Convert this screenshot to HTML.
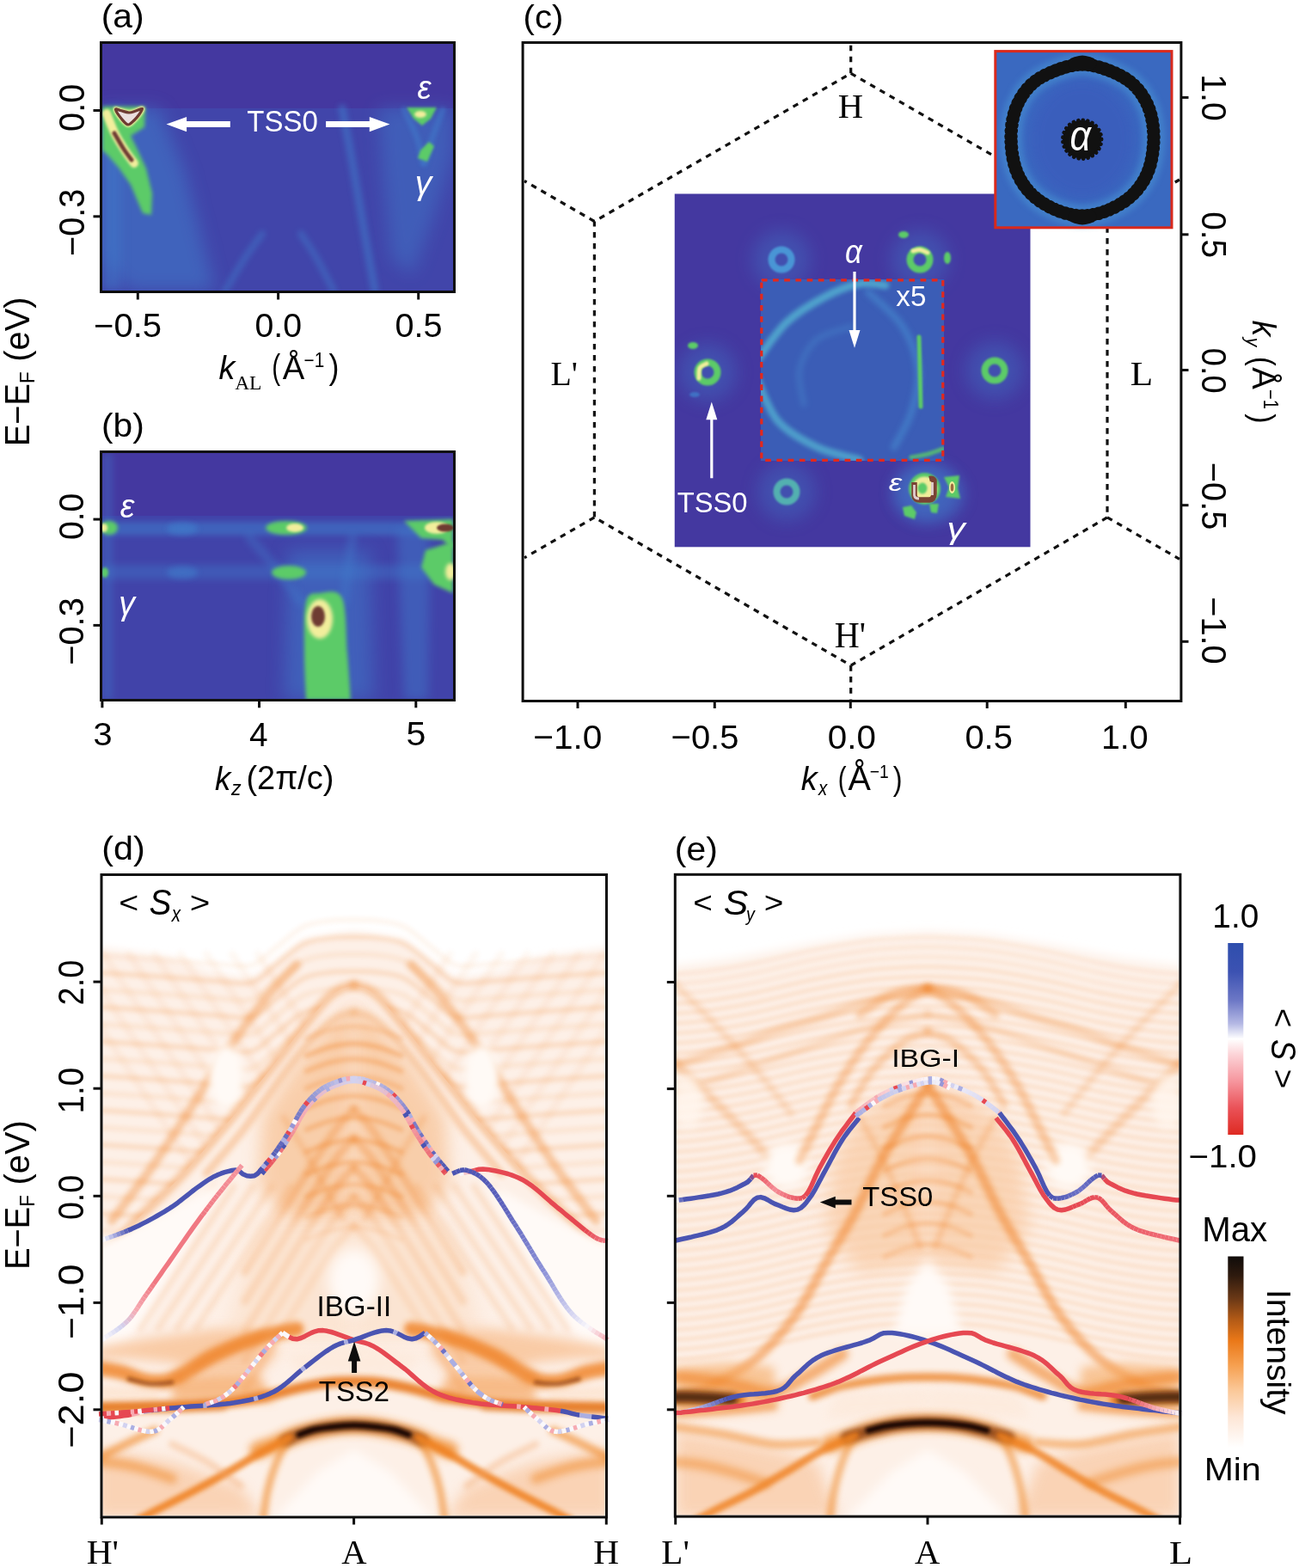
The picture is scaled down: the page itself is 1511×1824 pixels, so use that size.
<!DOCTYPE html>
<html><head><meta charset="utf-8"><style>
html,body{margin:0;padding:0;background:#fff;}
svg{display:block;}
</style></head><body>
<svg width="1511" height="1824" viewBox="0 0 1511 1824">
<rect width="1511" height="1824" fill="#fff"/>
<defs><filter id="b0_5" filterUnits="userSpaceOnUse" x="0" y="0" width="1511" height="1824"><feGaussianBlur stdDeviation="0.5"/></filter><filter id="b0_7" filterUnits="userSpaceOnUse" x="0" y="0" width="1511" height="1824"><feGaussianBlur stdDeviation="0.7"/></filter><filter id="b1" filterUnits="userSpaceOnUse" x="0" y="0" width="1511" height="1824"><feGaussianBlur stdDeviation="1"/></filter><filter id="b1_5" filterUnits="userSpaceOnUse" x="0" y="0" width="1511" height="1824"><feGaussianBlur stdDeviation="1.5"/></filter><filter id="b2" filterUnits="userSpaceOnUse" x="0" y="0" width="1511" height="1824"><feGaussianBlur stdDeviation="2"/></filter><filter id="b2_2" filterUnits="userSpaceOnUse" x="0" y="0" width="1511" height="1824"><feGaussianBlur stdDeviation="2.2"/></filter><filter id="b2_5" filterUnits="userSpaceOnUse" x="0" y="0" width="1511" height="1824"><feGaussianBlur stdDeviation="2.5"/></filter><filter id="b3" filterUnits="userSpaceOnUse" x="0" y="0" width="1511" height="1824"><feGaussianBlur stdDeviation="3"/></filter><filter id="b3_5" filterUnits="userSpaceOnUse" x="0" y="0" width="1511" height="1824"><feGaussianBlur stdDeviation="3.5"/></filter><filter id="b4" filterUnits="userSpaceOnUse" x="0" y="0" width="1511" height="1824"><feGaussianBlur stdDeviation="4"/></filter><filter id="b5" filterUnits="userSpaceOnUse" x="0" y="0" width="1511" height="1824"><feGaussianBlur stdDeviation="5"/></filter><filter id="b6" filterUnits="userSpaceOnUse" x="0" y="0" width="1511" height="1824"><feGaussianBlur stdDeviation="6"/></filter><filter id="b7" filterUnits="userSpaceOnUse" x="0" y="0" width="1511" height="1824"><feGaussianBlur stdDeviation="7"/></filter><filter id="b8" filterUnits="userSpaceOnUse" x="0" y="0" width="1511" height="1824"><feGaussianBlur stdDeviation="8"/></filter><filter id="b9" filterUnits="userSpaceOnUse" x="0" y="0" width="1511" height="1824"><feGaussianBlur stdDeviation="9"/></filter><filter id="b10" filterUnits="userSpaceOnUse" x="0" y="0" width="1511" height="1824"><feGaussianBlur stdDeviation="10"/></filter><filter id="b12" filterUnits="userSpaceOnUse" x="0" y="0" width="1511" height="1824"><feGaussianBlur stdDeviation="12"/></filter><filter id="b15" filterUnits="userSpaceOnUse" x="0" y="0" width="1511" height="1824"><feGaussianBlur stdDeviation="15"/></filter><filter id="b20" filterUnits="userSpaceOnUse" x="0" y="0" width="1511" height="1824"><feGaussianBlur stdDeviation="20"/></filter><filter id="b25" filterUnits="userSpaceOnUse" x="0" y="0" width="1511" height="1824"><feGaussianBlur stdDeviation="25"/></filter><filter id="b30" filterUnits="userSpaceOnUse" x="0" y="0" width="1511" height="1824"><feGaussianBlur stdDeviation="30"/></filter><clipPath id="clipA"><rect x="119" y="51" width="408" height="287"/></clipPath><clipPath id="clipB"><rect x="119" y="527" width="408" height="287"/></clipPath><clipPath id="clipC"><rect x="784.5" y="225.3" width="414.2" height="411.3"/></clipPath><clipPath id="clipI"><rect x="1157" y="59" width="206" height="206"/></clipPath><clipPath id="clipBox"><rect x="885" y="325" width="213" height="211"/></clipPath></defs>
<g clip-path="url(#clipA)">
<rect x="119" y="51" width="408" height="287" fill="#4438a0"/>
<rect x="119" y="126" width="408" height="212" fill="#4145aa"/>
<path d="M119.0,126.0 L185.0,126.0 L215.0,200.0 L250.0,338.0 L150.0,338.0 L119.0,300.0Z" fill="#3f7ccb" stroke="none" opacity="0.55" filter="url(#b10)" stroke-linecap="round" stroke-linejoin="round" />
<path d="M119.0,126.0 L140.0,126.0 L140.0,338.0 L119.0,338.0Z" fill="#3f7ccb" stroke="none" opacity="0.5" filter="url(#b6)" stroke-linecap="round" stroke-linejoin="round" />
<path d="M440.0,126.0 L527.0,126.0 L527.0,180.0 L505.0,250.0 L480.0,320.0 L455.0,300.0 L445.0,200.0Z" fill="#3f7ccb" stroke="none" opacity="0.45" filter="url(#b10)" stroke-linecap="round" stroke-linejoin="round" />
<path d="M398.0,126.0 C400.0,136.7 406.0,167.7 410.0,190.0 C414.0,212.3 417.7,235.3 422.0,260.0 C426.3,284.7 433.7,325.0 436.0,338.0" fill="none" stroke="#3f7ccb" stroke-width="9" opacity="0.55" filter="url(#b3)" stroke-linecap="round" stroke-linejoin="round" />
<path d="M262.0,338.0 C265.8,331.7 277.8,311.0 285.0,300.0 C292.2,289.0 301.7,276.7 305.0,272.0" fill="none" stroke="#3f7ccb" stroke-width="8" opacity="0.45" filter="url(#b3)" stroke-linecap="round" stroke-linejoin="round" />
<path d="M388.0,338.0 C384.7,331.7 374.3,311.0 368.0,300.0 C361.7,289.0 353.0,276.7 350.0,272.0" fill="none" stroke="#3f7ccb" stroke-width="8" opacity="0.45" filter="url(#b3)" stroke-linecap="round" stroke-linejoin="round" />
<path d="M470.0,128.0 C472.5,133.3 481.3,149.7 485.0,160.0 C488.7,170.3 490.8,185.0 492.0,190.0" fill="none" stroke="#3f7ccb" stroke-width="7" opacity="0.5" filter="url(#b2)" stroke-linecap="round" stroke-linejoin="round" />
<path d="M515.0,128.0 C513.0,133.3 506.5,149.7 503.0,160.0 C499.5,170.3 495.5,185.0 494.0,190.0" fill="none" stroke="#3f7ccb" stroke-width="7" opacity="0.5" filter="url(#b2)" stroke-linecap="round" stroke-linejoin="round" />
<path d="M119.0,124.0 L169.0,124.0 L168.0,148.0 L152.0,158.0 L158.0,170.0 L170.0,196.0 L177.0,225.0 L176.0,250.0 L166.0,248.0 L152.0,215.0 L138.0,195.0 L125.0,180.0 L119.0,175.0Z" fill="#5ccb68" stroke="none" opacity="1" filter="url(#b2)" stroke-linecap="round" stroke-linejoin="round" />
<path d="M124.0,132.0 C125.7,136.0 130.3,148.7 134.0,156.0 C137.7,163.3 142.3,170.3 146.0,176.0 C149.7,181.7 154.3,187.7 156.0,190.0" fill="none" stroke="#f2ee9c" stroke-width="10" opacity="1" filter="url(#b1_5)" stroke-linecap="round" stroke-linejoin="round" />
<path d="M133.0,155.0 C134.7,157.8 139.7,166.8 143.0,172.0 C146.3,177.2 151.3,183.7 153.0,186.0" fill="none" stroke="#6e3a30" stroke-width="5" opacity="1" filter="url(#b1)" stroke-linecap="round" stroke-linejoin="round" />
<path d="M134.5,127.5 C134.2,125.8 137.4,127.9 140.0,128.5 C142.6,129.1 147.0,130.9 150.0,131.0 C153.0,131.1 155.4,129.8 158.0,129.0 C160.6,128.2 164.8,125.8 165.5,126.5 C166.2,127.2 163.6,130.8 162.0,133.0 C160.4,135.2 158.2,138.0 156.0,140.0 C153.8,142.0 151.3,145.2 149.0,145.0 C146.7,144.8 144.4,141.9 142.0,139.0 C139.6,136.1 134.8,129.2 134.5,127.5Z" fill="none" stroke="#f2ee9c" stroke-width="6" opacity="1" filter="url(#b1)" stroke-linecap="round" stroke-linejoin="round" />
<path d="M134.5,127.5 C134.2,125.8 137.4,127.9 140.0,128.5 C142.6,129.1 147.0,130.9 150.0,131.0 C153.0,131.1 155.4,129.8 158.0,129.0 C160.6,128.2 164.8,125.8 165.5,126.5 C166.2,127.2 163.6,130.8 162.0,133.0 C160.4,135.2 158.2,138.0 156.0,140.0 C153.8,142.0 151.3,145.2 149.0,145.0 C146.7,144.8 144.4,141.9 142.0,139.0 C139.6,136.1 134.8,129.2 134.5,127.5Z" fill="#eadede" stroke="#6e3a30" stroke-width="3.2" opacity="1" filter="url(#b0_5)" stroke-linecap="round" stroke-linejoin="round" />
<path d="M473.0,125.0 L508.0,125.0 L501.0,138.0 L491.0,146.0 L481.0,138.0Z" fill="#5ccb68" stroke="none" opacity="1" filter="url(#b1_5)" stroke-linecap="round" stroke-linejoin="round" />
<ellipse cx="489" cy="133" rx="7" ry="4" fill="#f2ee9c" opacity="1" filter="url(#b1_5)"/>
<path d="M499.0,165.0 L505.0,170.0 L497.0,188.0 L486.0,184.0 L489.0,175.0Z" fill="#5ccb68" stroke="none" opacity="1" filter="url(#b1_5)" stroke-linecap="round" stroke-linejoin="round" />
</g>
<g clip-path="url(#clipB)">
<rect x="119" y="527" width="408" height="287" fill="#4438a0"/>
<rect x="119" y="600" width="408" height="214" fill="#4143a9"/>
<rect x="119" y="607" width="408" height="16" fill="#3f7ccb" opacity="0.55" filter="url(#b3)"/>
<rect x="119" y="657" width="408" height="17" fill="#3f7ccb" opacity="0.4" filter="url(#b4)"/>
<rect x="119" y="527" width="12" height="287" fill="#3f7ccb" opacity="0.35" filter="url(#b4)"/>
<path d="M335.0,640.0 L430.0,640.0 L435.0,814.0 L330.0,814.0Z" fill="#3f7ccb" stroke="none" opacity="0.5" filter="url(#b10)" stroke-linecap="round" stroke-linejoin="round" />
<path d="M462.0,615.0 L500.0,615.0 L498.0,814.0 L470.0,814.0Z" fill="#3f7ccb" stroke="none" opacity="0.45" filter="url(#b6)" stroke-linecap="round" stroke-linejoin="round" />
<path d="M290.0,625.0 C295.0,630.8 310.0,647.5 320.0,660.0 C330.0,672.5 345.0,693.3 350.0,700.0" fill="none" stroke="#3f7ccb" stroke-width="10" opacity="0.4" filter="url(#b4)" stroke-linecap="round" stroke-linejoin="round" />
<path d="M410.0,625.0 C409.2,630.8 406.7,647.5 405.0,660.0 C403.3,672.5 400.8,693.3 400.0,700.0" fill="none" stroke="#3f7ccb" stroke-width="10" opacity="0.4" filter="url(#b4)" stroke-linecap="round" stroke-linejoin="round" />
<ellipse cx="212" cy="615" rx="18" ry="7" fill="#3f7ccb" opacity="0.7" filter="url(#b3)"/>
<ellipse cx="212" cy="666" rx="18" ry="7" fill="#3f7ccb" opacity="0.6" filter="url(#b3)"/>
<ellipse cx="127" cy="614" rx="10" ry="8" fill="#5ccb68" opacity="1" filter="url(#b2)"/>
<ellipse cx="121" cy="614" rx="4" ry="5" fill="#f2ee9c" opacity="1" filter="url(#b1_5)"/>
<ellipse cx="333" cy="614" rx="24" ry="8" fill="#5ccb68" opacity="1" filter="url(#b2)"/>
<ellipse cx="343" cy="614" rx="10" ry="5" fill="#f2ee9c" opacity="1" filter="url(#b1_5)"/>
<ellipse cx="336" cy="666" rx="20" ry="8" fill="#5ccb68" opacity="1" filter="url(#b2)"/>
<ellipse cx="122" cy="666" rx="4" ry="6" fill="#5ccb68" opacity="1" filter="url(#b1_5)"/>
<path d="M470.0,606.0 L527.0,604.0 L527.0,640.0 L515.0,628.0 L490.0,626.0Z" fill="#5ccb68" stroke="none" opacity="1" filter="url(#b2)" stroke-linecap="round" stroke-linejoin="round" />
<ellipse cx="508" cy="614" rx="14" ry="7" fill="#f2ee9c" opacity="1" filter="url(#b1_5)"/>
<ellipse cx="518" cy="614" rx="10" ry="4.5" fill="#6e3a30" opacity="1" filter="url(#b1)"/>
<path d="M495.0,640.0 L527.0,630.0 L527.0,690.0 L505.0,680.0 L490.0,660.0Z" fill="#5ccb68" stroke="none" opacity="1" filter="url(#b2)" stroke-linecap="round" stroke-linejoin="round" />
<ellipse cx="524" cy="665" rx="6" ry="10" fill="#f2ee9c" opacity="1" filter="url(#b2)"/>
<path d="M356.0,814.0 C355.7,805.0 354.0,779.0 354.0,760.0 C354.0,741.0 353.0,711.7 356.0,700.0 C359.0,688.3 365.0,690.7 372.0,690.0 C379.0,689.3 392.7,684.3 398.0,696.0 C403.3,707.7 402.3,740.3 404.0,760.0 C405.7,779.7 407.3,805.0 408.0,814.0" fill="#5ccb68" stroke="none" opacity="1" filter="url(#b2)" stroke-linecap="round" stroke-linejoin="round" />
<ellipse cx="372" cy="720" rx="15" ry="23" fill="#f2ee9c" opacity="1" filter="url(#b2)"/>
<ellipse cx="370" cy="717" rx="8" ry="12" fill="#6e3a30" opacity="1" filter="url(#b1_5)"/>
</g>
<path d="M989.7,85.3 L1288.0,257.5 L1288.0,601.9 L989.7,774.1 L691.4,601.9 L691.4,257.5Z" fill="none" stroke="#111" stroke-width="3.2" stroke-dasharray="6.6 6.4"/>
<line x1="989.7" y1="85.3" x2="989.7" y2="51.0" stroke="#111" stroke-width="3.2" stroke-dasharray="6.6 6.4"/>
<line x1="989.7" y1="774.1" x2="989.7" y2="813.5" stroke="#111" stroke-width="3.2" stroke-dasharray="6.6 6.4"/>
<line x1="691.4" y1="257.5" x2="610.0" y2="210.5" stroke="#111" stroke-width="3.2" stroke-dasharray="6.6 6.4"/>
<line x1="691.4" y1="601.9" x2="610.0" y2="648.9" stroke="#111" stroke-width="3.2" stroke-dasharray="6.6 6.4"/>
<line x1="1288.0" y1="257.5" x2="1372.0" y2="209.0" stroke="#111" stroke-width="3.2" stroke-dasharray="6.6 6.4"/>
<line x1="1288.0" y1="601.9" x2="1372.0" y2="650.4" stroke="#111" stroke-width="3.2" stroke-dasharray="6.6 6.4"/>
<g clip-path="url(#clipC)">
<rect x="784.5" y="225.3" width="414.2" height="411.3" fill="#4438a0"/>
<ellipse cx="909" cy="302" rx="34" ry="34" fill="#3f7ccb" opacity="0.35" filter="url(#b10)"/>
<ellipse cx="1070" cy="302" rx="34" ry="34" fill="#3f7ccb" opacity="0.35" filter="url(#b10)"/>
<ellipse cx="823" cy="433" rx="34" ry="34" fill="#3f7ccb" opacity="0.35" filter="url(#b10)"/>
<ellipse cx="1157" cy="431" rx="34" ry="34" fill="#3f7ccb" opacity="0.35" filter="url(#b10)"/>
<ellipse cx="915" cy="572" rx="34" ry="34" fill="#3f7ccb" opacity="0.35" filter="url(#b10)"/>
<ellipse cx="1075" cy="569" rx="34" ry="34" fill="#3f7ccb" opacity="0.35" filter="url(#b10)"/>
<g clip-path="url(#clipBox)">
<rect x="885" y="325" width="213" height="211" fill="#3b5db6"/>
<path d="M880.0,420.0 C885.8,412.5 901.7,387.5 915.0,375.0 C928.3,362.5 945.8,352.5 960.0,345.0 C974.2,337.5 988.3,332.2 1000.0,330.0 C1011.7,327.8 1025.0,331.7 1030.0,332.0" fill="none" stroke="#52aed0" stroke-width="9" opacity="0.85" filter="url(#b2_5)" stroke-linecap="round" stroke-linejoin="round" />
<path d="M880.0,440.0 C884.2,448.3 893.3,476.7 905.0,490.0 C916.7,503.3 934.2,512.5 950.0,520.0 C965.8,527.5 991.7,532.5 1000.0,535.0" fill="none" stroke="#52aed0" stroke-width="9" opacity="0.8" filter="url(#b2_5)" stroke-linecap="round" stroke-linejoin="round" />
<path d="M1010.0,340.0 C1016.7,346.7 1040.3,365.0 1050.0,380.0 C1059.7,395.0 1066.3,413.3 1068.0,430.0 C1069.7,446.7 1064.7,465.0 1060.0,480.0 C1055.3,495.0 1043.3,513.3 1040.0,520.0" fill="none" stroke="#4a95d5" stroke-width="8" opacity="0.5" filter="url(#b3)" stroke-linecap="round" stroke-linejoin="round" />
<path d="M935.0,470.0 C934.2,463.3 927.5,442.5 930.0,430.0 C932.5,417.5 940.0,403.3 950.0,395.0 C960.0,386.7 983.3,382.5 990.0,380.0" fill="none" stroke="#4a90d0" stroke-width="7" opacity="0.35" filter="url(#b3)" stroke-linecap="round" stroke-linejoin="round" />
<path d="M1069.0,392.0 C1069.2,398.3 1069.7,416.5 1070.0,430.0 C1070.3,443.5 1070.8,465.8 1071.0,473.0" fill="none" stroke="#5ccb68" stroke-width="5" opacity="1" filter="url(#b1)" stroke-linecap="round" stroke-linejoin="round" />
<path d="M1060.0,532.0 C1063.3,531.3 1073.8,529.7 1080.0,528.0 C1086.2,526.3 1094.2,523.0 1097.0,522.0" fill="none" stroke="#5ccb68" stroke-width="5" opacity="0.8" filter="url(#b1_5)" stroke-linecap="round" stroke-linejoin="round" />
</g>
<circle cx="909" cy="302" r="11.5" fill="none" stroke="#4a95d5" stroke-width="8" opacity="1" filter="url(#b1)"/>
<circle cx="1070" cy="302" r="11.5" fill="none" stroke="#5ccb68" stroke-width="8" opacity="1" filter="url(#b1)"/>
<path d="M1062.0,292.0 C1063.3,291.8 1067.2,290.2 1070.0,290.5 C1072.8,290.8 1077.5,293.4 1079.0,294.0" fill="none" stroke="#f2ee9c" stroke-width="5" opacity="1" filter="url(#b1)" stroke-linecap="round" stroke-linejoin="round" />
<circle cx="1157" cy="431" r="11.5" fill="none" stroke="#5ccb68" stroke-width="8" opacity="1" filter="url(#b1)"/>
<circle cx="823" cy="433" r="11.5" fill="none" stroke="#5ccb68" stroke-width="8" opacity="1" filter="url(#b1)"/>
<path d="M813.0,440.0 C813.2,438.0 812.5,430.8 814.0,428.0 C815.5,425.2 820.7,423.8 822.0,423.0" fill="none" stroke="#f2ee9c" stroke-width="5" opacity="1" filter="url(#b1)" stroke-linecap="round" stroke-linejoin="round" />
<circle cx="915" cy="572" r="11.5" fill="none" stroke="#52b0b0" stroke-width="8" opacity="1" filter="url(#b1)"/>
<ellipse cx="1051" cy="273" rx="6" ry="4" fill="#5ccb68" opacity="1" filter="url(#b1)"/>
<ellipse cx="1102" cy="300" rx="4" ry="7" fill="#5ccb68" opacity="1" filter="url(#b1)"/>
<ellipse cx="806" cy="402" rx="6" ry="4" fill="#5ccb68" opacity="1" filter="url(#b1)"/>
<ellipse cx="808" cy="459" rx="6" ry="3" fill="#3f7ccb" opacity="0.8" filter="url(#b1)"/>
<ellipse cx="1080" cy="575" rx="42" ry="34" fill="#3f7ccb" opacity="0.5" filter="url(#b8)"/>
<path d="M1098.0,555.0 L1116.0,553.0 L1114.0,568.0 L1117.0,580.0 L1100.0,578.0 L1104.0,567.0Z" fill="#5ccb68" stroke="none" opacity="1" filter="url(#b1)" stroke-linecap="round" stroke-linejoin="round" />
<ellipse cx="1107.5" cy="567" rx="3.5" ry="7" fill="#f2ee9c" opacity="1" filter="url(#b0_7)"/>
<ellipse cx="1107.5" cy="567" rx="1.8" ry="4.5" fill="#9a6a40" opacity="1" filter="url(#b0_5)"/>
<path d="M1050.0,590.0 L1060.0,588.0 L1066.0,596.0 L1064.0,604.0 L1052.0,600.0Z" fill="#5ccb68" stroke="none" opacity="1" filter="url(#b1)" stroke-linecap="round" stroke-linejoin="round" />
<path d="M1081.0,586.0 L1092.0,586.0 L1090.0,597.0 L1083.0,596.0Z" fill="#5ccb68" stroke="none" opacity="1" filter="url(#b1)" stroke-linecap="round" stroke-linejoin="round" />
<circle cx="1075.5" cy="568.5" r="18.5" fill="#5ccb68" filter="url(#b1)"/>
<circle cx="1075.5" cy="569" r="14.5" fill="#f0ec9a" filter="url(#b1)"/>
<ellipse cx="1073" cy="568" rx="5.5" ry="6.5" fill="#5ccb68" opacity="1" filter="url(#b1)"/>
<path d="M1063.5,561 L1063.5,576 Q1064,581.5 1070,581.5 L1081,581.5 Q1086.5,581 1086.5,574 L1086.5,559 Q1085,556 1081,557" fill="none" stroke="#7a4234" stroke-width="6.5" stroke-linejoin="round"/>
<path d="M1063.5,564 L1063.5,576 Q1064,580 1069,580 M1084.5,576 L1084.5,561" fill="none" stroke="#eadede" stroke-width="2.8" opacity="0.9"/>
</g>
<rect x="885.8" y="325.8" width="211" height="209.5" fill="none" stroke="#e4281c" stroke-width="3.2" stroke-dasharray="6.7 6.5"/>
<g clip-path="url(#clipI)">
<rect x="1157" y="59" width="206" height="206" fill="#3a69c0"/>
<ellipse cx="1259" cy="162" rx="62" ry="70" fill="#3a5cbc" opacity="0.8" filter="url(#b8)"/>
</g>
<path d="M1259.0,75.0 C1269.3,75.0 1280.2,78.2 1290.0,82.0 C1299.8,85.8 1310.3,90.8 1318.0,98.0 C1325.7,105.2 1332.0,114.7 1336.0,125.0 C1340.0,135.3 1342.0,147.8 1342.0,160.0 C1342.0,172.2 1340.0,187.0 1336.0,198.0 C1332.0,209.0 1325.7,218.3 1318.0,226.0 C1310.3,233.7 1299.8,239.8 1290.0,244.0 C1280.2,248.2 1269.3,251.0 1259.0,251.0 C1248.7,251.0 1237.8,248.2 1228.0,244.0 C1218.2,239.8 1207.7,233.7 1200.0,226.0 C1192.3,218.3 1186.0,209.0 1182.0,198.0 C1178.0,187.0 1176.0,172.2 1176.0,160.0 C1176.0,147.8 1178.0,135.3 1182.0,125.0 C1186.0,114.7 1192.3,105.2 1200.0,98.0 C1207.7,90.8 1218.2,85.8 1228.0,82.0 C1237.8,78.2 1248.7,75.0 1259.0,75.0Z" fill="none" stroke="#4a95d5" stroke-width="26" opacity="0.5" filter="url(#b3)" stroke-linecap="round" stroke-linejoin="round" />
<path d="M1259.0,75.0 C1269.3,75.0 1280.2,78.2 1290.0,82.0 C1299.8,85.8 1310.3,90.8 1318.0,98.0 C1325.7,105.2 1332.0,114.7 1336.0,125.0 C1340.0,135.3 1342.0,147.8 1342.0,160.0 C1342.0,172.2 1340.0,187.0 1336.0,198.0 C1332.0,209.0 1325.7,218.3 1318.0,226.0 C1310.3,233.7 1299.8,239.8 1290.0,244.0 C1280.2,248.2 1269.3,251.0 1259.0,251.0 C1248.7,251.0 1237.8,248.2 1228.0,244.0 C1218.2,239.8 1207.7,233.7 1200.0,226.0 C1192.3,218.3 1186.0,209.0 1182.0,198.0 C1178.0,187.0 1176.0,172.2 1176.0,160.0 C1176.0,147.8 1178.0,135.3 1182.0,125.0 C1186.0,114.7 1192.3,105.2 1200.0,98.0 C1207.7,90.8 1218.2,85.8 1228.0,82.0 C1237.8,78.2 1248.7,75.0 1259.0,75.0Z" fill="none" stroke="#111" stroke-width="12.5" opacity="1" stroke-linecap="round" stroke-linejoin="round" />
<path d="M1259.0,75.0 C1269.3,75.0 1280.2,78.2 1290.0,82.0 C1299.8,85.8 1310.3,90.8 1318.0,98.0 C1325.7,105.2 1332.0,114.7 1336.0,125.0 C1340.0,135.3 1342.0,147.8 1342.0,160.0 C1342.0,172.2 1340.0,187.0 1336.0,198.0 C1332.0,209.0 1325.7,218.3 1318.0,226.0 C1310.3,233.7 1299.8,239.8 1290.0,244.0 C1280.2,248.2 1269.3,251.0 1259.0,251.0 C1248.7,251.0 1237.8,248.2 1228.0,244.0 C1218.2,239.8 1207.7,233.7 1200.0,226.0 C1192.3,218.3 1186.0,209.0 1182.0,198.0 C1178.0,187.0 1176.0,172.2 1176.0,160.0 C1176.0,147.8 1178.0,135.3 1182.0,125.0 C1186.0,114.7 1192.3,105.2 1200.0,98.0 C1207.7,90.8 1218.2,85.8 1228.0,82.0 C1237.8,78.2 1248.7,75.0 1259.0,75.0Z" fill="none" stroke="#111" stroke-width="15.5" opacity="1" stroke-linecap="round" stroke-linejoin="round" stroke-dasharray="0.1 6.5"/>
<path d="M1250.0,74.0 C1251.5,73.7 1256.0,72.0 1259.0,72.0 C1262.0,72.0 1266.5,73.7 1268.0,74.0" fill="none" stroke="#111" stroke-width="15" opacity="1" stroke-linecap="round" stroke-linejoin="round" />
<path d="M1250.0,252.0 C1251.5,252.3 1256.0,254.0 1259.0,254.0 C1262.0,254.0 1266.5,252.3 1268.0,252.0" fill="none" stroke="#111" stroke-width="15" opacity="1" stroke-linecap="round" stroke-linejoin="round" />
<circle cx="1258.7" cy="162.2" r="22.5" fill="#111"/>
<circle cx="1258.7" cy="162.2" r="22.5" fill="none" stroke="#111" stroke-width="4.5" stroke-dasharray="0.1 5.5" stroke-linecap="round"/>
<rect x="1157.8" y="59.6" width="205.2" height="205.2" fill="none" stroke="#d9291c" stroke-width="3"/>
<clipPath id="clipD"><rect x="119.5" y="1019" width="584.2" height="744"/></clipPath>
<clipPath id="clipDup"><path d="M100.0,1000.0 L720.0,1000.0 L723.2,1480.0 L663.2,1418.0 L612.2,1368.0 L553.2,1300.0 L523.2,1262.0 L493.2,1224.0 L468.2,1192.0 L443.2,1162.0 L426.2,1150.0 L411.6,1146.0 L411.6,1146.0 L397.0,1150.0 L380.0,1162.0 L355.0,1192.0 L330.0,1224.0 L300.0,1262.0 L270.0,1300.0 L211.0,1368.0 L160.0,1418.0 L100.0,1480.0Z"/></clipPath>
<g clip-path="url(#clipD)">
<path d="M100.0,1100.0 L197.0,1113.0 L250.0,1131.0 L292.0,1137.0 L320.0,1117.0 L353.0,1092.0 L411.6,1083.0 L470.2,1092.0 L503.2,1117.0 L531.2,1137.0 L573.2,1131.0 L626.2,1113.0 L723.2,1100.0 L720.0,1780.0 L100.0,1780.0Z" fill="#fdf0e7" opacity="1" filter="url(#b5)"/>
<g clip-path="url(#clipDup)">
<path d="M100.0,1112.0 C103.8,1112.0 106.8,1111.2 123.0,1112.0 C139.2,1112.8 175.8,1115.5 197.0,1117.0 C218.2,1118.5 234.2,1120.0 250.0,1121.0 C265.8,1122.0 280.3,1126.0 292.0,1123.0 C303.7,1120.0 309.8,1110.5 320.0,1103.0 C330.2,1095.5 342.2,1083.3 353.0,1078.0 C363.8,1072.7 375.2,1072.3 385.0,1071.0 C394.8,1069.7 402.7,1070.0 411.6,1070.0 C420.5,1070.0 428.4,1069.7 438.2,1071.0 C448.0,1072.3 459.4,1072.7 470.2,1078.0 C481.0,1083.3 493.0,1095.5 503.2,1103.0 C513.4,1110.5 519.5,1120.0 531.2,1123.0 C542.9,1126.0 557.4,1122.0 573.2,1121.0 C589.0,1120.0 605.0,1118.5 626.2,1117.0 C647.4,1115.5 684.0,1112.8 700.2,1112.0 C716.4,1111.2 719.4,1112.0 723.2,1112.0" fill="none" stroke="#f07d1e" stroke-width="6" opacity="0.07" filter="url(#b2_5)" stroke-linecap="round"/>
<path d="M100.0,1132.0 C103.8,1132.0 106.8,1131.2 123.0,1132.0 C139.2,1132.8 175.8,1135.5 197.0,1137.0 C218.2,1138.5 234.2,1140.0 250.0,1141.0 C265.8,1142.0 280.3,1146.0 292.0,1143.0 C303.7,1140.0 309.8,1130.5 320.0,1123.0 C330.2,1115.5 342.2,1103.3 353.0,1098.0 C363.8,1092.7 375.2,1092.3 385.0,1091.0 C394.8,1089.7 402.7,1090.0 411.6,1090.0 C420.5,1090.0 428.4,1089.7 438.2,1091.0 C448.0,1092.3 459.4,1092.7 470.2,1098.0 C481.0,1103.3 493.0,1115.5 503.2,1123.0 C513.4,1130.5 519.5,1140.0 531.2,1143.0 C542.9,1146.0 557.4,1142.0 573.2,1141.0 C589.0,1140.0 605.0,1138.5 626.2,1137.0 C647.4,1135.5 684.0,1132.8 700.2,1132.0 C716.4,1131.2 719.4,1132.0 723.2,1132.0" fill="none" stroke="#f07d1e" stroke-width="6" opacity="0.17" filter="url(#b2_5)" stroke-linecap="round"/>
<path d="M100.0,1152.0 C103.8,1152.0 106.8,1151.2 123.0,1152.0 C139.2,1152.8 175.8,1155.5 197.0,1157.0 C218.2,1158.5 234.2,1160.0 250.0,1161.0 C265.8,1162.0 280.3,1166.0 292.0,1163.0 C303.7,1160.0 309.8,1150.5 320.0,1143.0 C330.2,1135.5 342.2,1123.3 353.0,1118.0 C363.8,1112.7 375.2,1112.3 385.0,1111.0 C394.8,1109.7 402.7,1110.0 411.6,1110.0 C420.5,1110.0 428.4,1109.7 438.2,1111.0 C448.0,1112.3 459.4,1112.7 470.2,1118.0 C481.0,1123.3 493.0,1135.5 503.2,1143.0 C513.4,1150.5 519.5,1160.0 531.2,1163.0 C542.9,1166.0 557.4,1162.0 573.2,1161.0 C589.0,1160.0 605.0,1158.5 626.2,1157.0 C647.4,1155.5 684.0,1152.8 700.2,1152.0 C716.4,1151.2 719.4,1152.0 723.2,1152.0" fill="none" stroke="#f07d1e" stroke-width="6" opacity="0.09" filter="url(#b2_5)" stroke-linecap="round"/>
<path d="M100.0,1172.0 C103.8,1172.0 106.8,1171.2 123.0,1172.0 C139.2,1172.8 175.8,1175.5 197.0,1177.0 C218.2,1178.5 234.2,1180.0 250.0,1181.0 C265.8,1182.0 280.3,1186.0 292.0,1183.0 C303.7,1180.0 309.8,1170.5 320.0,1163.0 C330.2,1155.5 342.2,1143.3 353.0,1138.0 C363.8,1132.7 375.2,1132.3 385.0,1131.0 C394.8,1129.7 402.7,1130.0 411.6,1130.0 C420.5,1130.0 428.4,1129.7 438.2,1131.0 C448.0,1132.3 459.4,1132.7 470.2,1138.0 C481.0,1143.3 493.0,1155.5 503.2,1163.0 C513.4,1170.5 519.5,1180.0 531.2,1183.0 C542.9,1186.0 557.4,1182.0 573.2,1181.0 C589.0,1180.0 605.0,1178.5 626.2,1177.0 C647.4,1175.5 684.0,1172.8 700.2,1172.0 C716.4,1171.2 719.4,1172.0 723.2,1172.0" fill="none" stroke="#f07d1e" stroke-width="6" opacity="0.17" filter="url(#b2_5)" stroke-linecap="round"/>
<path d="M100.0,1192.0 C103.8,1192.0 106.8,1191.2 123.0,1192.0 C139.2,1192.8 175.8,1195.5 197.0,1197.0 C218.2,1198.5 234.2,1200.0 250.0,1201.0 C265.8,1202.0 280.3,1206.0 292.0,1203.0 C303.7,1200.0 309.8,1190.5 320.0,1183.0 C330.2,1175.5 342.2,1163.3 353.0,1158.0 C363.8,1152.7 375.2,1152.3 385.0,1151.0 C394.8,1149.7 402.7,1150.0 411.6,1150.0 C420.5,1150.0 428.4,1149.7 438.2,1151.0 C448.0,1152.3 459.4,1152.7 470.2,1158.0 C481.0,1163.3 493.0,1175.5 503.2,1183.0 C513.4,1190.5 519.5,1200.0 531.2,1203.0 C542.9,1206.0 557.4,1202.0 573.2,1201.0 C589.0,1200.0 605.0,1198.5 626.2,1197.0 C647.4,1195.5 684.0,1192.8 700.2,1192.0 C716.4,1191.2 719.4,1192.0 723.2,1192.0" fill="none" stroke="#f07d1e" stroke-width="6" opacity="0.09" filter="url(#b2_5)" stroke-linecap="round"/>
<path d="M100.0,1212.0 C103.8,1212.0 106.8,1211.2 123.0,1212.0 C139.2,1212.8 175.8,1215.5 197.0,1217.0 C218.2,1218.5 234.2,1220.0 250.0,1221.0 C265.8,1222.0 280.3,1226.0 292.0,1223.0 C303.7,1220.0 309.8,1210.5 320.0,1203.0 C330.2,1195.5 342.2,1183.3 353.0,1178.0 C363.8,1172.7 375.2,1172.3 385.0,1171.0 C394.8,1169.7 402.7,1170.0 411.6,1170.0 C420.5,1170.0 428.4,1169.7 438.2,1171.0 C448.0,1172.3 459.4,1172.7 470.2,1178.0 C481.0,1183.3 493.0,1195.5 503.2,1203.0 C513.4,1210.5 519.5,1220.0 531.2,1223.0 C542.9,1226.0 557.4,1222.0 573.2,1221.0 C589.0,1220.0 605.0,1218.5 626.2,1217.0 C647.4,1215.5 684.0,1212.8 700.2,1212.0 C716.4,1211.2 719.4,1212.0 723.2,1212.0" fill="none" stroke="#f07d1e" stroke-width="6" opacity="0.17" filter="url(#b2_5)" stroke-linecap="round"/>
<path d="M100.0,1232.0 C103.8,1232.0 106.8,1231.2 123.0,1232.0 C139.2,1232.8 175.8,1235.5 197.0,1237.0 C218.2,1238.5 234.2,1240.0 250.0,1241.0 C265.8,1242.0 280.3,1246.0 292.0,1243.0 C303.7,1240.0 309.8,1230.5 320.0,1223.0 C330.2,1215.5 342.2,1203.3 353.0,1198.0 C363.8,1192.7 375.2,1192.3 385.0,1191.0 C394.8,1189.7 402.7,1190.0 411.6,1190.0 C420.5,1190.0 428.4,1189.7 438.2,1191.0 C448.0,1192.3 459.4,1192.7 470.2,1198.0 C481.0,1203.3 493.0,1215.5 503.2,1223.0 C513.4,1230.5 519.5,1240.0 531.2,1243.0 C542.9,1246.0 557.4,1242.0 573.2,1241.0 C589.0,1240.0 605.0,1238.5 626.2,1237.0 C647.4,1235.5 684.0,1232.8 700.2,1232.0 C716.4,1231.2 719.4,1232.0 723.2,1232.0" fill="none" stroke="#f07d1e" stroke-width="6" opacity="0.09" filter="url(#b2_5)" stroke-linecap="round"/>
<path d="M100.0,1252.0 C103.8,1252.0 106.8,1251.2 123.0,1252.0 C139.2,1252.8 175.8,1255.5 197.0,1257.0 C218.2,1258.5 234.2,1260.0 250.0,1261.0 C265.8,1262.0 280.3,1266.0 292.0,1263.0 C303.7,1260.0 309.8,1250.5 320.0,1243.0 C330.2,1235.5 342.2,1223.3 353.0,1218.0 C363.8,1212.7 375.2,1212.3 385.0,1211.0 C394.8,1209.7 402.7,1210.0 411.6,1210.0 C420.5,1210.0 428.4,1209.7 438.2,1211.0 C448.0,1212.3 459.4,1212.7 470.2,1218.0 C481.0,1223.3 493.0,1235.5 503.2,1243.0 C513.4,1250.5 519.5,1260.0 531.2,1263.0 C542.9,1266.0 557.4,1262.0 573.2,1261.0 C589.0,1260.0 605.0,1258.5 626.2,1257.0 C647.4,1255.5 684.0,1252.8 700.2,1252.0 C716.4,1251.2 719.4,1252.0 723.2,1252.0" fill="none" stroke="#f07d1e" stroke-width="6" opacity="0.17" filter="url(#b2_5)" stroke-linecap="round"/>
<path d="M100.0,1272.0 C103.8,1272.0 106.8,1271.2 123.0,1272.0 C139.2,1272.8 175.8,1275.5 197.0,1277.0 C218.2,1278.5 234.2,1280.0 250.0,1281.0 C265.8,1282.0 280.3,1286.0 292.0,1283.0 C303.7,1280.0 309.8,1270.5 320.0,1263.0 C330.2,1255.5 342.2,1243.3 353.0,1238.0 C363.8,1232.7 375.2,1232.3 385.0,1231.0 C394.8,1229.7 402.7,1230.0 411.6,1230.0 C420.5,1230.0 428.4,1229.7 438.2,1231.0 C448.0,1232.3 459.4,1232.7 470.2,1238.0 C481.0,1243.3 493.0,1255.5 503.2,1263.0 C513.4,1270.5 519.5,1280.0 531.2,1283.0 C542.9,1286.0 557.4,1282.0 573.2,1281.0 C589.0,1280.0 605.0,1278.5 626.2,1277.0 C647.4,1275.5 684.0,1272.8 700.2,1272.0 C716.4,1271.2 719.4,1272.0 723.2,1272.0" fill="none" stroke="#f07d1e" stroke-width="6" opacity="0.09" filter="url(#b2_5)" stroke-linecap="round"/>
<path d="M100.0,1292.0 C103.8,1292.0 106.8,1291.2 123.0,1292.0 C139.2,1292.8 175.8,1295.5 197.0,1297.0 C218.2,1298.5 234.2,1300.0 250.0,1301.0 C265.8,1302.0 280.3,1306.0 292.0,1303.0 C303.7,1300.0 309.8,1290.5 320.0,1283.0 C330.2,1275.5 342.2,1263.3 353.0,1258.0 C363.8,1252.7 375.2,1252.3 385.0,1251.0 C394.8,1249.7 402.7,1250.0 411.6,1250.0 C420.5,1250.0 428.4,1249.7 438.2,1251.0 C448.0,1252.3 459.4,1252.7 470.2,1258.0 C481.0,1263.3 493.0,1275.5 503.2,1283.0 C513.4,1290.5 519.5,1300.0 531.2,1303.0 C542.9,1306.0 557.4,1302.0 573.2,1301.0 C589.0,1300.0 605.0,1298.5 626.2,1297.0 C647.4,1295.5 684.0,1292.8 700.2,1292.0 C716.4,1291.2 719.4,1292.0 723.2,1292.0" fill="none" stroke="#f07d1e" stroke-width="6" opacity="0.17" filter="url(#b2_5)" stroke-linecap="round"/>
<path d="M100.0,1312.0 C103.8,1312.0 106.8,1311.2 123.0,1312.0 C139.2,1312.8 175.8,1315.5 197.0,1317.0 C218.2,1318.5 234.2,1320.0 250.0,1321.0 C265.8,1322.0 280.3,1326.0 292.0,1323.0 C303.7,1320.0 309.8,1310.5 320.0,1303.0 C330.2,1295.5 342.2,1283.3 353.0,1278.0 C363.8,1272.7 375.2,1272.3 385.0,1271.0 C394.8,1269.7 402.7,1270.0 411.6,1270.0 C420.5,1270.0 428.4,1269.7 438.2,1271.0 C448.0,1272.3 459.4,1272.7 470.2,1278.0 C481.0,1283.3 493.0,1295.5 503.2,1303.0 C513.4,1310.5 519.5,1320.0 531.2,1323.0 C542.9,1326.0 557.4,1322.0 573.2,1321.0 C589.0,1320.0 605.0,1318.5 626.2,1317.0 C647.4,1315.5 684.0,1312.8 700.2,1312.0 C716.4,1311.2 719.4,1312.0 723.2,1312.0" fill="none" stroke="#f07d1e" stroke-width="6" opacity="0.09" filter="url(#b2_5)" stroke-linecap="round"/>
<path d="M100.0,1332.0 C103.8,1332.0 106.8,1331.2 123.0,1332.0 C139.2,1332.8 175.8,1335.5 197.0,1337.0 C218.2,1338.5 234.2,1340.0 250.0,1341.0 C265.8,1342.0 280.3,1346.0 292.0,1343.0 C303.7,1340.0 309.8,1330.5 320.0,1323.0 C330.2,1315.5 342.2,1303.3 353.0,1298.0 C363.8,1292.7 375.2,1292.3 385.0,1291.0 C394.8,1289.7 402.7,1290.0 411.6,1290.0 C420.5,1290.0 428.4,1289.7 438.2,1291.0 C448.0,1292.3 459.4,1292.7 470.2,1298.0 C481.0,1303.3 493.0,1315.5 503.2,1323.0 C513.4,1330.5 519.5,1340.0 531.2,1343.0 C542.9,1346.0 557.4,1342.0 573.2,1341.0 C589.0,1340.0 605.0,1338.5 626.2,1337.0 C647.4,1335.5 684.0,1332.8 700.2,1332.0 C716.4,1331.2 719.4,1332.0 723.2,1332.0" fill="none" stroke="#f07d1e" stroke-width="6" opacity="0.17" filter="url(#b2_5)" stroke-linecap="round"/>
<path d="M100.0,1352.0 C103.8,1352.0 106.8,1351.2 123.0,1352.0 C139.2,1352.8 175.8,1355.5 197.0,1357.0 C218.2,1358.5 234.2,1360.0 250.0,1361.0 C265.8,1362.0 280.3,1366.0 292.0,1363.0 C303.7,1360.0 309.8,1350.5 320.0,1343.0 C330.2,1335.5 342.2,1323.3 353.0,1318.0 C363.8,1312.7 375.2,1312.3 385.0,1311.0 C394.8,1309.7 402.7,1310.0 411.6,1310.0 C420.5,1310.0 428.4,1309.7 438.2,1311.0 C448.0,1312.3 459.4,1312.7 470.2,1318.0 C481.0,1323.3 493.0,1335.5 503.2,1343.0 C513.4,1350.5 519.5,1360.0 531.2,1363.0 C542.9,1366.0 557.4,1362.0 573.2,1361.0 C589.0,1360.0 605.0,1358.5 626.2,1357.0 C647.4,1355.5 684.0,1352.8 700.2,1352.0 C716.4,1351.2 719.4,1352.0 723.2,1352.0" fill="none" stroke="#f07d1e" stroke-width="6" opacity="0.09" filter="url(#b2_5)" stroke-linecap="round"/>
<path d="M100.0,1372.0 C103.8,1372.0 106.8,1371.2 123.0,1372.0 C139.2,1372.8 175.8,1375.5 197.0,1377.0 C218.2,1378.5 234.2,1380.0 250.0,1381.0 C265.8,1382.0 280.3,1386.0 292.0,1383.0 C303.7,1380.0 309.8,1370.5 320.0,1363.0 C330.2,1355.5 342.2,1343.3 353.0,1338.0 C363.8,1332.7 375.2,1332.3 385.0,1331.0 C394.8,1329.7 402.7,1330.0 411.6,1330.0 C420.5,1330.0 428.4,1329.7 438.2,1331.0 C448.0,1332.3 459.4,1332.7 470.2,1338.0 C481.0,1343.3 493.0,1355.5 503.2,1363.0 C513.4,1370.5 519.5,1380.0 531.2,1383.0 C542.9,1386.0 557.4,1382.0 573.2,1381.0 C589.0,1380.0 605.0,1378.5 626.2,1377.0 C647.4,1375.5 684.0,1372.8 700.2,1372.0 C716.4,1371.2 719.4,1372.0 723.2,1372.0" fill="none" stroke="#f07d1e" stroke-width="6" opacity="0.17" filter="url(#b2_5)" stroke-linecap="round"/>
<path d="M100.0,1392.0 C103.8,1392.0 106.8,1391.2 123.0,1392.0 C139.2,1392.8 175.8,1395.5 197.0,1397.0 C218.2,1398.5 234.2,1400.0 250.0,1401.0 C265.8,1402.0 280.3,1406.0 292.0,1403.0 C303.7,1400.0 309.8,1390.5 320.0,1383.0 C330.2,1375.5 342.2,1363.3 353.0,1358.0 C363.8,1352.7 375.2,1352.3 385.0,1351.0 C394.8,1349.7 402.7,1350.0 411.6,1350.0 C420.5,1350.0 428.4,1349.7 438.2,1351.0 C448.0,1352.3 459.4,1352.7 470.2,1358.0 C481.0,1363.3 493.0,1375.5 503.2,1383.0 C513.4,1390.5 519.5,1400.0 531.2,1403.0 C542.9,1406.0 557.4,1402.0 573.2,1401.0 C589.0,1400.0 605.0,1398.5 626.2,1397.0 C647.4,1395.5 684.0,1392.8 700.2,1392.0 C716.4,1391.2 719.4,1392.0 723.2,1392.0" fill="none" stroke="#f07d1e" stroke-width="6" opacity="0.09" filter="url(#b2_5)" stroke-linecap="round"/>
<path d="M100.0,1412.0 C103.8,1412.0 106.8,1411.2 123.0,1412.0 C139.2,1412.8 175.8,1415.5 197.0,1417.0 C218.2,1418.5 234.2,1420.0 250.0,1421.0 C265.8,1422.0 280.3,1426.0 292.0,1423.0 C303.7,1420.0 309.8,1410.5 320.0,1403.0 C330.2,1395.5 342.2,1383.3 353.0,1378.0 C363.8,1372.7 375.2,1372.3 385.0,1371.0 C394.8,1369.7 402.7,1370.0 411.6,1370.0 C420.5,1370.0 428.4,1369.7 438.2,1371.0 C448.0,1372.3 459.4,1372.7 470.2,1378.0 C481.0,1383.3 493.0,1395.5 503.2,1403.0 C513.4,1410.5 519.5,1420.0 531.2,1423.0 C542.9,1426.0 557.4,1422.0 573.2,1421.0 C589.0,1420.0 605.0,1418.5 626.2,1417.0 C647.4,1415.5 684.0,1412.8 700.2,1412.0 C716.4,1411.2 719.4,1412.0 723.2,1412.0" fill="none" stroke="#f07d1e" stroke-width="6" opacity="0.17" filter="url(#b2_5)" stroke-linecap="round"/>
<path d="M100.0,1432.0 C103.8,1432.0 106.8,1431.2 123.0,1432.0 C139.2,1432.8 175.8,1435.5 197.0,1437.0 C218.2,1438.5 234.2,1440.0 250.0,1441.0 C265.8,1442.0 280.3,1446.0 292.0,1443.0 C303.7,1440.0 309.8,1430.5 320.0,1423.0 C330.2,1415.5 342.2,1403.3 353.0,1398.0 C363.8,1392.7 375.2,1392.3 385.0,1391.0 C394.8,1389.7 402.7,1390.0 411.6,1390.0 C420.5,1390.0 428.4,1389.7 438.2,1391.0 C448.0,1392.3 459.4,1392.7 470.2,1398.0 C481.0,1403.3 493.0,1415.5 503.2,1423.0 C513.4,1430.5 519.5,1440.0 531.2,1443.0 C542.9,1446.0 557.4,1442.0 573.2,1441.0 C589.0,1440.0 605.0,1438.5 626.2,1437.0 C647.4,1435.5 684.0,1432.8 700.2,1432.0 C716.4,1431.2 719.4,1432.0 723.2,1432.0" fill="none" stroke="#f07d1e" stroke-width="6" opacity="0.09" filter="url(#b2_5)" stroke-linecap="round"/>
<path d="M100.0,1452.0 C103.8,1452.0 106.8,1451.2 123.0,1452.0 C139.2,1452.8 175.8,1455.5 197.0,1457.0 C218.2,1458.5 234.2,1460.0 250.0,1461.0 C265.8,1462.0 280.3,1466.0 292.0,1463.0 C303.7,1460.0 309.8,1450.5 320.0,1443.0 C330.2,1435.5 342.2,1423.3 353.0,1418.0 C363.8,1412.7 375.2,1412.3 385.0,1411.0 C394.8,1409.7 402.7,1410.0 411.6,1410.0 C420.5,1410.0 428.4,1409.7 438.2,1411.0 C448.0,1412.3 459.4,1412.7 470.2,1418.0 C481.0,1423.3 493.0,1435.5 503.2,1443.0 C513.4,1450.5 519.5,1460.0 531.2,1463.0 C542.9,1466.0 557.4,1462.0 573.2,1461.0 C589.0,1460.0 605.0,1458.5 626.2,1457.0 C647.4,1455.5 684.0,1452.8 700.2,1452.0 C716.4,1451.2 719.4,1452.0 723.2,1452.0" fill="none" stroke="#f07d1e" stroke-width="6" opacity="0.17" filter="url(#b2_5)" stroke-linecap="round"/>
<path d="M60.0,1110.0 C70.0,1125.0 96.7,1165.0 120.0,1200.0 C143.3,1235.0 176.7,1285.0 200.0,1320.0 C223.3,1355.0 250.0,1395.0 260.0,1410.0" fill="none" stroke="#f07d1e" stroke-width="7" opacity="0.07" filter="url(#b3)" stroke-linecap="round"/>
<path d="M563.2,1410.0 C573.2,1395.0 599.9,1355.0 623.2,1320.0 C646.5,1285.0 679.9,1235.0 703.2,1200.0 C726.5,1165.0 753.2,1125.0 763.2,1110.0" fill="none" stroke="#f07d1e" stroke-width="7" opacity="0.07" filter="url(#b3)" stroke-linecap="round"/>
<path d="M90.0,1110.0 C100.0,1125.0 126.7,1165.0 150.0,1200.0 C173.3,1235.0 206.7,1285.0 230.0,1320.0 C253.3,1355.0 280.0,1395.0 290.0,1410.0" fill="none" stroke="#f07d1e" stroke-width="7" opacity="0.07" filter="url(#b3)" stroke-linecap="round"/>
<path d="M533.2,1410.0 C543.2,1395.0 569.9,1355.0 593.2,1320.0 C616.5,1285.0 649.9,1235.0 673.2,1200.0 C696.5,1165.0 723.2,1125.0 733.2,1110.0" fill="none" stroke="#f07d1e" stroke-width="7" opacity="0.07" filter="url(#b3)" stroke-linecap="round"/>
<path d="M120.0,1110.0 C130.0,1125.0 156.7,1165.0 180.0,1200.0 C203.3,1235.0 236.7,1285.0 260.0,1320.0 C283.3,1355.0 310.0,1395.0 320.0,1410.0" fill="none" stroke="#f07d1e" stroke-width="7" opacity="0.07" filter="url(#b3)" stroke-linecap="round"/>
<path d="M503.2,1410.0 C513.2,1395.0 539.9,1355.0 563.2,1320.0 C586.5,1285.0 619.9,1235.0 643.2,1200.0 C666.5,1165.0 693.2,1125.0 703.2,1110.0" fill="none" stroke="#f07d1e" stroke-width="7" opacity="0.07" filter="url(#b3)" stroke-linecap="round"/>
<path d="M150.0,1110.0 C160.0,1125.0 186.7,1165.0 210.0,1200.0 C233.3,1235.0 266.7,1285.0 290.0,1320.0 C313.3,1355.0 340.0,1395.0 350.0,1410.0" fill="none" stroke="#f07d1e" stroke-width="7" opacity="0.07" filter="url(#b3)" stroke-linecap="round"/>
<path d="M473.2,1410.0 C483.2,1395.0 509.9,1355.0 533.2,1320.0 C556.5,1285.0 589.9,1235.0 613.2,1200.0 C636.5,1165.0 663.2,1125.0 673.2,1110.0" fill="none" stroke="#f07d1e" stroke-width="7" opacity="0.07" filter="url(#b3)" stroke-linecap="round"/>
<path d="M180.0,1110.0 C190.0,1125.0 216.7,1165.0 240.0,1200.0 C263.3,1235.0 296.7,1285.0 320.0,1320.0 C343.3,1355.0 370.0,1395.0 380.0,1410.0" fill="none" stroke="#f07d1e" stroke-width="7" opacity="0.07" filter="url(#b3)" stroke-linecap="round"/>
<path d="M443.2,1410.0 C453.2,1395.0 479.9,1355.0 503.2,1320.0 C526.5,1285.0 559.9,1235.0 583.2,1200.0 C606.5,1165.0 633.2,1125.0 643.2,1110.0" fill="none" stroke="#f07d1e" stroke-width="7" opacity="0.07" filter="url(#b3)" stroke-linecap="round"/>
<path d="M210.0,1110.0 C220.0,1125.0 246.7,1165.0 270.0,1200.0 C293.3,1235.0 326.7,1285.0 350.0,1320.0 C373.3,1355.0 400.0,1395.0 410.0,1410.0" fill="none" stroke="#f07d1e" stroke-width="7" opacity="0.07" filter="url(#b3)" stroke-linecap="round"/>
<path d="M413.2,1410.0 C423.2,1395.0 449.9,1355.0 473.2,1320.0 C496.5,1285.0 529.9,1235.0 553.2,1200.0 C576.5,1165.0 603.2,1125.0 613.2,1110.0" fill="none" stroke="#f07d1e" stroke-width="7" opacity="0.07" filter="url(#b3)" stroke-linecap="round"/>
<path d="M240.0,1110.0 C250.0,1125.0 276.7,1165.0 300.0,1200.0 C323.3,1235.0 356.7,1285.0 380.0,1320.0 C403.3,1355.0 430.0,1395.0 440.0,1410.0" fill="none" stroke="#f07d1e" stroke-width="7" opacity="0.07" filter="url(#b3)" stroke-linecap="round"/>
<path d="M383.2,1410.0 C393.2,1395.0 419.9,1355.0 443.2,1320.0 C466.5,1285.0 499.9,1235.0 523.2,1200.0 C546.5,1165.0 573.2,1125.0 583.2,1110.0" fill="none" stroke="#f07d1e" stroke-width="7" opacity="0.07" filter="url(#b3)" stroke-linecap="round"/>
<path d="M270.0,1110.0 C280.0,1125.0 306.7,1165.0 330.0,1200.0 C353.3,1235.0 386.7,1285.0 410.0,1320.0 C433.3,1355.0 460.0,1395.0 470.0,1410.0" fill="none" stroke="#f07d1e" stroke-width="7" opacity="0.07" filter="url(#b3)" stroke-linecap="round"/>
<path d="M353.2,1410.0 C363.2,1395.0 389.9,1355.0 413.2,1320.0 C436.5,1285.0 469.9,1235.0 493.2,1200.0 C516.5,1165.0 543.2,1125.0 553.2,1110.0" fill="none" stroke="#f07d1e" stroke-width="7" opacity="0.07" filter="url(#b3)" stroke-linecap="round"/>
<path d="M300.0,1110.0 C310.0,1125.0 336.7,1165.0 360.0,1200.0 C383.3,1235.0 416.7,1285.0 440.0,1320.0 C463.3,1355.0 490.0,1395.0 500.0,1410.0" fill="none" stroke="#f07d1e" stroke-width="7" opacity="0.07" filter="url(#b3)" stroke-linecap="round"/>
<path d="M323.2,1410.0 C333.2,1395.0 359.9,1355.0 383.2,1320.0 C406.5,1285.0 439.9,1235.0 463.2,1200.0 C486.5,1165.0 513.2,1125.0 523.2,1110.0" fill="none" stroke="#f07d1e" stroke-width="7" opacity="0.07" filter="url(#b3)" stroke-linecap="round"/>
<path d="M345.0,1122.0 C339.2,1128.3 320.8,1147.0 310.0,1160.0 C299.2,1173.0 290.0,1185.8 280.0,1200.0 C270.0,1214.2 260.8,1228.3 250.0,1245.0 C239.2,1261.7 227.5,1280.8 215.0,1300.0 C202.5,1319.2 189.2,1340.0 175.0,1360.0 C160.8,1380.0 137.5,1410.0 130.0,1420.0" fill="none" stroke="#f07d1e" stroke-width="10" opacity="0.38" filter="url(#b3)" stroke-linecap="round"/>
<path d="M693.2,1420.0 C685.7,1410.0 662.4,1380.0 648.2,1360.0 C634.0,1340.0 620.7,1319.2 608.2,1300.0 C595.7,1280.8 584.0,1261.7 573.2,1245.0 C562.4,1228.3 553.2,1214.2 543.2,1200.0 C533.2,1185.8 524.0,1173.0 513.2,1160.0 C502.4,1147.0 484.0,1128.3 478.2,1122.0" fill="none" stroke="#f07d1e" stroke-width="10" opacity="0.38" filter="url(#b3)" stroke-linecap="round"/>
<ellipse cx="263" cy="1253" rx="20" ry="38" fill="#fffaf6" opacity="1" filter="url(#b5)"/>
<ellipse cx="560.2" cy="1253" rx="20" ry="38" fill="#fffaf6" opacity="1" filter="url(#b5)"/>
</g>
<path d="M411.6,1146.0 C409.2,1146.7 402.3,1147.3 397.0,1150.0 C391.7,1152.7 387.0,1155.0 380.0,1162.0 C373.0,1169.0 363.3,1181.7 355.0,1192.0 C346.7,1202.3 339.2,1212.3 330.0,1224.0 C320.8,1235.7 310.0,1249.3 300.0,1262.0 C290.0,1274.7 284.8,1282.3 270.0,1300.0 C255.2,1317.7 229.3,1348.3 211.0,1368.0 C192.7,1387.7 178.5,1399.3 160.0,1418.0 C141.5,1436.7 110.0,1469.7 100.0,1480.0" fill="none" stroke="#f07d1e" stroke-width="11" opacity="0.34" filter="url(#b3)" stroke-linecap="round"/>
<path d="M723.2,1480.0 C713.2,1469.7 681.7,1436.7 663.2,1418.0 C644.7,1399.3 630.5,1387.7 612.2,1368.0 C593.9,1348.3 568.0,1317.7 553.2,1300.0 C538.4,1282.3 533.2,1274.7 523.2,1262.0 C513.2,1249.3 502.4,1235.7 493.2,1224.0 C484.0,1212.3 476.5,1202.3 468.2,1192.0 C459.9,1181.7 450.2,1169.0 443.2,1162.0 C436.2,1155.0 431.5,1152.7 426.2,1150.0 C420.9,1147.3 414.0,1146.7 411.6,1146.0" fill="none" stroke="#f07d1e" stroke-width="11" opacity="0.34" filter="url(#b3)" stroke-linecap="round"/>
<path d="M411.6,1178.0 C408.3,1179.0 399.8,1179.2 392.0,1184.0 C384.2,1188.8 374.5,1197.2 365.0,1207.0 C355.5,1216.8 344.5,1230.8 335.0,1243.0 C325.5,1255.2 317.2,1267.5 308.0,1280.0 C298.8,1292.5 291.3,1303.8 280.0,1318.0 C268.7,1332.2 246.7,1357.2 240.0,1365.0" fill="none" stroke="#f07d1e" stroke-width="9" opacity="0.3" filter="url(#b3)" stroke-linecap="round"/>
<path d="M583.2,1365.0 C576.5,1357.2 554.5,1332.2 543.2,1318.0 C531.9,1303.8 524.4,1292.5 515.2,1280.0 C506.0,1267.5 497.7,1255.2 488.2,1243.0 C478.7,1230.8 467.7,1216.8 458.2,1207.0 C448.7,1197.2 439.0,1188.8 431.2,1184.0 C423.4,1179.2 414.9,1179.0 411.6,1178.0" fill="none" stroke="#f07d1e" stroke-width="9" opacity="0.3" filter="url(#b3)" stroke-linecap="round"/>
<path d="M411.6,1170.0 L380.0,1195.0 L340.0,1245.0 L305.0,1300.0 L300.0,1380.0 L340.0,1420.0 L411.6,1420.0Z" fill="#f8c69c" opacity="0.8" filter="url(#b10)"/>
<path d="M411.6,1420.0 L483.2,1420.0 L523.2,1380.0 L518.2,1300.0 L483.2,1245.0 L443.2,1195.0 L411.6,1170.0Z" fill="#f8c69c" opacity="0.8" filter="url(#b10)"/>
<path d="M356.6,1208.0 C361.1,1206.3 374.4,1200.3 383.6,1198.0 C392.8,1195.7 402.3,1194.0 411.6,1194.0 C420.9,1194.0 430.4,1195.7 439.6,1198.0 C448.8,1200.3 462.1,1206.3 466.6,1208.0" fill="none" stroke="#f07d1e" stroke-width="6" opacity="0.2" filter="url(#b2_5)" stroke-linecap="round"/>
<path d="M356.6,1228.0 C361.1,1226.3 374.4,1220.3 383.6,1218.0 C392.8,1215.7 402.3,1214.0 411.6,1214.0 C420.9,1214.0 430.4,1215.7 439.6,1218.0 C448.8,1220.3 462.1,1226.3 466.6,1228.0" fill="none" stroke="#f07d1e" stroke-width="6" opacity="0.35" filter="url(#b2_5)" stroke-linecap="round"/>
<path d="M356.6,1246.0 C361.1,1244.3 374.4,1238.3 383.6,1236.0 C392.8,1233.7 402.3,1232.0 411.6,1232.0 C420.9,1232.0 430.4,1233.7 439.6,1236.0 C448.8,1238.3 462.1,1244.3 466.6,1246.0" fill="none" stroke="#f07d1e" stroke-width="6" opacity="0.3" filter="url(#b2_5)" stroke-linecap="round"/>
<path d="M356.6,1266.0 C361.1,1264.3 374.4,1258.3 383.6,1256.0 C392.8,1253.7 402.3,1252.0 411.6,1252.0 C420.9,1252.0 430.4,1253.7 439.6,1256.0 C448.8,1258.3 462.1,1264.3 466.6,1266.0" fill="none" stroke="#f07d1e" stroke-width="6" opacity="0.25" filter="url(#b2_5)" stroke-linecap="round"/>
<path d="M356.6,1289.0 C361.1,1287.3 374.4,1281.3 383.6,1279.0 C392.8,1276.7 402.3,1275.0 411.6,1275.0 C420.9,1275.0 430.4,1276.7 439.6,1279.0 C448.8,1281.3 462.1,1287.3 466.6,1289.0" fill="none" stroke="#f07d1e" stroke-width="6" opacity="0.3" filter="url(#b2_5)" stroke-linecap="round"/>
<path d="M356.6,1314.0 C361.1,1312.3 374.4,1306.3 383.6,1304.0 C392.8,1301.7 402.3,1300.0 411.6,1300.0 C420.9,1300.0 430.4,1301.7 439.6,1304.0 C448.8,1306.3 462.1,1312.3 466.6,1314.0" fill="none" stroke="#f07d1e" stroke-width="6" opacity="0.3" filter="url(#b2_5)" stroke-linecap="round"/>
<path d="M356.6,1340.0 C361.1,1338.3 374.4,1332.3 383.6,1330.0 C392.8,1327.7 402.3,1326.0 411.6,1326.0 C420.9,1326.0 430.4,1327.7 439.6,1330.0 C448.8,1332.3 462.1,1338.3 466.6,1340.0" fill="none" stroke="#f07d1e" stroke-width="6" opacity="0.3" filter="url(#b2_5)" stroke-linecap="round"/>
<path d="M356.6,1366.0 C361.1,1364.3 374.4,1358.3 383.6,1356.0 C392.8,1353.7 402.3,1352.0 411.6,1352.0 C420.9,1352.0 430.4,1353.7 439.6,1356.0 C448.8,1358.3 462.1,1364.3 466.6,1366.0" fill="none" stroke="#f07d1e" stroke-width="6" opacity="0.28" filter="url(#b2_5)" stroke-linecap="round"/>
<path d="M356.6,1392.0 C361.1,1390.3 374.4,1384.3 383.6,1382.0 C392.8,1379.7 402.3,1378.0 411.6,1378.0 C420.9,1378.0 430.4,1379.7 439.6,1382.0 C448.8,1384.3 462.1,1390.3 466.6,1392.0" fill="none" stroke="#f07d1e" stroke-width="6" opacity="0.25" filter="url(#b2_5)" stroke-linecap="round"/>
<path d="M356.6,1416.0 C361.1,1414.3 374.4,1408.3 383.6,1406.0 C392.8,1403.7 402.3,1402.0 411.6,1402.0 C420.9,1402.0 430.4,1403.7 439.6,1406.0 C448.8,1408.3 462.1,1414.3 466.6,1416.0" fill="none" stroke="#f07d1e" stroke-width="6" opacity="0.22" filter="url(#b2_5)" stroke-linecap="round"/>
<path d="M356.6,1442.0 C361.1,1440.3 374.4,1434.3 383.6,1432.0 C392.8,1429.7 402.3,1428.0 411.6,1428.0 C420.9,1428.0 430.4,1429.7 439.6,1432.0 C448.8,1434.3 462.1,1440.3 466.6,1442.0" fill="none" stroke="#f07d1e" stroke-width="6" opacity="0.2" filter="url(#b2_5)" stroke-linecap="round"/>
<path d="M411.6,1290.0 C408.3,1293.7 399.8,1301.7 392.0,1312.0 C384.2,1322.3 374.5,1337.3 365.0,1352.0 C355.5,1366.7 345.0,1384.0 335.0,1400.0 C325.0,1416.0 313.3,1434.7 305.0,1448.0 C296.7,1461.3 288.3,1474.7 285.0,1480.0" fill="none" stroke="#f07d1e" stroke-width="9" opacity="0.3" filter="url(#b3)" stroke-linecap="round"/>
<path d="M538.2,1480.0 C534.9,1474.7 526.5,1461.3 518.2,1448.0 C509.9,1434.7 498.2,1416.0 488.2,1400.0 C478.2,1384.0 467.7,1366.7 458.2,1352.0 C448.7,1337.3 439.0,1322.3 431.2,1312.0 C423.4,1301.7 414.9,1293.7 411.6,1290.0" fill="none" stroke="#f07d1e" stroke-width="9" opacity="0.3" filter="url(#b3)" stroke-linecap="round"/>
<path d="M411.6,1324.0 C408.3,1327.7 399.8,1335.7 392.0,1346.0 C384.2,1356.3 374.5,1371.3 365.0,1386.0 C355.5,1400.7 345.0,1418.0 335.0,1434.0 C325.0,1450.0 313.3,1468.7 305.0,1482.0 C296.7,1495.3 288.3,1508.7 285.0,1514.0" fill="none" stroke="#f07d1e" stroke-width="9" opacity="0.3" filter="url(#b3)" stroke-linecap="round"/>
<path d="M538.2,1514.0 C534.9,1508.7 526.5,1495.3 518.2,1482.0 C509.9,1468.7 498.2,1450.0 488.2,1434.0 C478.2,1418.0 467.7,1400.7 458.2,1386.0 C448.7,1371.3 439.0,1356.3 431.2,1346.0 C423.4,1335.7 414.9,1327.7 411.6,1324.0" fill="none" stroke="#f07d1e" stroke-width="9" opacity="0.3" filter="url(#b3)" stroke-linecap="round"/>
<path d="M411.6,1358.0 C408.3,1361.7 399.8,1369.7 392.0,1380.0 C384.2,1390.3 374.5,1405.3 365.0,1420.0 C355.5,1434.7 345.0,1452.0 335.0,1468.0 C325.0,1484.0 313.3,1502.7 305.0,1516.0 C296.7,1529.3 288.3,1542.7 285.0,1548.0" fill="none" stroke="#f07d1e" stroke-width="9" opacity="0.3" filter="url(#b3)" stroke-linecap="round"/>
<path d="M538.2,1548.0 C534.9,1542.7 526.5,1529.3 518.2,1516.0 C509.9,1502.7 498.2,1484.0 488.2,1468.0 C478.2,1452.0 467.7,1434.7 458.2,1420.0 C448.7,1405.3 439.0,1390.3 431.2,1380.0 C423.4,1369.7 414.9,1361.7 411.6,1358.0" fill="none" stroke="#f07d1e" stroke-width="9" opacity="0.3" filter="url(#b3)" stroke-linecap="round"/>
<path d="M411.6,1392.0 C408.3,1395.7 399.8,1403.7 392.0,1414.0 C384.2,1424.3 374.5,1439.3 365.0,1454.0 C355.5,1468.7 345.0,1486.0 335.0,1502.0 C325.0,1518.0 313.3,1536.7 305.0,1550.0 C296.7,1563.3 288.3,1576.7 285.0,1582.0" fill="none" stroke="#f07d1e" stroke-width="9" opacity="0.22" filter="url(#b3)" stroke-linecap="round"/>
<path d="M538.2,1582.0 C534.9,1576.7 526.5,1563.3 518.2,1550.0 C509.9,1536.7 498.2,1518.0 488.2,1502.0 C478.2,1486.0 467.7,1468.7 458.2,1454.0 C448.7,1439.3 439.0,1424.3 431.2,1414.0 C423.4,1403.7 414.9,1395.7 411.6,1392.0" fill="none" stroke="#f07d1e" stroke-width="9" opacity="0.22" filter="url(#b3)" stroke-linecap="round"/>
<path d="M411.6,1426.0 C408.3,1429.7 399.8,1437.7 392.0,1448.0 C384.2,1458.3 374.5,1473.3 365.0,1488.0 C355.5,1502.7 345.0,1520.0 335.0,1536.0 C325.0,1552.0 313.3,1570.7 305.0,1584.0 C296.7,1597.3 288.3,1610.7 285.0,1616.0" fill="none" stroke="#f07d1e" stroke-width="9" opacity="0.22" filter="url(#b3)" stroke-linecap="round"/>
<path d="M538.2,1616.0 C534.9,1610.7 526.5,1597.3 518.2,1584.0 C509.9,1570.7 498.2,1552.0 488.2,1536.0 C478.2,1520.0 467.7,1502.7 458.2,1488.0 C448.7,1473.3 439.0,1458.3 431.2,1448.0 C423.4,1437.7 414.9,1429.7 411.6,1426.0" fill="none" stroke="#f07d1e" stroke-width="9" opacity="0.22" filter="url(#b3)" stroke-linecap="round"/>
<path d="M330.0,1300.0 C334.2,1306.7 346.7,1325.8 355.0,1340.0 C363.3,1354.2 372.5,1371.7 380.0,1385.0 C387.5,1398.3 396.7,1414.2 400.0,1420.0" fill="none" stroke="#f07d1e" stroke-width="7" opacity="0.2" filter="url(#b3)" stroke-linecap="round"/>
<path d="M423.2,1420.0 C426.5,1414.2 435.7,1398.3 443.2,1385.0 C450.7,1371.7 459.9,1354.2 468.2,1340.0 C476.5,1325.8 489.0,1306.7 493.2,1300.0" fill="none" stroke="#f07d1e" stroke-width="7" opacity="0.2" filter="url(#b3)" stroke-linecap="round"/>
<path d="M250.0,1380.0 C243.3,1390.0 223.3,1420.0 210.0,1440.0 C196.7,1460.0 181.7,1482.5 170.0,1500.0 C158.3,1517.5 145.0,1537.5 140.0,1545.0" fill="none" stroke="#f07d1e" stroke-width="7" opacity="0.15" filter="url(#b3)" stroke-linecap="round"/>
<path d="M683.2,1545.0 C678.2,1537.5 664.9,1517.5 653.2,1500.0 C641.5,1482.5 626.5,1460.0 613.2,1440.0 C599.9,1420.0 579.9,1390.0 573.2,1380.0" fill="none" stroke="#f07d1e" stroke-width="7" opacity="0.15" filter="url(#b3)" stroke-linecap="round"/>
<path d="M272.0,1380.0 C265.3,1390.0 245.3,1420.0 232.0,1440.0 C218.7,1460.0 203.7,1482.5 192.0,1500.0 C180.3,1517.5 167.0,1537.5 162.0,1545.0" fill="none" stroke="#f07d1e" stroke-width="7" opacity="0.15" filter="url(#b3)" stroke-linecap="round"/>
<path d="M661.2,1545.0 C656.2,1537.5 642.9,1517.5 631.2,1500.0 C619.5,1482.5 604.5,1460.0 591.2,1440.0 C577.9,1420.0 557.9,1390.0 551.2,1380.0" fill="none" stroke="#f07d1e" stroke-width="7" opacity="0.15" filter="url(#b3)" stroke-linecap="round"/>
<path d="M294.0,1380.0 C287.3,1390.0 267.3,1420.0 254.0,1440.0 C240.7,1460.0 225.7,1482.5 214.0,1500.0 C202.3,1517.5 189.0,1537.5 184.0,1545.0" fill="none" stroke="#f07d1e" stroke-width="7" opacity="0.15" filter="url(#b3)" stroke-linecap="round"/>
<path d="M639.2,1545.0 C634.2,1537.5 620.9,1517.5 609.2,1500.0 C597.5,1482.5 582.5,1460.0 569.2,1440.0 C555.9,1420.0 535.9,1390.0 529.2,1380.0" fill="none" stroke="#f07d1e" stroke-width="7" opacity="0.15" filter="url(#b3)" stroke-linecap="round"/>
<path d="M316.0,1380.0 C309.3,1390.0 289.3,1420.0 276.0,1440.0 C262.7,1460.0 247.7,1482.5 236.0,1500.0 C224.3,1517.5 211.0,1537.5 206.0,1545.0" fill="none" stroke="#f07d1e" stroke-width="7" opacity="0.15" filter="url(#b3)" stroke-linecap="round"/>
<path d="M617.2,1545.0 C612.2,1537.5 598.9,1517.5 587.2,1500.0 C575.5,1482.5 560.5,1460.0 547.2,1440.0 C533.9,1420.0 513.9,1390.0 507.2,1380.0" fill="none" stroke="#f07d1e" stroke-width="7" opacity="0.15" filter="url(#b3)" stroke-linecap="round"/>
<path d="M338.0,1380.0 C331.3,1390.0 311.3,1420.0 298.0,1440.0 C284.7,1460.0 269.7,1482.5 258.0,1500.0 C246.3,1517.5 233.0,1537.5 228.0,1545.0" fill="none" stroke="#f07d1e" stroke-width="7" opacity="0.15" filter="url(#b3)" stroke-linecap="round"/>
<path d="M595.2,1545.0 C590.2,1537.5 576.9,1517.5 565.2,1500.0 C553.5,1482.5 538.5,1460.0 525.2,1440.0 C511.9,1420.0 491.9,1390.0 485.2,1380.0" fill="none" stroke="#f07d1e" stroke-width="7" opacity="0.15" filter="url(#b3)" stroke-linecap="round"/>
<path d="M300.0,1420.0 L411.6,1420.0 L411.6,1560.0 L260.0,1560.0Z" fill="#fbdcc2" opacity="0.55" filter="url(#b10)"/>
<path d="M563.2,1560.0 L411.6,1560.0 L411.6,1420.0 L523.2,1420.0Z" fill="#fbdcc2" opacity="0.55" filter="url(#b10)"/>
<path d="M110.0,1448.0 L160.0,1428.0 L200.0,1407.0 L235.0,1387.0 L262.0,1372.0 L250.0,1395.0 L228.0,1430.0 L205.0,1470.0 L178.0,1515.0 L150.0,1558.0 L110.0,1572.0Z" fill="#fffaf7" opacity="1" filter="url(#b5)"/>
<path d="M713.2,1572.0 L673.2,1558.0 L645.2,1515.0 L618.2,1470.0 L595.2,1430.0 L573.2,1395.0 L561.2,1372.0 L588.2,1387.0 L623.2,1407.0 L663.2,1428.0 L713.2,1448.0Z" fill="#fffaf7" opacity="1" filter="url(#b5)"/>
<ellipse cx="411.6" cy="1490" rx="30" ry="38" fill="#fffaf7" opacity="1" filter="url(#b8)"/>
<path d="M110.0,1568.0 L180.0,1556.0 L250.0,1546.0 L300.0,1548.0 L325.0,1572.0 L300.0,1600.0 L240.0,1600.0 L200.0,1585.0 L150.0,1580.0 L110.0,1580.0Z" fill="#f7b27a" opacity="0.6" filter="url(#b7)"/>
<path d="M713.2,1580.0 L673.2,1580.0 L623.2,1585.0 L583.2,1600.0 L523.2,1600.0 L498.2,1572.0 L523.2,1548.0 L573.2,1546.0 L643.2,1556.0 L713.2,1568.0Z" fill="#f7b27a" opacity="0.6" filter="url(#b7)"/>
<path d="M200.0,1600.0 L300.0,1598.0 L320.0,1630.0 L200.0,1630.0Z" fill="#f5a560" opacity="0.7" filter="url(#b6)"/>
<path d="M623.2,1630.0 L503.2,1630.0 L523.2,1598.0 L623.2,1600.0Z" fill="#f5a560" opacity="0.7" filter="url(#b6)"/>
<path d="M105.0,1590.0 C110.8,1591.0 129.2,1593.3 140.0,1596.0 C150.8,1598.7 160.8,1604.3 170.0,1606.0 C179.2,1607.7 186.7,1608.0 195.0,1606.0 C203.3,1604.0 210.8,1599.0 220.0,1594.0 C229.2,1589.0 236.7,1582.3 250.0,1576.0 C263.3,1569.7 284.2,1561.0 300.0,1556.0 C315.8,1551.0 337.5,1547.7 345.0,1546.0" fill="none" stroke="#ef8020" stroke-width="17" opacity="0.8" filter="url(#b3_5)" stroke-linecap="round"/>
<path d="M478.2,1546.0 C485.7,1547.7 507.4,1551.0 523.2,1556.0 C539.0,1561.0 559.9,1569.7 573.2,1576.0 C586.5,1582.3 594.0,1589.0 603.2,1594.0 C612.4,1599.0 619.9,1604.0 628.2,1606.0 C636.5,1608.0 644.0,1607.7 653.2,1606.0 C662.4,1604.3 672.4,1598.7 683.2,1596.0 C694.0,1593.3 712.4,1591.0 718.2,1590.0" fill="none" stroke="#ef8020" stroke-width="17" opacity="0.8" filter="url(#b3_5)" stroke-linecap="round"/>
<path d="M150.0,1604.0 C154.2,1605.0 166.7,1609.3 175.0,1610.0 C183.3,1610.7 195.8,1608.3 200.0,1608.0" fill="none" stroke="#8a3e0c" stroke-width="5" opacity="0.75" filter="url(#b2)" stroke-linecap="round"/>
<path d="M623.2,1608.0 C627.4,1608.3 639.9,1610.7 648.2,1610.0 C656.5,1609.3 669.0,1605.0 673.2,1604.0" fill="none" stroke="#8a3e0c" stroke-width="5" opacity="0.75" filter="url(#b2)" stroke-linecap="round"/>
<path d="M112.0,1612.0 L190.0,1616.0 L180.0,1628.0 L112.0,1627.0Z" fill="#fde2cc" opacity="0.7" filter="url(#b4)"/>
<path d="M711.2,1627.0 L643.2,1628.0 L633.2,1616.0 L711.2,1612.0Z" fill="#fde2cc" opacity="0.7" filter="url(#b4)"/>
<path d="M330.0,1575.0 L411.6,1565.0 L493.0,1575.0 L470.0,1600.0 L411.6,1604.0 L352.0,1600.0Z" fill="#fde9da" opacity="0.7" filter="url(#b6)"/>
<path d="M110.0,1637.0 C125.0,1636.7 175.0,1635.8 200.0,1635.0 C225.0,1634.2 241.7,1633.8 260.0,1632.0 C278.3,1630.2 295.0,1627.0 310.0,1624.0 C325.0,1621.0 337.5,1616.7 350.0,1614.0 C362.5,1611.3 374.7,1609.2 385.0,1608.0 C395.3,1606.8 402.7,1607.0 411.6,1607.0 C420.5,1607.0 427.9,1606.8 438.2,1608.0 C448.5,1609.2 460.7,1611.3 473.2,1614.0 C485.7,1616.7 498.2,1621.0 513.2,1624.0 C528.2,1627.0 544.9,1630.2 563.2,1632.0 C581.5,1633.8 598.2,1634.2 623.2,1635.0 C648.2,1635.8 698.2,1636.7 713.2,1637.0" fill="none" stroke="#e8781a" stroke-width="12" opacity="0.9" filter="url(#b3)" stroke-linecap="round"/>
<path d="M110.0,1640.0 C125.0,1639.8 175.0,1639.5 200.0,1639.0 C225.0,1638.5 250.0,1637.3 260.0,1637.0" fill="none" stroke="#e07820" stroke-width="8" opacity="0.5" filter="url(#b3)" stroke-linecap="round"/>
<path d="M563.2,1637.0 C573.2,1637.3 598.2,1638.5 623.2,1639.0 C648.2,1639.5 698.2,1639.8 713.2,1640.0" fill="none" stroke="#e07820" stroke-width="8" opacity="0.5" filter="url(#b3)" stroke-linecap="round"/>
<path d="M300.0,1687.0 C303.3,1685.8 313.3,1682.7 320.0,1680.0 C326.7,1677.3 332.5,1673.7 340.0,1671.0 C347.5,1668.3 356.3,1666.0 365.0,1664.0 C373.7,1662.0 384.2,1660.0 392.0,1659.0 C399.8,1658.0 405.1,1658.0 411.6,1658.0 C418.1,1658.0 423.4,1658.0 431.2,1659.0 C439.0,1660.0 449.5,1662.0 458.2,1664.0 C466.9,1666.0 475.7,1668.3 483.2,1671.0 C490.7,1673.7 496.5,1677.3 503.2,1680.0 C509.9,1682.7 519.9,1685.8 523.2,1687.0" fill="none" stroke="#f08a2a" stroke-width="20" opacity="0.75" filter="url(#b5)" stroke-linecap="round"/>
<path d="M332.0,1676.0 C335.0,1674.7 343.3,1670.3 350.0,1668.0 C356.7,1665.7 364.5,1663.5 372.0,1662.0 C379.5,1660.5 388.4,1659.7 395.0,1659.0 C401.6,1658.3 406.1,1658.0 411.6,1658.0 C417.1,1658.0 421.6,1658.3 428.2,1659.0 C434.8,1659.7 443.7,1660.5 451.2,1662.0 C458.7,1663.5 466.5,1665.7 473.2,1668.0 C479.9,1670.3 488.2,1674.7 491.2,1676.0" fill="none" stroke="#8a4212" stroke-width="13" opacity="0.8" filter="url(#b3)" stroke-linecap="round"/>
<path d="M348.0,1669.0 C350.8,1668.0 358.8,1664.5 365.0,1663.0 C371.2,1661.5 379.2,1660.8 385.0,1660.0 C390.8,1659.2 395.6,1658.8 400.0,1658.5 C404.4,1658.2 407.7,1658.0 411.6,1658.0 C415.5,1658.0 418.8,1658.2 423.2,1658.5 C427.6,1658.8 432.4,1659.2 438.2,1660.0 C444.0,1660.8 452.0,1661.5 458.2,1663.0 C464.4,1664.5 472.4,1668.0 475.2,1669.0" fill="none" stroke="#0c0604" stroke-width="7" opacity="0.95" filter="url(#b2_2)" stroke-linecap="round"/>
<path d="M112.0,1685.0 L200.0,1700.0 L280.0,1730.0 L305.0,1765.0 L112.0,1765.0Z" fill="#f8c094" opacity="0.6" filter="url(#b8)"/>
<path d="M711.2,1765.0 L518.2,1765.0 L543.2,1730.0 L623.2,1700.0 L711.2,1685.0Z" fill="#f8c094" opacity="0.6" filter="url(#b8)"/>
<path d="M337.0,1672.0 C331.3,1675.0 315.2,1683.2 303.0,1690.0 C290.8,1696.8 277.2,1705.5 264.0,1713.0 C250.8,1720.5 237.2,1728.0 224.0,1735.0 C210.8,1742.0 195.7,1749.5 185.0,1755.0 C174.3,1760.5 164.2,1765.8 160.0,1768.0" fill="none" stroke="#ef7f1e" stroke-width="9" opacity="0.85" filter="url(#b2_5)" stroke-linecap="round"/>
<path d="M663.2,1768.0 C659.0,1765.8 648.9,1760.5 638.2,1755.0 C627.5,1749.5 612.4,1742.0 599.2,1735.0 C586.0,1728.0 572.4,1720.5 559.2,1713.0 C546.0,1705.5 532.4,1696.8 520.2,1690.0 C508.0,1683.2 491.9,1675.0 486.2,1672.0" fill="none" stroke="#ef7f1e" stroke-width="9" opacity="0.85" filter="url(#b2_5)" stroke-linecap="round"/>
<path d="M333.0,1676.0 C330.8,1680.8 323.7,1695.2 320.0,1705.0 C316.3,1714.8 313.3,1724.5 311.0,1735.0 C308.7,1745.5 306.8,1762.5 306.0,1768.0" fill="none" stroke="#ef8a2a" stroke-width="9" opacity="0.6" filter="url(#b3)" stroke-linecap="round"/>
<path d="M517.2,1768.0 C516.4,1762.5 514.5,1745.5 512.2,1735.0 C509.9,1724.5 506.9,1714.8 503.2,1705.0 C499.5,1695.2 492.4,1680.8 490.2,1676.0" fill="none" stroke="#ef8a2a" stroke-width="9" opacity="0.6" filter="url(#b3)" stroke-linecap="round"/>
<path d="M180.0,1664.0 C175.0,1666.3 160.8,1672.7 150.0,1678.0 C139.2,1683.3 120.8,1693.0 115.0,1696.0" fill="none" stroke="#f08a2a" stroke-width="10" opacity="0.6" filter="url(#b3)" stroke-linecap="round"/>
<path d="M708.2,1696.0 C702.4,1693.0 684.0,1683.3 673.2,1678.0 C662.4,1672.7 648.2,1666.3 643.2,1664.0" fill="none" stroke="#f08a2a" stroke-width="10" opacity="0.6" filter="url(#b3)" stroke-linecap="round"/>
<path d="M105.0,1700.0 C110.0,1700.3 125.0,1700.7 135.0,1702.0 C145.0,1703.3 154.2,1705.0 165.0,1708.0 C175.8,1711.0 194.2,1718.0 200.0,1720.0" fill="none" stroke="#f08a2a" stroke-width="12" opacity="0.55" filter="url(#b4)" stroke-linecap="round"/>
<path d="M623.2,1720.0 C629.0,1718.0 647.4,1711.0 658.2,1708.0 C669.0,1705.0 678.2,1703.3 688.2,1702.0 C698.2,1700.7 713.2,1700.3 718.2,1700.0" fill="none" stroke="#f08a2a" stroke-width="12" opacity="0.55" filter="url(#b4)" stroke-linecap="round"/>
<path d="M200.0,1680.0 C206.7,1683.3 226.7,1692.0 240.0,1700.0 C253.3,1708.0 273.3,1723.3 280.0,1728.0" fill="none" stroke="#f3a060" stroke-width="8" opacity="0.35" filter="url(#b3)" stroke-linecap="round"/>
<path d="M543.2,1728.0 C549.9,1723.3 569.9,1708.0 583.2,1700.0 C596.5,1692.0 616.5,1683.3 623.2,1680.0" fill="none" stroke="#f3a060" stroke-width="8" opacity="0.35" filter="url(#b3)" stroke-linecap="round"/>
<path d="M411.6,1686.0 L453.6,1712.0 L509.6,1772.0 L313.6,1772.0 L369.6,1712.0Z" fill="#fffaf7" opacity="1" filter="url(#b6)"/>
</g>
<clipPath id="clipE"><rect x="786.5" y="1019" width="584.8" height="743.5"/></clipPath>
<g clip-path="url(#clipE)">
<path d="M770.0,1126.0 L850.0,1116.0 L946.0,1098.0 L1010.0,1088.0 L1079.0,1084.0 L1148.0,1088.0 L1212.0,1098.0 L1308.0,1116.0 L1388.0,1126.0 L1390.0,1780.0 L770.0,1780.0Z" fill="#fdf0e7" opacity="1" filter="url(#b6)"/>
<path d="M770.0,1134.0 C778.3,1133.3 801.7,1132.3 820.0,1130.0 C838.3,1127.7 859.0,1124.2 880.0,1120.0 C901.0,1115.8 924.3,1109.3 946.0,1105.0 C967.7,1100.7 992.7,1096.3 1010.0,1094.0 C1027.3,1091.7 1038.5,1091.7 1050.0,1091.0 C1061.5,1090.3 1069.3,1090.0 1079.0,1090.0 C1088.7,1090.0 1096.5,1090.3 1108.0,1091.0 C1119.5,1091.7 1130.7,1091.7 1148.0,1094.0 C1165.3,1096.3 1190.3,1100.7 1212.0,1105.0 C1233.7,1109.3 1257.0,1115.8 1278.0,1120.0 C1299.0,1124.2 1319.7,1127.7 1338.0,1130.0 C1356.3,1132.3 1379.7,1133.3 1388.0,1134.0" fill="none" stroke="#f07d1e" stroke-width="5" opacity="0.07" filter="url(#b2_2)" stroke-linecap="round"/>
<path d="M770.0,1145.5 C778.3,1144.8 801.7,1143.8 820.0,1141.5 C838.3,1139.2 859.0,1135.7 880.0,1131.5 C901.0,1127.3 924.3,1120.8 946.0,1116.5 C967.7,1112.2 992.7,1107.8 1010.0,1105.5 C1027.3,1103.2 1038.5,1103.2 1050.0,1102.5 C1061.5,1101.8 1069.3,1101.5 1079.0,1101.5 C1088.7,1101.5 1096.5,1101.8 1108.0,1102.5 C1119.5,1103.2 1130.7,1103.2 1148.0,1105.5 C1165.3,1107.8 1190.3,1112.2 1212.0,1116.5 C1233.7,1120.8 1257.0,1127.3 1278.0,1131.5 C1299.0,1135.7 1319.7,1139.2 1338.0,1141.5 C1356.3,1143.8 1379.7,1144.8 1388.0,1145.5" fill="none" stroke="#f07d1e" stroke-width="5" opacity="0.07" filter="url(#b2_2)" stroke-linecap="round"/>
<path d="M770.0,1157.0 C778.3,1156.3 801.7,1155.3 820.0,1153.0 C838.3,1150.7 859.0,1147.2 880.0,1143.0 C901.0,1138.8 924.3,1132.3 946.0,1128.0 C967.7,1123.7 992.7,1119.3 1010.0,1117.0 C1027.3,1114.7 1038.5,1114.7 1050.0,1114.0 C1061.5,1113.3 1069.3,1113.0 1079.0,1113.0 C1088.7,1113.0 1096.5,1113.3 1108.0,1114.0 C1119.5,1114.7 1130.7,1114.7 1148.0,1117.0 C1165.3,1119.3 1190.3,1123.7 1212.0,1128.0 C1233.7,1132.3 1257.0,1138.8 1278.0,1143.0 C1299.0,1147.2 1319.7,1150.7 1338.0,1153.0 C1356.3,1155.3 1379.7,1156.3 1388.0,1157.0" fill="none" stroke="#f07d1e" stroke-width="5" opacity="0.07" filter="url(#b2_2)" stroke-linecap="round"/>
<path d="M770.0,1168.5 C778.3,1167.8 801.7,1166.8 820.0,1164.5 C838.3,1162.2 859.0,1158.7 880.0,1154.5 C901.0,1150.3 924.3,1143.8 946.0,1139.5 C967.7,1135.2 992.7,1130.8 1010.0,1128.5 C1027.3,1126.2 1038.5,1126.2 1050.0,1125.5 C1061.5,1124.8 1069.3,1124.5 1079.0,1124.5 C1088.7,1124.5 1096.5,1124.8 1108.0,1125.5 C1119.5,1126.2 1130.7,1126.2 1148.0,1128.5 C1165.3,1130.8 1190.3,1135.2 1212.0,1139.5 C1233.7,1143.8 1257.0,1150.3 1278.0,1154.5 C1299.0,1158.7 1319.7,1162.2 1338.0,1164.5 C1356.3,1166.8 1379.7,1167.8 1388.0,1168.5" fill="none" stroke="#f07d1e" stroke-width="5" opacity="0.12" filter="url(#b2_2)" stroke-linecap="round"/>
<path d="M770.0,1180.0 C778.3,1179.3 801.7,1178.3 820.0,1176.0 C838.3,1173.7 859.0,1170.2 880.0,1166.0 C901.0,1161.8 924.3,1155.3 946.0,1151.0 C967.7,1146.7 992.7,1142.3 1010.0,1140.0 C1027.3,1137.7 1038.5,1137.7 1050.0,1137.0 C1061.5,1136.3 1069.3,1136.0 1079.0,1136.0 C1088.7,1136.0 1096.5,1136.3 1108.0,1137.0 C1119.5,1137.7 1130.7,1137.7 1148.0,1140.0 C1165.3,1142.3 1190.3,1146.7 1212.0,1151.0 C1233.7,1155.3 1257.0,1161.8 1278.0,1166.0 C1299.0,1170.2 1319.7,1173.7 1338.0,1176.0 C1356.3,1178.3 1379.7,1179.3 1388.0,1180.0" fill="none" stroke="#f07d1e" stroke-width="5" opacity="0.12" filter="url(#b2_2)" stroke-linecap="round"/>
<path d="M770.0,1191.5 C778.3,1190.8 801.7,1189.8 820.0,1187.5 C838.3,1185.2 859.0,1181.7 880.0,1177.5 C901.0,1173.3 924.3,1166.8 946.0,1162.5 C967.7,1158.2 992.7,1153.8 1010.0,1151.5 C1027.3,1149.2 1038.5,1149.2 1050.0,1148.5 C1061.5,1147.8 1069.3,1147.5 1079.0,1147.5 C1088.7,1147.5 1096.5,1147.8 1108.0,1148.5 C1119.5,1149.2 1130.7,1149.2 1148.0,1151.5 C1165.3,1153.8 1190.3,1158.2 1212.0,1162.5 C1233.7,1166.8 1257.0,1173.3 1278.0,1177.5 C1299.0,1181.7 1319.7,1185.2 1338.0,1187.5 C1356.3,1189.8 1379.7,1190.8 1388.0,1191.5" fill="none" stroke="#f07d1e" stroke-width="5" opacity="0.12" filter="url(#b2_2)" stroke-linecap="round"/>
<path d="M770.0,1203.0 C778.3,1202.3 801.7,1201.3 820.0,1199.0 C838.3,1196.7 859.0,1193.2 880.0,1189.0 C901.0,1184.8 924.3,1178.3 946.0,1174.0 C967.7,1169.7 992.7,1165.3 1010.0,1163.0 C1027.3,1160.7 1038.5,1160.7 1050.0,1160.0 C1061.5,1159.3 1069.3,1159.0 1079.0,1159.0 C1088.7,1159.0 1096.5,1159.3 1108.0,1160.0 C1119.5,1160.7 1130.7,1160.7 1148.0,1163.0 C1165.3,1165.3 1190.3,1169.7 1212.0,1174.0 C1233.7,1178.3 1257.0,1184.8 1278.0,1189.0 C1299.0,1193.2 1319.7,1196.7 1338.0,1199.0 C1356.3,1201.3 1379.7,1202.3 1388.0,1203.0" fill="none" stroke="#f07d1e" stroke-width="5" opacity="0.12" filter="url(#b2_2)" stroke-linecap="round"/>
<path d="M770.0,1214.5 C778.3,1213.8 801.7,1212.8 820.0,1210.5 C838.3,1208.2 859.0,1204.7 880.0,1200.5 C901.0,1196.3 924.3,1189.8 946.0,1185.5 C967.7,1181.2 992.7,1176.8 1010.0,1174.5 C1027.3,1172.2 1038.5,1172.2 1050.0,1171.5 C1061.5,1170.8 1069.3,1170.5 1079.0,1170.5 C1088.7,1170.5 1096.5,1170.8 1108.0,1171.5 C1119.5,1172.2 1130.7,1172.2 1148.0,1174.5 C1165.3,1176.8 1190.3,1181.2 1212.0,1185.5 C1233.7,1189.8 1257.0,1196.3 1278.0,1200.5 C1299.0,1204.7 1319.7,1208.2 1338.0,1210.5 C1356.3,1212.8 1379.7,1213.8 1388.0,1214.5" fill="none" stroke="#f07d1e" stroke-width="5" opacity="0.12" filter="url(#b2_2)" stroke-linecap="round"/>
<path d="M770.0,1226.0 C778.3,1225.3 801.7,1224.3 820.0,1222.0 C838.3,1219.7 859.0,1216.2 880.0,1212.0 C901.0,1207.8 924.3,1201.3 946.0,1197.0 C967.7,1192.7 992.7,1188.3 1010.0,1186.0 C1027.3,1183.7 1038.5,1183.7 1050.0,1183.0 C1061.5,1182.3 1069.3,1182.0 1079.0,1182.0 C1088.7,1182.0 1096.5,1182.3 1108.0,1183.0 C1119.5,1183.7 1130.7,1183.7 1148.0,1186.0 C1165.3,1188.3 1190.3,1192.7 1212.0,1197.0 C1233.7,1201.3 1257.0,1207.8 1278.0,1212.0 C1299.0,1216.2 1319.7,1219.7 1338.0,1222.0 C1356.3,1224.3 1379.7,1225.3 1388.0,1226.0" fill="none" stroke="#f07d1e" stroke-width="5" opacity="0.12" filter="url(#b2_2)" stroke-linecap="round"/>
<path d="M770.0,1237.5 C778.3,1236.8 801.7,1235.8 820.0,1233.5 C838.3,1231.2 859.0,1227.7 880.0,1223.5 C901.0,1219.3 924.3,1212.8 946.0,1208.5 C967.7,1204.2 992.7,1199.8 1010.0,1197.5 C1027.3,1195.2 1038.5,1195.2 1050.0,1194.5 C1061.5,1193.8 1069.3,1193.5 1079.0,1193.5 C1088.7,1193.5 1096.5,1193.8 1108.0,1194.5 C1119.5,1195.2 1130.7,1195.2 1148.0,1197.5 C1165.3,1199.8 1190.3,1204.2 1212.0,1208.5 C1233.7,1212.8 1257.0,1219.3 1278.0,1223.5 C1299.0,1227.7 1319.7,1231.2 1338.0,1233.5 C1356.3,1235.8 1379.7,1236.8 1388.0,1237.5" fill="none" stroke="#f07d1e" stroke-width="5" opacity="0.12" filter="url(#b2_2)" stroke-linecap="round"/>
<path d="M770.0,1249.0 C778.3,1248.3 801.7,1247.3 820.0,1245.0 C838.3,1242.7 859.0,1239.2 880.0,1235.0 C901.0,1230.8 924.3,1224.3 946.0,1220.0 C967.7,1215.7 992.7,1211.3 1010.0,1209.0 C1027.3,1206.7 1038.5,1206.7 1050.0,1206.0 C1061.5,1205.3 1069.3,1205.0 1079.0,1205.0 C1088.7,1205.0 1096.5,1205.3 1108.0,1206.0 C1119.5,1206.7 1130.7,1206.7 1148.0,1209.0 C1165.3,1211.3 1190.3,1215.7 1212.0,1220.0 C1233.7,1224.3 1257.0,1230.8 1278.0,1235.0 C1299.0,1239.2 1319.7,1242.7 1338.0,1245.0 C1356.3,1247.3 1379.7,1248.3 1388.0,1249.0" fill="none" stroke="#f07d1e" stroke-width="5" opacity="0.12" filter="url(#b2_2)" stroke-linecap="round"/>
<path d="M770.0,1260.5 C778.3,1259.8 801.7,1258.8 820.0,1256.5 C838.3,1254.2 859.0,1250.7 880.0,1246.5 C901.0,1242.3 924.3,1235.8 946.0,1231.5 C967.7,1227.2 992.7,1222.8 1010.0,1220.5 C1027.3,1218.2 1038.5,1218.2 1050.0,1217.5 C1061.5,1216.8 1069.3,1216.5 1079.0,1216.5 C1088.7,1216.5 1096.5,1216.8 1108.0,1217.5 C1119.5,1218.2 1130.7,1218.2 1148.0,1220.5 C1165.3,1222.8 1190.3,1227.2 1212.0,1231.5 C1233.7,1235.8 1257.0,1242.3 1278.0,1246.5 C1299.0,1250.7 1319.7,1254.2 1338.0,1256.5 C1356.3,1258.8 1379.7,1259.8 1388.0,1260.5" fill="none" stroke="#f07d1e" stroke-width="5" opacity="0.12" filter="url(#b2_2)" stroke-linecap="round"/>
<path d="M770.0,1272.0 C778.3,1271.3 801.7,1270.3 820.0,1268.0 C838.3,1265.7 859.0,1262.2 880.0,1258.0 C901.0,1253.8 924.3,1247.3 946.0,1243.0 C967.7,1238.7 992.7,1234.3 1010.0,1232.0 C1027.3,1229.7 1038.5,1229.7 1050.0,1229.0 C1061.5,1228.3 1069.3,1228.0 1079.0,1228.0 C1088.7,1228.0 1096.5,1228.3 1108.0,1229.0 C1119.5,1229.7 1130.7,1229.7 1148.0,1232.0 C1165.3,1234.3 1190.3,1238.7 1212.0,1243.0 C1233.7,1247.3 1257.0,1253.8 1278.0,1258.0 C1299.0,1262.2 1319.7,1265.7 1338.0,1268.0 C1356.3,1270.3 1379.7,1271.3 1388.0,1272.0" fill="none" stroke="#f07d1e" stroke-width="5" opacity="0.12" filter="url(#b2_2)" stroke-linecap="round"/>
<path d="M770.0,1283.5 C778.3,1282.8 801.7,1281.8 820.0,1279.5 C838.3,1277.2 859.0,1273.7 880.0,1269.5 C901.0,1265.3 924.3,1258.8 946.0,1254.5 C967.7,1250.2 992.7,1245.8 1010.0,1243.5 C1027.3,1241.2 1038.5,1241.2 1050.0,1240.5 C1061.5,1239.8 1069.3,1239.5 1079.0,1239.5 C1088.7,1239.5 1096.5,1239.8 1108.0,1240.5 C1119.5,1241.2 1130.7,1241.2 1148.0,1243.5 C1165.3,1245.8 1190.3,1250.2 1212.0,1254.5 C1233.7,1258.8 1257.0,1265.3 1278.0,1269.5 C1299.0,1273.7 1319.7,1277.2 1338.0,1279.5 C1356.3,1281.8 1379.7,1282.8 1388.0,1283.5" fill="none" stroke="#f07d1e" stroke-width="5" opacity="0.12" filter="url(#b2_2)" stroke-linecap="round"/>
<path d="M770.0,1295.0 C778.3,1294.3 801.7,1293.3 820.0,1291.0 C838.3,1288.7 859.0,1285.2 880.0,1281.0 C901.0,1276.8 924.3,1270.3 946.0,1266.0 C967.7,1261.7 992.7,1257.3 1010.0,1255.0 C1027.3,1252.7 1038.5,1252.7 1050.0,1252.0 C1061.5,1251.3 1069.3,1251.0 1079.0,1251.0 C1088.7,1251.0 1096.5,1251.3 1108.0,1252.0 C1119.5,1252.7 1130.7,1252.7 1148.0,1255.0 C1165.3,1257.3 1190.3,1261.7 1212.0,1266.0 C1233.7,1270.3 1257.0,1276.8 1278.0,1281.0 C1299.0,1285.2 1319.7,1288.7 1338.0,1291.0 C1356.3,1293.3 1379.7,1294.3 1388.0,1295.0" fill="none" stroke="#f07d1e" stroke-width="5" opacity="0.12" filter="url(#b2_2)" stroke-linecap="round"/>
<path d="M770.0,1306.5 C778.3,1305.8 801.7,1304.8 820.0,1302.5 C838.3,1300.2 859.0,1296.7 880.0,1292.5 C901.0,1288.3 924.3,1281.8 946.0,1277.5 C967.7,1273.2 992.7,1268.8 1010.0,1266.5 C1027.3,1264.2 1038.5,1264.2 1050.0,1263.5 C1061.5,1262.8 1069.3,1262.5 1079.0,1262.5 C1088.7,1262.5 1096.5,1262.8 1108.0,1263.5 C1119.5,1264.2 1130.7,1264.2 1148.0,1266.5 C1165.3,1268.8 1190.3,1273.2 1212.0,1277.5 C1233.7,1281.8 1257.0,1288.3 1278.0,1292.5 C1299.0,1296.7 1319.7,1300.2 1338.0,1302.5 C1356.3,1304.8 1379.7,1305.8 1388.0,1306.5" fill="none" stroke="#f07d1e" stroke-width="5" opacity="0.12" filter="url(#b2_2)" stroke-linecap="round"/>
<path d="M770.0,1318.0 C778.3,1317.3 801.7,1316.3 820.0,1314.0 C838.3,1311.7 859.0,1308.2 880.0,1304.0 C901.0,1299.8 924.3,1293.3 946.0,1289.0 C967.7,1284.7 992.7,1280.3 1010.0,1278.0 C1027.3,1275.7 1038.5,1275.7 1050.0,1275.0 C1061.5,1274.3 1069.3,1274.0 1079.0,1274.0 C1088.7,1274.0 1096.5,1274.3 1108.0,1275.0 C1119.5,1275.7 1130.7,1275.7 1148.0,1278.0 C1165.3,1280.3 1190.3,1284.7 1212.0,1289.0 C1233.7,1293.3 1257.0,1299.8 1278.0,1304.0 C1299.0,1308.2 1319.7,1311.7 1338.0,1314.0 C1356.3,1316.3 1379.7,1317.3 1388.0,1318.0" fill="none" stroke="#f07d1e" stroke-width="5" opacity="0.12" filter="url(#b2_2)" stroke-linecap="round"/>
<path d="M770.0,1329.5 C778.3,1328.8 801.7,1327.8 820.0,1325.5 C838.3,1323.2 859.0,1319.7 880.0,1315.5 C901.0,1311.3 924.3,1304.8 946.0,1300.5 C967.7,1296.2 992.7,1291.8 1010.0,1289.5 C1027.3,1287.2 1038.5,1287.2 1050.0,1286.5 C1061.5,1285.8 1069.3,1285.5 1079.0,1285.5 C1088.7,1285.5 1096.5,1285.8 1108.0,1286.5 C1119.5,1287.2 1130.7,1287.2 1148.0,1289.5 C1165.3,1291.8 1190.3,1296.2 1212.0,1300.5 C1233.7,1304.8 1257.0,1311.3 1278.0,1315.5 C1299.0,1319.7 1319.7,1323.2 1338.0,1325.5 C1356.3,1327.8 1379.7,1328.8 1388.0,1329.5" fill="none" stroke="#f07d1e" stroke-width="5" opacity="0.12" filter="url(#b2_2)" stroke-linecap="round"/>
<path d="M770.0,1341.0 C778.3,1340.3 801.7,1339.3 820.0,1337.0 C838.3,1334.7 859.0,1331.2 880.0,1327.0 C901.0,1322.8 924.3,1316.3 946.0,1312.0 C967.7,1307.7 992.7,1303.3 1010.0,1301.0 C1027.3,1298.7 1038.5,1298.7 1050.0,1298.0 C1061.5,1297.3 1069.3,1297.0 1079.0,1297.0 C1088.7,1297.0 1096.5,1297.3 1108.0,1298.0 C1119.5,1298.7 1130.7,1298.7 1148.0,1301.0 C1165.3,1303.3 1190.3,1307.7 1212.0,1312.0 C1233.7,1316.3 1257.0,1322.8 1278.0,1327.0 C1299.0,1331.2 1319.7,1334.7 1338.0,1337.0 C1356.3,1339.3 1379.7,1340.3 1388.0,1341.0" fill="none" stroke="#f07d1e" stroke-width="5" opacity="0.12" filter="url(#b2_2)" stroke-linecap="round"/>
<path d="M770.0,1352.5 C778.3,1351.8 801.7,1350.8 820.0,1348.5 C838.3,1346.2 859.0,1342.7 880.0,1338.5 C901.0,1334.3 924.3,1327.8 946.0,1323.5 C967.7,1319.2 992.7,1314.8 1010.0,1312.5 C1027.3,1310.2 1038.5,1310.2 1050.0,1309.5 C1061.5,1308.8 1069.3,1308.5 1079.0,1308.5 C1088.7,1308.5 1096.5,1308.8 1108.0,1309.5 C1119.5,1310.2 1130.7,1310.2 1148.0,1312.5 C1165.3,1314.8 1190.3,1319.2 1212.0,1323.5 C1233.7,1327.8 1257.0,1334.3 1278.0,1338.5 C1299.0,1342.7 1319.7,1346.2 1338.0,1348.5 C1356.3,1350.8 1379.7,1351.8 1388.0,1352.5" fill="none" stroke="#f07d1e" stroke-width="5" opacity="0.12" filter="url(#b2_2)" stroke-linecap="round"/>
<path d="M770.0,1364.0 C778.3,1363.3 801.7,1362.3 820.0,1360.0 C838.3,1357.7 859.0,1354.2 880.0,1350.0 C901.0,1345.8 924.3,1339.3 946.0,1335.0 C967.7,1330.7 992.7,1326.3 1010.0,1324.0 C1027.3,1321.7 1038.5,1321.7 1050.0,1321.0 C1061.5,1320.3 1069.3,1320.0 1079.0,1320.0 C1088.7,1320.0 1096.5,1320.3 1108.0,1321.0 C1119.5,1321.7 1130.7,1321.7 1148.0,1324.0 C1165.3,1326.3 1190.3,1330.7 1212.0,1335.0 C1233.7,1339.3 1257.0,1345.8 1278.0,1350.0 C1299.0,1354.2 1319.7,1357.7 1338.0,1360.0 C1356.3,1362.3 1379.7,1363.3 1388.0,1364.0" fill="none" stroke="#f07d1e" stroke-width="5" opacity="0.12" filter="url(#b2_2)" stroke-linecap="round"/>
<path d="M770.0,1375.5 C778.3,1374.8 801.7,1373.8 820.0,1371.5 C838.3,1369.2 859.0,1365.7 880.0,1361.5 C901.0,1357.3 924.3,1350.8 946.0,1346.5 C967.7,1342.2 992.7,1337.8 1010.0,1335.5 C1027.3,1333.2 1038.5,1333.2 1050.0,1332.5 C1061.5,1331.8 1069.3,1331.5 1079.0,1331.5 C1088.7,1331.5 1096.5,1331.8 1108.0,1332.5 C1119.5,1333.2 1130.7,1333.2 1148.0,1335.5 C1165.3,1337.8 1190.3,1342.2 1212.0,1346.5 C1233.7,1350.8 1257.0,1357.3 1278.0,1361.5 C1299.0,1365.7 1319.7,1369.2 1338.0,1371.5 C1356.3,1373.8 1379.7,1374.8 1388.0,1375.5" fill="none" stroke="#f07d1e" stroke-width="5" opacity="0.12" filter="url(#b2_2)" stroke-linecap="round"/>
<path d="M770.0,1387.0 C778.3,1386.3 801.7,1385.3 820.0,1383.0 C838.3,1380.7 859.0,1377.2 880.0,1373.0 C901.0,1368.8 924.3,1362.3 946.0,1358.0 C967.7,1353.7 992.7,1349.3 1010.0,1347.0 C1027.3,1344.7 1038.5,1344.7 1050.0,1344.0 C1061.5,1343.3 1069.3,1343.0 1079.0,1343.0 C1088.7,1343.0 1096.5,1343.3 1108.0,1344.0 C1119.5,1344.7 1130.7,1344.7 1148.0,1347.0 C1165.3,1349.3 1190.3,1353.7 1212.0,1358.0 C1233.7,1362.3 1257.0,1368.8 1278.0,1373.0 C1299.0,1377.2 1319.7,1380.7 1338.0,1383.0 C1356.3,1385.3 1379.7,1386.3 1388.0,1387.0" fill="none" stroke="#f07d1e" stroke-width="5" opacity="0.12" filter="url(#b2_2)" stroke-linecap="round"/>
<path d="M770.0,1398.5 C778.3,1397.8 801.7,1396.8 820.0,1394.5 C838.3,1392.2 859.0,1388.7 880.0,1384.5 C901.0,1380.3 924.3,1373.8 946.0,1369.5 C967.7,1365.2 992.7,1360.8 1010.0,1358.5 C1027.3,1356.2 1038.5,1356.2 1050.0,1355.5 C1061.5,1354.8 1069.3,1354.5 1079.0,1354.5 C1088.7,1354.5 1096.5,1354.8 1108.0,1355.5 C1119.5,1356.2 1130.7,1356.2 1148.0,1358.5 C1165.3,1360.8 1190.3,1365.2 1212.0,1369.5 C1233.7,1373.8 1257.0,1380.3 1278.0,1384.5 C1299.0,1388.7 1319.7,1392.2 1338.0,1394.5 C1356.3,1396.8 1379.7,1397.8 1388.0,1398.5" fill="none" stroke="#f07d1e" stroke-width="5" opacity="0.12" filter="url(#b2_2)" stroke-linecap="round"/>
<path d="M770.0,1410.0 C778.3,1409.3 801.7,1408.3 820.0,1406.0 C838.3,1403.7 859.0,1400.2 880.0,1396.0 C901.0,1391.8 924.3,1385.3 946.0,1381.0 C967.7,1376.7 992.7,1372.3 1010.0,1370.0 C1027.3,1367.7 1038.5,1367.7 1050.0,1367.0 C1061.5,1366.3 1069.3,1366.0 1079.0,1366.0 C1088.7,1366.0 1096.5,1366.3 1108.0,1367.0 C1119.5,1367.7 1130.7,1367.7 1148.0,1370.0 C1165.3,1372.3 1190.3,1376.7 1212.0,1381.0 C1233.7,1385.3 1257.0,1391.8 1278.0,1396.0 C1299.0,1400.2 1319.7,1403.7 1338.0,1406.0 C1356.3,1408.3 1379.7,1409.3 1388.0,1410.0" fill="none" stroke="#f07d1e" stroke-width="5" opacity="0.12" filter="url(#b2_2)" stroke-linecap="round"/>
<path d="M770.0,1421.5 C778.3,1420.8 801.7,1419.8 820.0,1417.5 C838.3,1415.2 859.0,1411.7 880.0,1407.5 C901.0,1403.3 924.3,1396.8 946.0,1392.5 C967.7,1388.2 992.7,1383.8 1010.0,1381.5 C1027.3,1379.2 1038.5,1379.2 1050.0,1378.5 C1061.5,1377.8 1069.3,1377.5 1079.0,1377.5 C1088.7,1377.5 1096.5,1377.8 1108.0,1378.5 C1119.5,1379.2 1130.7,1379.2 1148.0,1381.5 C1165.3,1383.8 1190.3,1388.2 1212.0,1392.5 C1233.7,1396.8 1257.0,1403.3 1278.0,1407.5 C1299.0,1411.7 1319.7,1415.2 1338.0,1417.5 C1356.3,1419.8 1379.7,1420.8 1388.0,1421.5" fill="none" stroke="#f07d1e" stroke-width="5" opacity="0.12" filter="url(#b2_2)" stroke-linecap="round"/>
<path d="M770.0,1433.0 C778.3,1432.3 801.7,1431.3 820.0,1429.0 C838.3,1426.7 859.0,1423.2 880.0,1419.0 C901.0,1414.8 924.3,1408.3 946.0,1404.0 C967.7,1399.7 992.7,1395.3 1010.0,1393.0 C1027.3,1390.7 1038.5,1390.7 1050.0,1390.0 C1061.5,1389.3 1069.3,1389.0 1079.0,1389.0 C1088.7,1389.0 1096.5,1389.3 1108.0,1390.0 C1119.5,1390.7 1130.7,1390.7 1148.0,1393.0 C1165.3,1395.3 1190.3,1399.7 1212.0,1404.0 C1233.7,1408.3 1257.0,1414.8 1278.0,1419.0 C1299.0,1423.2 1319.7,1426.7 1338.0,1429.0 C1356.3,1431.3 1379.7,1432.3 1388.0,1433.0" fill="none" stroke="#f07d1e" stroke-width="5" opacity="0.12" filter="url(#b2_2)" stroke-linecap="round"/>
<path d="M770.0,1444.5 C778.3,1443.8 801.7,1442.8 820.0,1440.5 C838.3,1438.2 859.0,1434.7 880.0,1430.5 C901.0,1426.3 924.3,1419.8 946.0,1415.5 C967.7,1411.2 992.7,1406.8 1010.0,1404.5 C1027.3,1402.2 1038.5,1402.2 1050.0,1401.5 C1061.5,1400.8 1069.3,1400.5 1079.0,1400.5 C1088.7,1400.5 1096.5,1400.8 1108.0,1401.5 C1119.5,1402.2 1130.7,1402.2 1148.0,1404.5 C1165.3,1406.8 1190.3,1411.2 1212.0,1415.5 C1233.7,1419.8 1257.0,1426.3 1278.0,1430.5 C1299.0,1434.7 1319.7,1438.2 1338.0,1440.5 C1356.3,1442.8 1379.7,1443.8 1388.0,1444.5" fill="none" stroke="#f07d1e" stroke-width="5" opacity="0.12" filter="url(#b2_2)" stroke-linecap="round"/>
<path d="M770.0,1456.0 C778.3,1455.3 801.7,1454.3 820.0,1452.0 C838.3,1449.7 859.0,1446.2 880.0,1442.0 C901.0,1437.8 924.3,1431.3 946.0,1427.0 C967.7,1422.7 992.7,1418.3 1010.0,1416.0 C1027.3,1413.7 1038.5,1413.7 1050.0,1413.0 C1061.5,1412.3 1069.3,1412.0 1079.0,1412.0 C1088.7,1412.0 1096.5,1412.3 1108.0,1413.0 C1119.5,1413.7 1130.7,1413.7 1148.0,1416.0 C1165.3,1418.3 1190.3,1422.7 1212.0,1427.0 C1233.7,1431.3 1257.0,1437.8 1278.0,1442.0 C1299.0,1446.2 1319.7,1449.7 1338.0,1452.0 C1356.3,1454.3 1379.7,1455.3 1388.0,1456.0" fill="none" stroke="#f07d1e" stroke-width="5" opacity="0.12" filter="url(#b2_2)" stroke-linecap="round"/>
<path d="M770.0,1467.5 C778.3,1466.8 801.7,1465.8 820.0,1463.5 C838.3,1461.2 859.0,1457.7 880.0,1453.5 C901.0,1449.3 924.3,1442.8 946.0,1438.5 C967.7,1434.2 992.7,1429.8 1010.0,1427.5 C1027.3,1425.2 1038.5,1425.2 1050.0,1424.5 C1061.5,1423.8 1069.3,1423.5 1079.0,1423.5 C1088.7,1423.5 1096.5,1423.8 1108.0,1424.5 C1119.5,1425.2 1130.7,1425.2 1148.0,1427.5 C1165.3,1429.8 1190.3,1434.2 1212.0,1438.5 C1233.7,1442.8 1257.0,1449.3 1278.0,1453.5 C1299.0,1457.7 1319.7,1461.2 1338.0,1463.5 C1356.3,1465.8 1379.7,1466.8 1388.0,1467.5" fill="none" stroke="#f07d1e" stroke-width="5" opacity="0.12" filter="url(#b2_2)" stroke-linecap="round"/>
<path d="M770.0,1479.0 C778.3,1478.3 801.7,1477.3 820.0,1475.0 C838.3,1472.7 859.0,1469.2 880.0,1465.0 C901.0,1460.8 924.3,1454.3 946.0,1450.0 C967.7,1445.7 992.7,1441.3 1010.0,1439.0 C1027.3,1436.7 1038.5,1436.7 1050.0,1436.0 C1061.5,1435.3 1069.3,1435.0 1079.0,1435.0 C1088.7,1435.0 1096.5,1435.3 1108.0,1436.0 C1119.5,1436.7 1130.7,1436.7 1148.0,1439.0 C1165.3,1441.3 1190.3,1445.7 1212.0,1450.0 C1233.7,1454.3 1257.0,1460.8 1278.0,1465.0 C1299.0,1469.2 1319.7,1472.7 1338.0,1475.0 C1356.3,1477.3 1379.7,1478.3 1388.0,1479.0" fill="none" stroke="#f07d1e" stroke-width="5" opacity="0.12" filter="url(#b2_2)" stroke-linecap="round"/>
<path d="M770.0,1490.5 C778.3,1489.8 801.7,1488.8 820.0,1486.5 C838.3,1484.2 859.0,1480.7 880.0,1476.5 C901.0,1472.3 924.3,1465.8 946.0,1461.5 C967.7,1457.2 992.7,1452.8 1010.0,1450.5 C1027.3,1448.2 1038.5,1448.2 1050.0,1447.5 C1061.5,1446.8 1069.3,1446.5 1079.0,1446.5 C1088.7,1446.5 1096.5,1446.8 1108.0,1447.5 C1119.5,1448.2 1130.7,1448.2 1148.0,1450.5 C1165.3,1452.8 1190.3,1457.2 1212.0,1461.5 C1233.7,1465.8 1257.0,1472.3 1278.0,1476.5 C1299.0,1480.7 1319.7,1484.2 1338.0,1486.5 C1356.3,1488.8 1379.7,1489.8 1388.0,1490.5" fill="none" stroke="#f07d1e" stroke-width="5" opacity="0.12" filter="url(#b2_2)" stroke-linecap="round"/>
<path d="M770.0,1502.0 C778.3,1501.3 801.7,1500.3 820.0,1498.0 C838.3,1495.7 859.0,1492.2 880.0,1488.0 C901.0,1483.8 924.3,1477.3 946.0,1473.0 C967.7,1468.7 992.7,1464.3 1010.0,1462.0 C1027.3,1459.7 1038.5,1459.7 1050.0,1459.0 C1061.5,1458.3 1069.3,1458.0 1079.0,1458.0 C1088.7,1458.0 1096.5,1458.3 1108.0,1459.0 C1119.5,1459.7 1130.7,1459.7 1148.0,1462.0 C1165.3,1464.3 1190.3,1468.7 1212.0,1473.0 C1233.7,1477.3 1257.0,1483.8 1278.0,1488.0 C1299.0,1492.2 1319.7,1495.7 1338.0,1498.0 C1356.3,1500.3 1379.7,1501.3 1388.0,1502.0" fill="none" stroke="#f07d1e" stroke-width="5" opacity="0.12" filter="url(#b2_2)" stroke-linecap="round"/>
<path d="M770.0,1513.5 C778.3,1512.8 801.7,1511.8 820.0,1509.5 C838.3,1507.2 859.0,1503.7 880.0,1499.5 C901.0,1495.3 924.3,1488.8 946.0,1484.5 C967.7,1480.2 992.7,1475.8 1010.0,1473.5 C1027.3,1471.2 1038.5,1471.2 1050.0,1470.5 C1061.5,1469.8 1069.3,1469.5 1079.0,1469.5 C1088.7,1469.5 1096.5,1469.8 1108.0,1470.5 C1119.5,1471.2 1130.7,1471.2 1148.0,1473.5 C1165.3,1475.8 1190.3,1480.2 1212.0,1484.5 C1233.7,1488.8 1257.0,1495.3 1278.0,1499.5 C1299.0,1503.7 1319.7,1507.2 1338.0,1509.5 C1356.3,1511.8 1379.7,1512.8 1388.0,1513.5" fill="none" stroke="#f07d1e" stroke-width="5" opacity="0.12" filter="url(#b2_2)" stroke-linecap="round"/>
<path d="M770.0,1525.0 C778.3,1524.3 801.7,1523.3 820.0,1521.0 C838.3,1518.7 859.0,1515.2 880.0,1511.0 C901.0,1506.8 924.3,1500.3 946.0,1496.0 C967.7,1491.7 992.7,1487.3 1010.0,1485.0 C1027.3,1482.7 1038.5,1482.7 1050.0,1482.0 C1061.5,1481.3 1069.3,1481.0 1079.0,1481.0 C1088.7,1481.0 1096.5,1481.3 1108.0,1482.0 C1119.5,1482.7 1130.7,1482.7 1148.0,1485.0 C1165.3,1487.3 1190.3,1491.7 1212.0,1496.0 C1233.7,1500.3 1257.0,1506.8 1278.0,1511.0 C1299.0,1515.2 1319.7,1518.7 1338.0,1521.0 C1356.3,1523.3 1379.7,1524.3 1388.0,1525.0" fill="none" stroke="#f07d1e" stroke-width="5" opacity="0.12" filter="url(#b2_2)" stroke-linecap="round"/>
<path d="M770.0,1536.5 C778.3,1535.8 801.7,1534.8 820.0,1532.5 C838.3,1530.2 859.0,1526.7 880.0,1522.5 C901.0,1518.3 924.3,1511.8 946.0,1507.5 C967.7,1503.2 992.7,1498.8 1010.0,1496.5 C1027.3,1494.2 1038.5,1494.2 1050.0,1493.5 C1061.5,1492.8 1069.3,1492.5 1079.0,1492.5 C1088.7,1492.5 1096.5,1492.8 1108.0,1493.5 C1119.5,1494.2 1130.7,1494.2 1148.0,1496.5 C1165.3,1498.8 1190.3,1503.2 1212.0,1507.5 C1233.7,1511.8 1257.0,1518.3 1278.0,1522.5 C1299.0,1526.7 1319.7,1530.2 1338.0,1532.5 C1356.3,1534.8 1379.7,1535.8 1388.0,1536.5" fill="none" stroke="#f07d1e" stroke-width="5" opacity="0.12" filter="url(#b2_2)" stroke-linecap="round"/>
<path d="M770.0,1548.0 C778.3,1547.3 801.7,1546.3 820.0,1544.0 C838.3,1541.7 859.0,1538.2 880.0,1534.0 C901.0,1529.8 924.3,1523.3 946.0,1519.0 C967.7,1514.7 992.7,1510.3 1010.0,1508.0 C1027.3,1505.7 1038.5,1505.7 1050.0,1505.0 C1061.5,1504.3 1069.3,1504.0 1079.0,1504.0 C1088.7,1504.0 1096.5,1504.3 1108.0,1505.0 C1119.5,1505.7 1130.7,1505.7 1148.0,1508.0 C1165.3,1510.3 1190.3,1514.7 1212.0,1519.0 C1233.7,1523.3 1257.0,1529.8 1278.0,1534.0 C1299.0,1538.2 1319.7,1541.7 1338.0,1544.0 C1356.3,1546.3 1379.7,1547.3 1388.0,1548.0" fill="none" stroke="#f07d1e" stroke-width="5" opacity="0.12" filter="url(#b2_2)" stroke-linecap="round"/>
<path d="M770.0,1559.5 C778.3,1558.8 801.7,1557.8 820.0,1555.5 C838.3,1553.2 859.0,1549.7 880.0,1545.5 C901.0,1541.3 924.3,1534.8 946.0,1530.5 C967.7,1526.2 992.7,1521.8 1010.0,1519.5 C1027.3,1517.2 1038.5,1517.2 1050.0,1516.5 C1061.5,1515.8 1069.3,1515.5 1079.0,1515.5 C1088.7,1515.5 1096.5,1515.8 1108.0,1516.5 C1119.5,1517.2 1130.7,1517.2 1148.0,1519.5 C1165.3,1521.8 1190.3,1526.2 1212.0,1530.5 C1233.7,1534.8 1257.0,1541.3 1278.0,1545.5 C1299.0,1549.7 1319.7,1553.2 1338.0,1555.5 C1356.3,1557.8 1379.7,1558.8 1388.0,1559.5" fill="none" stroke="#f07d1e" stroke-width="5" opacity="0.12" filter="url(#b2_2)" stroke-linecap="round"/>
<path d="M770.0,1571.0 C778.3,1570.3 801.7,1569.3 820.0,1567.0 C838.3,1564.7 859.0,1561.2 880.0,1557.0 C901.0,1552.8 924.3,1546.3 946.0,1542.0 C967.7,1537.7 992.7,1533.3 1010.0,1531.0 C1027.3,1528.7 1038.5,1528.7 1050.0,1528.0 C1061.5,1527.3 1069.3,1527.0 1079.0,1527.0 C1088.7,1527.0 1096.5,1527.3 1108.0,1528.0 C1119.5,1528.7 1130.7,1528.7 1148.0,1531.0 C1165.3,1533.3 1190.3,1537.7 1212.0,1542.0 C1233.7,1546.3 1257.0,1552.8 1278.0,1557.0 C1299.0,1561.2 1319.7,1564.7 1338.0,1567.0 C1356.3,1569.3 1379.7,1570.3 1388.0,1571.0" fill="none" stroke="#f07d1e" stroke-width="5" opacity="0.12" filter="url(#b2_2)" stroke-linecap="round"/>
<path d="M770.0,1582.5 C778.3,1581.8 801.7,1580.8 820.0,1578.5 C838.3,1576.2 859.0,1572.7 880.0,1568.5 C901.0,1564.3 924.3,1557.8 946.0,1553.5 C967.7,1549.2 992.7,1544.8 1010.0,1542.5 C1027.3,1540.2 1038.5,1540.2 1050.0,1539.5 C1061.5,1538.8 1069.3,1538.5 1079.0,1538.5 C1088.7,1538.5 1096.5,1538.8 1108.0,1539.5 C1119.5,1540.2 1130.7,1540.2 1148.0,1542.5 C1165.3,1544.8 1190.3,1549.2 1212.0,1553.5 C1233.7,1557.8 1257.0,1564.3 1278.0,1568.5 C1299.0,1572.7 1319.7,1576.2 1338.0,1578.5 C1356.3,1580.8 1379.7,1581.8 1388.0,1582.5" fill="none" stroke="#f07d1e" stroke-width="5" opacity="0.12" filter="url(#b2_2)" stroke-linecap="round"/>
<path d="M775.0,1226.0 C782.5,1233.3 805.8,1256.0 820.0,1270.0 C834.2,1284.0 846.7,1296.3 860.0,1310.0 C873.3,1323.7 893.3,1345.0 900.0,1352.0" fill="none" stroke="#f07d1e" stroke-width="10" opacity="0.25" filter="url(#b3)" stroke-linecap="round"/>
<path d="M1258.0,1352.0 C1264.7,1345.0 1284.7,1323.7 1298.0,1310.0 C1311.3,1296.3 1323.8,1284.0 1338.0,1270.0 C1352.2,1256.0 1375.5,1233.3 1383.0,1226.0" fill="none" stroke="#f07d1e" stroke-width="10" opacity="0.25" filter="url(#b3)" stroke-linecap="round"/>
<path d="M775.0,1135.0 C784.2,1144.2 812.5,1171.7 830.0,1190.0 C847.5,1208.3 865.0,1227.5 880.0,1245.0 C895.0,1262.5 913.3,1286.7 920.0,1295.0" fill="none" stroke="#f07d1e" stroke-width="8" opacity="0.18" filter="url(#b3)" stroke-linecap="round"/>
<path d="M1238.0,1295.0 C1244.7,1286.7 1263.0,1262.5 1278.0,1245.0 C1293.0,1227.5 1310.5,1208.3 1328.0,1190.0 C1345.5,1171.7 1373.8,1144.2 1383.0,1135.0" fill="none" stroke="#f07d1e" stroke-width="8" opacity="0.18" filter="url(#b3)" stroke-linecap="round"/>
<path d="M1079.0,1150.0 C1067.5,1152.5 1031.5,1159.2 1010.0,1165.0 C988.5,1170.8 968.3,1179.2 950.0,1185.0 C931.7,1190.8 915.0,1195.0 900.0,1200.0 C885.0,1205.0 873.3,1210.3 860.0,1215.0 C846.7,1219.7 834.2,1223.3 820.0,1228.0 C805.8,1232.7 782.5,1240.5 775.0,1243.0" fill="none" stroke="#f07d1e" stroke-width="10" opacity="0.25" filter="url(#b3)" stroke-linecap="round"/>
<path d="M1383.0,1243.0 C1375.5,1240.5 1352.2,1232.7 1338.0,1228.0 C1323.8,1223.3 1311.3,1219.7 1298.0,1215.0 C1284.7,1210.3 1273.0,1205.0 1258.0,1200.0 C1243.0,1195.0 1226.3,1190.8 1208.0,1185.0 C1189.7,1179.2 1169.5,1170.8 1148.0,1165.0 C1126.5,1159.2 1090.5,1152.5 1079.0,1150.0" fill="none" stroke="#f07d1e" stroke-width="10" opacity="0.25" filter="url(#b3)" stroke-linecap="round"/>
<path d="M1079.0,1180.0 C1067.5,1182.5 1031.5,1189.2 1010.0,1195.0 C988.5,1200.8 968.3,1208.8 950.0,1215.0 C931.7,1221.2 915.0,1226.8 900.0,1232.0 C885.0,1237.2 880.8,1238.8 860.0,1246.0 C839.2,1253.2 789.2,1270.2 775.0,1275.0" fill="none" stroke="#f07d1e" stroke-width="8" opacity="0.2" filter="url(#b3)" stroke-linecap="round"/>
<path d="M1383.0,1275.0 C1368.8,1270.2 1318.8,1253.2 1298.0,1246.0 C1277.2,1238.8 1273.0,1237.2 1258.0,1232.0 C1243.0,1226.8 1226.3,1221.2 1208.0,1215.0 C1189.7,1208.8 1169.5,1200.8 1148.0,1195.0 C1126.5,1189.2 1090.5,1182.5 1079.0,1180.0" fill="none" stroke="#f07d1e" stroke-width="8" opacity="0.2" filter="url(#b3)" stroke-linecap="round"/>
<ellipse cx="800" cy="1282" rx="18" ry="32" fill="#fff6ee" opacity="0.85" filter="url(#b6)"/>
<ellipse cx="1358.0" cy="1282" rx="18" ry="32" fill="#fff6ee" opacity="0.85" filter="url(#b6)"/>
<ellipse cx="915" cy="1356" rx="26" ry="26" fill="#fffaf6" opacity="1" filter="url(#b6)"/>
<ellipse cx="1243.0" cy="1356" rx="26" ry="26" fill="#fffaf6" opacity="1" filter="url(#b6)"/>
<path d="M1000.0,1180.0 C1005.0,1176.7 1020.8,1164.7 1030.0,1160.0 C1039.2,1155.3 1046.8,1153.7 1055.0,1152.0 C1063.2,1150.3 1071.0,1150.0 1079.0,1150.0 C1087.0,1150.0 1094.8,1150.3 1103.0,1152.0 C1111.2,1153.7 1118.8,1155.3 1128.0,1160.0 C1137.2,1164.7 1153.0,1176.7 1158.0,1180.0" fill="none" stroke="#f07d1e" stroke-width="10" opacity="0.3" filter="url(#b3)" stroke-linecap="round"/>
<path d="M1079.0,1150.0 C1074.2,1153.0 1061.5,1158.0 1050.0,1168.0 C1038.5,1178.0 1022.5,1194.3 1010.0,1210.0 C997.5,1225.7 985.0,1245.3 975.0,1262.0 C965.0,1278.7 957.5,1295.3 950.0,1310.0 C942.5,1324.7 933.3,1343.3 930.0,1350.0" fill="none" stroke="#f07d1e" stroke-width="10" opacity="0.35" filter="url(#b3)" stroke-linecap="round"/>
<path d="M1228.0,1350.0 C1224.7,1343.3 1215.5,1324.7 1208.0,1310.0 C1200.5,1295.3 1193.0,1278.7 1183.0,1262.0 C1173.0,1245.3 1160.5,1225.7 1148.0,1210.0 C1135.5,1194.3 1119.5,1178.0 1108.0,1168.0 C1096.5,1158.0 1083.8,1153.0 1079.0,1150.0" fill="none" stroke="#f07d1e" stroke-width="10" opacity="0.35" filter="url(#b3)" stroke-linecap="round"/>
<path d="M1079.0,1200.0 C1074.2,1202.0 1060.7,1204.5 1050.0,1212.0 C1039.3,1219.5 1025.0,1232.8 1015.0,1245.0 C1005.0,1257.2 994.2,1278.3 990.0,1285.0" fill="none" stroke="#f07d1e" stroke-width="9" opacity="0.3" filter="url(#b3)" stroke-linecap="round"/>
<path d="M1168.0,1285.0 C1163.8,1278.3 1153.0,1257.2 1143.0,1245.0 C1133.0,1232.8 1118.7,1219.5 1108.0,1212.0 C1097.3,1204.5 1083.8,1202.0 1079.0,1200.0" fill="none" stroke="#f07d1e" stroke-width="9" opacity="0.3" filter="url(#b3)" stroke-linecap="round"/>
<path d="M1079.0,1262.0 L1040.0,1272.0 L1000.0,1300.0 L970.0,1350.0 L960.0,1430.0 L1000.0,1480.0 L1079.0,1470.0Z" fill="#f9cba4" opacity="0.7" filter="url(#b10)"/>
<path d="M1079.0,1470.0 L1158.0,1480.0 L1198.0,1430.0 L1188.0,1350.0 L1158.0,1300.0 L1118.0,1272.0 L1079.0,1262.0Z" fill="#f9cba4" opacity="0.7" filter="url(#b10)"/>
<path d="M1029.0,1286.0 C1033.0,1284.3 1044.7,1278.3 1053.0,1276.0 C1061.3,1273.7 1070.3,1272.0 1079.0,1272.0 C1087.7,1272.0 1096.7,1273.7 1105.0,1276.0 C1113.3,1278.3 1125.0,1284.3 1129.0,1286.0" fill="none" stroke="#f07d1e" stroke-width="6" opacity="0.25" filter="url(#b2_5)" stroke-linecap="round"/>
<path d="M1029.0,1311.0 C1033.0,1309.3 1044.7,1303.3 1053.0,1301.0 C1061.3,1298.7 1070.3,1297.0 1079.0,1297.0 C1087.7,1297.0 1096.7,1298.7 1105.0,1301.0 C1113.3,1303.3 1125.0,1309.3 1129.0,1311.0" fill="none" stroke="#f07d1e" stroke-width="6" opacity="0.3" filter="url(#b2_5)" stroke-linecap="round"/>
<path d="M1029.0,1336.0 C1033.0,1334.3 1044.7,1328.3 1053.0,1326.0 C1061.3,1323.7 1070.3,1322.0 1079.0,1322.0 C1087.7,1322.0 1096.7,1323.7 1105.0,1326.0 C1113.3,1328.3 1125.0,1334.3 1129.0,1336.0" fill="none" stroke="#f07d1e" stroke-width="6" opacity="0.3" filter="url(#b2_5)" stroke-linecap="round"/>
<path d="M1029.0,1362.0 C1033.0,1360.3 1044.7,1354.3 1053.0,1352.0 C1061.3,1349.7 1070.3,1348.0 1079.0,1348.0 C1087.7,1348.0 1096.7,1349.7 1105.0,1352.0 C1113.3,1354.3 1125.0,1360.3 1129.0,1362.0" fill="none" stroke="#f07d1e" stroke-width="6" opacity="0.28" filter="url(#b2_5)" stroke-linecap="round"/>
<path d="M1029.0,1387.0 C1033.0,1385.3 1044.7,1379.3 1053.0,1377.0 C1061.3,1374.7 1070.3,1373.0 1079.0,1373.0 C1087.7,1373.0 1096.7,1374.7 1105.0,1377.0 C1113.3,1379.3 1125.0,1385.3 1129.0,1387.0" fill="none" stroke="#f07d1e" stroke-width="6" opacity="0.25" filter="url(#b2_5)" stroke-linecap="round"/>
<path d="M1029.0,1412.0 C1033.0,1410.3 1044.7,1404.3 1053.0,1402.0 C1061.3,1399.7 1070.3,1398.0 1079.0,1398.0 C1087.7,1398.0 1096.7,1399.7 1105.0,1402.0 C1113.3,1404.3 1125.0,1410.3 1129.0,1412.0" fill="none" stroke="#f07d1e" stroke-width="6" opacity="0.25" filter="url(#b2_5)" stroke-linecap="round"/>
<path d="M1029.0,1437.0 C1033.0,1435.3 1044.7,1429.3 1053.0,1427.0 C1061.3,1424.7 1070.3,1423.0 1079.0,1423.0 C1087.7,1423.0 1096.7,1424.7 1105.0,1427.0 C1113.3,1429.3 1125.0,1435.3 1129.0,1437.0" fill="none" stroke="#f07d1e" stroke-width="6" opacity="0.22" filter="url(#b2_5)" stroke-linecap="round"/>
<path d="M1029.0,1462.0 C1033.0,1460.3 1044.7,1454.3 1053.0,1452.0 C1061.3,1449.7 1070.3,1448.0 1079.0,1448.0 C1087.7,1448.0 1096.7,1449.7 1105.0,1452.0 C1113.3,1454.3 1125.0,1460.3 1129.0,1462.0" fill="none" stroke="#f07d1e" stroke-width="6" opacity="0.2" filter="url(#b2_5)" stroke-linecap="round"/>
<path d="M1079.0,1262.0 C1075.0,1268.3 1064.0,1285.3 1055.0,1300.0 C1046.0,1314.7 1035.0,1331.7 1025.0,1350.0 C1015.0,1368.3 1005.8,1390.0 995.0,1410.0 C984.2,1430.0 971.7,1450.0 960.0,1470.0 C948.3,1490.0 938.3,1511.7 925.0,1530.0 C911.7,1548.3 895.8,1566.7 880.0,1580.0 C864.2,1593.3 845.7,1602.5 830.0,1610.0 C814.3,1617.5 793.3,1622.5 786.0,1625.0" fill="none" stroke="#f07d1e" stroke-width="11" opacity="0.5" filter="url(#b3)" stroke-linecap="round"/>
<path d="M1372.0,1625.0 C1364.7,1622.5 1343.7,1617.5 1328.0,1610.0 C1312.3,1602.5 1293.8,1593.3 1278.0,1580.0 C1262.2,1566.7 1246.3,1548.3 1233.0,1530.0 C1219.7,1511.7 1209.7,1490.0 1198.0,1470.0 C1186.3,1450.0 1173.8,1430.0 1163.0,1410.0 C1152.2,1390.0 1143.0,1368.3 1133.0,1350.0 C1123.0,1331.7 1112.0,1314.7 1103.0,1300.0 C1094.0,1285.3 1083.0,1268.3 1079.0,1262.0" fill="none" stroke="#f07d1e" stroke-width="11" opacity="0.5" filter="url(#b3)" stroke-linecap="round"/>
<path d="M1000.0,1300.0 C1004.2,1307.5 1016.7,1328.3 1025.0,1345.0 C1033.3,1361.7 1042.5,1382.5 1050.0,1400.0 C1057.5,1417.5 1066.7,1441.7 1070.0,1450.0" fill="none" stroke="#f07d1e" stroke-width="7" opacity="0.22" filter="url(#b3)" stroke-linecap="round"/>
<path d="M1088.0,1450.0 C1091.3,1441.7 1100.5,1417.5 1108.0,1400.0 C1115.5,1382.5 1124.7,1361.7 1133.0,1345.0 C1141.3,1328.3 1153.8,1307.5 1158.0,1300.0" fill="none" stroke="#f07d1e" stroke-width="7" opacity="0.22" filter="url(#b3)" stroke-linecap="round"/>
<path d="M1079.0,1465.0 L1103.0,1495.0 L1119.0,1552.0 L1039.0,1552.0 L1055.0,1495.0Z" fill="#fffaf7" opacity="1" filter="url(#b6)"/>
<path d="M786.0,1590.0 L850.0,1585.0 L900.0,1590.0 L905.0,1640.0 L786.0,1650.0Z" fill="#f6a860" opacity="0.6" filter="url(#b6)"/>
<path d="M1372.0,1650.0 L1253.0,1640.0 L1258.0,1590.0 L1308.0,1585.0 L1372.0,1590.0Z" fill="#f6a860" opacity="0.6" filter="url(#b6)"/>
<path d="M770.0,1600.0 C778.3,1600.8 805.0,1603.0 820.0,1605.0 C835.0,1607.0 846.7,1609.5 860.0,1612.0 C873.3,1614.5 886.7,1622.0 900.0,1620.0 C913.3,1618.0 926.7,1607.5 940.0,1600.0 C953.3,1592.5 973.3,1579.2 980.0,1575.0" fill="none" stroke="#ef8020" stroke-width="14" opacity="0.6" filter="url(#b4)" stroke-linecap="round"/>
<path d="M1178.0,1575.0 C1184.7,1579.2 1204.7,1592.5 1218.0,1600.0 C1231.3,1607.5 1244.7,1618.0 1258.0,1620.0 C1271.3,1622.0 1284.7,1614.5 1298.0,1612.0 C1311.3,1609.5 1323.0,1607.0 1338.0,1605.0 C1353.0,1603.0 1379.7,1600.8 1388.0,1600.0" fill="none" stroke="#ef8020" stroke-width="14" opacity="0.6" filter="url(#b4)" stroke-linecap="round"/>
<path d="M770.0,1626.0 C775.0,1626.0 790.0,1626.0 800.0,1626.0 C810.0,1626.0 820.0,1625.7 830.0,1626.0 C840.0,1626.3 855.0,1627.7 860.0,1628.0" fill="none" stroke="#ef8020" stroke-width="16" opacity="0.85" filter="url(#b3)" stroke-linecap="round"/>
<path d="M1298.0,1628.0 C1303.0,1627.7 1318.0,1626.3 1328.0,1626.0 C1338.0,1625.7 1348.0,1626.0 1358.0,1626.0 C1368.0,1626.0 1383.0,1626.0 1388.0,1626.0" fill="none" stroke="#ef8020" stroke-width="16" opacity="0.85" filter="url(#b3)" stroke-linecap="round"/>
<path d="M770.0,1625.0 C775.0,1625.0 790.8,1624.8 800.0,1625.0 C809.2,1625.2 816.3,1625.5 825.0,1626.0 C833.7,1626.5 847.5,1627.7 852.0,1628.0" fill="none" stroke="#3a1a08" stroke-width="13" opacity="0.88" filter="url(#b3_5)" stroke-linecap="round"/>
<path d="M1306.0,1628.0 C1310.5,1627.7 1324.3,1626.5 1333.0,1626.0 C1341.7,1625.5 1348.8,1625.2 1358.0,1625.0 C1367.2,1624.8 1383.0,1625.0 1388.0,1625.0" fill="none" stroke="#3a1a08" stroke-width="13" opacity="0.88" filter="url(#b3_5)" stroke-linecap="round"/>
<path d="M770.0,1645.0 C781.7,1644.5 818.3,1643.5 840.0,1642.0 C861.7,1640.5 890.0,1637.0 900.0,1636.0" fill="none" stroke="#f09040" stroke-width="8" opacity="0.5" filter="url(#b3)" stroke-linecap="round"/>
<path d="M1258.0,1636.0 C1268.0,1637.0 1296.3,1640.5 1318.0,1642.0 C1339.7,1643.5 1376.3,1644.5 1388.0,1645.0" fill="none" stroke="#f09040" stroke-width="8" opacity="0.5" filter="url(#b3)" stroke-linecap="round"/>
<path d="M945.0,1624.0 C950.0,1622.3 964.2,1616.8 975.0,1614.0 C985.8,1611.2 998.3,1608.8 1010.0,1607.0 C1021.7,1605.2 1033.5,1603.8 1045.0,1603.0 C1056.5,1602.2 1067.7,1602.0 1079.0,1602.0 C1090.3,1602.0 1101.5,1602.2 1113.0,1603.0 C1124.5,1603.8 1136.3,1605.2 1148.0,1607.0 C1159.7,1608.8 1172.2,1611.2 1183.0,1614.0 C1193.8,1616.8 1208.0,1622.3 1213.0,1624.0" fill="none" stroke="#ec842a" stroke-width="10" opacity="0.8" filter="url(#b3)" stroke-linecap="round"/>
<path d="M975.0,1620.0 L1079.0,1615.0 L1079.0,1645.0 L960.0,1650.0Z" fill="#fde9da" opacity="0.7" filter="url(#b6)"/>
<path d="M1198.0,1650.0 L1079.0,1645.0 L1079.0,1615.0 L1183.0,1620.0Z" fill="#fde9da" opacity="0.7" filter="url(#b6)"/>
<path d="M965.0,1680.0 C969.2,1678.7 981.7,1674.8 990.0,1672.0 C998.3,1669.2 1005.8,1665.5 1015.0,1663.0 C1024.2,1660.5 1034.3,1658.3 1045.0,1657.0 C1055.7,1655.7 1067.7,1655.0 1079.0,1655.0 C1090.3,1655.0 1102.3,1655.7 1113.0,1657.0 C1123.7,1658.3 1133.8,1660.5 1143.0,1663.0 C1152.2,1665.5 1159.7,1669.2 1168.0,1672.0 C1176.3,1674.8 1188.8,1678.7 1193.0,1680.0" fill="none" stroke="#f08a2a" stroke-width="20" opacity="0.75" filter="url(#b5)" stroke-linecap="round"/>
<path d="M985.0,1672.0 C989.2,1670.8 1000.8,1667.3 1010.0,1665.0 C1019.2,1662.7 1030.8,1659.6 1040.0,1658.0 C1049.2,1656.4 1058.5,1656.0 1065.0,1655.5 C1071.5,1655.0 1074.3,1655.0 1079.0,1655.0 C1083.7,1655.0 1086.5,1655.0 1093.0,1655.5 C1099.5,1656.0 1108.8,1656.4 1118.0,1658.0 C1127.2,1659.6 1138.8,1662.7 1148.0,1665.0 C1157.2,1667.3 1168.8,1670.8 1173.0,1672.0" fill="none" stroke="#8a4212" stroke-width="14" opacity="0.85" filter="url(#b3)" stroke-linecap="round"/>
<path d="M1010.0,1664.0 C1013.3,1663.2 1022.5,1660.3 1030.0,1659.0 C1037.5,1657.7 1046.8,1656.7 1055.0,1656.0 C1063.2,1655.3 1071.0,1655.0 1079.0,1655.0 C1087.0,1655.0 1094.8,1655.3 1103.0,1656.0 C1111.2,1656.7 1120.5,1657.7 1128.0,1659.0 C1135.5,1660.3 1144.7,1663.2 1148.0,1664.0" fill="none" stroke="#0c0604" stroke-width="7" opacity="0.95" filter="url(#b2_2)" stroke-linecap="round"/>
<path d="M786.0,1665.0 L870.0,1680.0 L950.0,1700.0 L975.0,1765.0 L786.0,1765.0Z" fill="#f8c094" opacity="0.6" filter="url(#b8)"/>
<path d="M1372.0,1765.0 L1183.0,1765.0 L1208.0,1700.0 L1288.0,1680.0 L1372.0,1665.0Z" fill="#f8c094" opacity="0.6" filter="url(#b8)"/>
<path d="M995.0,1670.0 C988.3,1673.0 968.3,1681.0 955.0,1688.0 C941.7,1695.0 928.3,1704.2 915.0,1712.0 C901.7,1719.8 888.3,1727.8 875.0,1735.0 C861.7,1742.2 845.8,1749.5 835.0,1755.0 C824.2,1760.5 814.2,1765.8 810.0,1768.0" fill="none" stroke="#ef7f1e" stroke-width="9" opacity="0.8" filter="url(#b2_5)" stroke-linecap="round"/>
<path d="M1348.0,1768.0 C1343.8,1765.8 1333.8,1760.5 1323.0,1755.0 C1312.2,1749.5 1296.3,1742.2 1283.0,1735.0 C1269.7,1727.8 1256.3,1719.8 1243.0,1712.0 C1229.7,1704.2 1216.3,1695.0 1203.0,1688.0 C1189.7,1681.0 1169.7,1673.0 1163.0,1670.0" fill="none" stroke="#ef7f1e" stroke-width="9" opacity="0.8" filter="url(#b2_5)" stroke-linecap="round"/>
<path d="M990.0,1675.0 C988.0,1680.0 981.3,1695.0 978.0,1705.0 C974.7,1715.0 972.2,1724.5 970.0,1735.0 C967.8,1745.5 965.8,1762.5 965.0,1768.0" fill="none" stroke="#ef8a2a" stroke-width="9" opacity="0.55" filter="url(#b3)" stroke-linecap="round"/>
<path d="M1193.0,1768.0 C1192.2,1762.5 1190.2,1745.5 1188.0,1735.0 C1185.8,1724.5 1183.3,1715.0 1180.0,1705.0 C1176.7,1695.0 1170.0,1680.0 1168.0,1675.0" fill="none" stroke="#ef8a2a" stroke-width="9" opacity="0.55" filter="url(#b3)" stroke-linecap="round"/>
<path d="M786.0,1660.0 C795.0,1661.3 821.0,1664.7 840.0,1668.0 C859.0,1671.3 881.7,1678.3 900.0,1680.0 C918.3,1681.7 941.7,1678.3 950.0,1678.0" fill="none" stroke="#f08a2a" stroke-width="10" opacity="0.5" filter="url(#b3)" stroke-linecap="round"/>
<path d="M1208.0,1678.0 C1216.3,1678.3 1239.7,1681.7 1258.0,1680.0 C1276.3,1678.3 1299.0,1671.3 1318.0,1668.0 C1337.0,1664.7 1363.0,1661.3 1372.0,1660.0" fill="none" stroke="#f08a2a" stroke-width="10" opacity="0.5" filter="url(#b3)" stroke-linecap="round"/>
<path d="M775.0,1700.0 C780.8,1700.5 797.5,1701.0 810.0,1703.0 C822.5,1705.0 836.7,1708.3 850.0,1712.0 C863.3,1715.7 883.3,1722.8 890.0,1725.0" fill="none" stroke="#f08a2a" stroke-width="12" opacity="0.5" filter="url(#b4)" stroke-linecap="round"/>
<path d="M1268.0,1725.0 C1274.7,1722.8 1294.7,1715.7 1308.0,1712.0 C1321.3,1708.3 1335.5,1705.0 1348.0,1703.0 C1360.5,1701.0 1377.2,1700.5 1383.0,1700.0" fill="none" stroke="#f08a2a" stroke-width="12" opacity="0.5" filter="url(#b4)" stroke-linecap="round"/>
<path d="M1079.0,1686.0 L1121.0,1712.0 L1179.0,1772.0 L979.0,1772.0 L1037.0,1712.0Z" fill="#fffaf7" opacity="1" filter="url(#b6)"/>
</g>
<path d="M118.3,1442.6 L122.6,1441.1" fill="none" stroke="#faf8fc" stroke-width="5.5" stroke-linejoin="round"/>
<path d="M122.6,1441.1 L126.8,1439.6" fill="none" stroke="#dcddf2" stroke-width="5.5" stroke-linejoin="round"/>
<path d="M126.8,1439.6 L131.5,1438.0" fill="none" stroke="#bfc1e9" stroke-width="5.5" stroke-linejoin="round"/>
<path d="M131.5,1438.0 L135.7,1436.5" fill="none" stroke="#a3a7de" stroke-width="5.5" stroke-linejoin="round"/>
<path d="M135.7,1436.5 L140.0,1434.9" fill="none" stroke="#8b91d3" stroke-width="5.5" stroke-linejoin="round"/>
<path d="M140.0,1434.9 L144.4,1433.2" fill="none" stroke="#737bc7" stroke-width="5.5" stroke-linejoin="round"/>
<path d="M144.4,1433.2 L148.8,1431.4" fill="none" stroke="#5c65bb" stroke-width="5.5" stroke-linejoin="round"/>
<path d="M148.8,1431.4 L153.1,1429.6 L157.0,1427.8 L161.4,1425.7 L165.9,1423.4 L170.5,1421.1 L175.1,1418.6 L178.8,1416.6 L182.5,1414.5 L187.0,1411.9 L191.4,1409.3 L195.6,1406.7 L199.9,1403.9 L203.5,1401.4 L207.0,1398.9 L210.4,1396.3 L213.7,1393.7 L217.8,1390.5 L221.7,1387.4 L225.3,1384.5 L228.8,1381.9 L232.3,1379.4 L236.1,1376.7 L240.4,1373.8 L244.3,1371.3 L248.2,1369.0 L252.7,1366.9 L256.9,1365.2 L261.2,1363.7 L265.3,1362.6 L269.8,1361.5 L274.3,1361.0 L278.7,1362.5 L282.4,1365.8 L287.1,1367.7 L291.6,1368.3 L295.9,1367.8 L299.5,1365.4 L302.7,1362.0 L305.0,1359.6" fill="none" stroke="#4a54b2" stroke-width="5.5" stroke-linejoin="round"/>
<path d="M118.3,1558.6 L122.3,1555.9" fill="none" stroke="#faf8fc" stroke-width="5.5" stroke-linejoin="round"/>
<path d="M122.3,1555.9 L126.3,1553.3" fill="none" stroke="#f3f1fa" stroke-width="5.5" stroke-linejoin="round"/>
<path d="M126.3,1553.3 L129.9,1551.0" fill="none" stroke="#ebeaf8" stroke-width="5.5" stroke-linejoin="round"/>
<path d="M129.9,1551.0 L133.7,1548.4" fill="none" stroke="#e4e3f5" stroke-width="5.5" stroke-linejoin="round"/>
<path d="M133.7,1548.4 L137.6,1545.7" fill="none" stroke="#dcdcf3" stroke-width="5.5" stroke-linejoin="round"/>
<path d="M137.6,1545.7 L141.4,1542.9" fill="none" stroke="#d5d5f1" stroke-width="5.5" stroke-linejoin="round"/>
<path d="M141.4,1542.9 L144.8,1540.0" fill="none" stroke="#d6cee9" stroke-width="5.5" stroke-linejoin="round"/>
<path d="M144.8,1540.0 L148.6,1536.5" fill="none" stroke="#ddc6de" stroke-width="5.5" stroke-linejoin="round"/>
<path d="M148.6,1536.5 L151.9,1532.9" fill="none" stroke="#e3bfd2" stroke-width="5.5" stroke-linejoin="round"/>
<path d="M151.9,1532.9 L154.7,1529.1" fill="none" stroke="#eab7c7" stroke-width="5.5" stroke-linejoin="round"/>
<path d="M154.7,1529.1 L157.4,1525.2" fill="none" stroke="#f1b0bb" stroke-width="5.5" stroke-linejoin="round"/>
<path d="M157.4,1525.2 L160.1,1521.2" fill="none" stroke="#f6a9b1" stroke-width="5.5" stroke-linejoin="round"/>
<path d="M160.1,1521.2 L162.8,1516.9" fill="none" stroke="#f5a3ab" stroke-width="5.5" stroke-linejoin="round"/>
<path d="M162.8,1516.9 L165.2,1513.2" fill="none" stroke="#f49ca5" stroke-width="5.5" stroke-linejoin="round"/>
<path d="M165.2,1513.2 L167.8,1509.4" fill="none" stroke="#f4969f" stroke-width="5.5" stroke-linejoin="round"/>
<path d="M167.8,1509.4 L170.5,1505.5" fill="none" stroke="#f39099" stroke-width="5.5" stroke-linejoin="round"/>
<path d="M170.5,1505.5 L173.1,1501.8" fill="none" stroke="#f28a93" stroke-width="5.5" stroke-linejoin="round"/>
<path d="M173.1,1501.8 L175.9,1497.8" fill="none" stroke="#f1848d" stroke-width="5.5" stroke-linejoin="round"/>
<path d="M175.9,1497.8 L178.8,1493.7" fill="none" stroke="#f17e87" stroke-width="5.5" stroke-linejoin="round"/>
<path d="M178.8,1493.7 L181.7,1489.5 L184.7,1485.2 L187.1,1481.8 L189.5,1478.3 L192.5,1474.0 L195.5,1469.8 L198.4,1465.7 L201.3,1461.5 L204.2,1457.3 L207.2,1453.0 L210.1,1448.8 L213.1,1444.5 L216.0,1440.4 L218.8,1436.3 L221.6,1432.3 L224.4,1428.4 L227.3,1424.4 L229.9,1420.9 L232.4,1417.4 L235.5,1413.2" fill="none" stroke="#f07882" stroke-width="5.5" stroke-linejoin="round"/>
<path d="M235.5,1413.2 L238.6,1409.2" fill="none" stroke="#f07a84" stroke-width="5.5" stroke-linejoin="round"/>
<path d="M238.6,1409.2 L241.6,1405.2" fill="none" stroke="#f17c86" stroke-width="5.5" stroke-linejoin="round"/>
<path d="M241.6,1405.2 L244.5,1401.4" fill="none" stroke="#f17e88" stroke-width="5.5" stroke-linejoin="round"/>
<path d="M244.5,1401.4 L247.3,1397.6" fill="none" stroke="#f18089" stroke-width="5.5" stroke-linejoin="round"/>
<path d="M247.3,1397.6 L250.1,1394.0" fill="none" stroke="#f2828b" stroke-width="5.5" stroke-linejoin="round"/>
<path d="M250.1,1394.0 L252.8,1390.6" fill="none" stroke="#f2838d" stroke-width="5.5" stroke-linejoin="round"/>
<path d="M252.8,1390.6 L255.7,1387.0" fill="none" stroke="#f2858e" stroke-width="5.5" stroke-linejoin="round"/>
<path d="M255.7,1387.0 L258.5,1383.5" fill="none" stroke="#f38790" stroke-width="5.5" stroke-linejoin="round"/>
<path d="M258.5,1383.5 L261.2,1380.1" fill="none" stroke="#f38992" stroke-width="5.5" stroke-linejoin="round"/>
<path d="M261.2,1380.1 L264.5,1376.1" fill="none" stroke="#f38b94" stroke-width="5.5" stroke-linejoin="round"/>
<path d="M264.5,1376.1 L267.5,1372.4" fill="none" stroke="#f38d95" stroke-width="5.5" stroke-linejoin="round"/>
<path d="M267.5,1372.4 L270.3,1369.0" fill="none" stroke="#f48f97" stroke-width="5.5" stroke-linejoin="round"/>
<path d="M270.3,1369.0 L273.1,1365.5" fill="none" stroke="#f49099" stroke-width="5.5" stroke-linejoin="round"/>
<path d="M273.1,1365.5 L276.3,1361.7" fill="none" stroke="#f4929b" stroke-width="5.5" stroke-linejoin="round"/>
<path d="M276.3,1361.7 L279.4,1358.0" fill="none" stroke="#f5949c" stroke-width="5.5" stroke-linejoin="round"/>
<path d="M279.4,1358.0 L281.5,1355.5" fill="none" stroke="#f5969e" stroke-width="5.5" stroke-linejoin="round"/>
<path d="M304.6,1365.5 L307.8,1361.6" fill="none" stroke="#4a54b2" stroke-width="5.5" stroke-linejoin="round"/>
<path d="M307.8,1361.6 L311.0,1357.8" fill="none" stroke="#e74e58" stroke-width="5.5" stroke-linejoin="round"/>
<path d="M311.0,1357.8 L313.9,1354.4" fill="none" stroke="#e8545e" stroke-width="5.5" stroke-linejoin="round"/>
<path d="M313.9,1354.4 L316.9,1350.8" fill="none" stroke="#e95a64" stroke-width="5.5" stroke-linejoin="round"/>
<path d="M316.9,1350.8 L319.8,1347.1" fill="none" stroke="#ea606a" stroke-width="5.5" stroke-linejoin="round"/>
<path d="M319.8,1347.1 L322.5,1343.7" fill="none" stroke="#9696d7" stroke-width="5.5" stroke-linejoin="round"/>
<path d="M322.5,1343.7 L325.5,1339.6" fill="none" stroke="#faf8fc" stroke-width="5.5" stroke-linejoin="round"/>
<path d="M325.5,1339.6 L328.3,1335.4" fill="none" stroke="#ed737c" stroke-width="5.5" stroke-linejoin="round"/>
<path d="M328.3,1335.4 L331.2,1331.3" fill="none" stroke="#4a54b2" stroke-width="5.5" stroke-linejoin="round"/>
<path d="M331.2,1331.3 L333.9,1327.0" fill="none" stroke="#aaaee2" stroke-width="5.5" stroke-linejoin="round"/>
<path d="M333.9,1327.0 L336.7,1322.6" fill="none" stroke="#f0858e" stroke-width="5.5" stroke-linejoin="round"/>
<path d="M336.7,1322.6 L339.0,1319.1" fill="none" stroke="#f18b94" stroke-width="5.5" stroke-linejoin="round"/>
<path d="M339.0,1319.1 L341.6,1314.8" fill="none" stroke="#f2929a" stroke-width="5.5" stroke-linejoin="round"/>
<path d="M341.6,1314.8 L344.0,1310.3" fill="none" stroke="#f398a0" stroke-width="5.5" stroke-linejoin="round"/>
<path d="M344.0,1310.3 L346.5,1305.8" fill="none" stroke="#f49ea6" stroke-width="5.5" stroke-linejoin="round"/>
<path d="M346.5,1305.8 L349.0,1301.2 L351.6,1296.8" fill="none" stroke="#f6aab2" stroke-width="5.5" stroke-linejoin="round"/>
<path d="M351.6,1296.8 L354.3,1292.6" fill="none" stroke="#f4acb6" stroke-width="5.5" stroke-linejoin="round"/>
<path d="M354.3,1292.6 L357.3,1288.5" fill="none" stroke="#f2afba" stroke-width="5.5" stroke-linejoin="round"/>
<path d="M357.3,1288.5 L360.6,1284.5" fill="none" stroke="#efb2be" stroke-width="5.5" stroke-linejoin="round"/>
<path d="M360.6,1284.5 L364.0,1280.7" fill="none" stroke="#edb4c2" stroke-width="5.5" stroke-linejoin="round"/>
<path d="M364.0,1280.7 L367.5,1277.1" fill="none" stroke="#9696d7" stroke-width="5.5" stroke-linejoin="round"/>
<path d="M367.5,1277.1 L371.2,1273.8" fill="none" stroke="#e8b9c9" stroke-width="5.5" stroke-linejoin="round"/>
<path d="M371.2,1273.8 L375.0,1270.8" fill="none" stroke="#e6bccd" stroke-width="5.5" stroke-linejoin="round"/>
<path d="M375.0,1270.8 L379.3,1267.9" fill="none" stroke="#e4bed1" stroke-width="5.5" stroke-linejoin="round"/>
<path d="M379.3,1267.9 L383.2,1265.8" fill="none" stroke="#aaaee2" stroke-width="5.5" stroke-linejoin="round"/>
<path d="M383.2,1265.8 L387.3,1264.0" fill="none" stroke="#e0c3d9" stroke-width="5.5" stroke-linejoin="round"/>
<path d="M387.3,1264.0 L391.4,1262.3" fill="none" stroke="#ddc6dd" stroke-width="5.5" stroke-linejoin="round"/>
<path d="M391.4,1262.3 L396.2,1260.6" fill="none" stroke="#dbc8e0" stroke-width="5.5" stroke-linejoin="round"/>
<path d="M396.2,1260.6 L400.5,1259.2" fill="none" stroke="#d9cae4" stroke-width="5.5" stroke-linejoin="round"/>
<path d="M400.5,1259.2 L405.3,1257.9" fill="none" stroke="#d6cde8" stroke-width="5.5" stroke-linejoin="round"/>
<path d="M405.3,1257.9 L409.8,1257.4" fill="none" stroke="#d4d0ec" stroke-width="5.5" stroke-linejoin="round"/>
<path d="M409.8,1257.4 L414.4,1257.3" fill="none" stroke="#d2d2f0" stroke-width="5.5" stroke-linejoin="round"/>
<path d="M302.1,1362.5 L305.3,1358.6" fill="none" stroke="#4a54b2" stroke-width="5.5" stroke-linejoin="round"/>
<path d="M305.3,1358.6 L308.5,1354.8" fill="none" stroke="#aaaee2" stroke-width="5.5" stroke-linejoin="round"/>
<path d="M308.5,1354.8 L311.4,1351.4" fill="none" stroke="#5059b5" stroke-width="5.5" stroke-linejoin="round"/>
<path d="M311.4,1351.4 L314.4,1347.8" fill="none" stroke="#e64852" stroke-width="5.5" stroke-linejoin="round"/>
<path d="M314.4,1347.8 L317.3,1344.1" fill="none" stroke="#d2d2f0" stroke-width="5.5" stroke-linejoin="round"/>
<path d="M317.3,1344.1 L320.0,1340.7" fill="none" stroke="#5861b9" stroke-width="5.5" stroke-linejoin="round"/>
<path d="M320.0,1340.7 L323.0,1336.6" fill="none" stroke="#5b63ba" stroke-width="5.5" stroke-linejoin="round"/>
<path d="M323.0,1336.6 L325.8,1332.4" fill="none" stroke="#5e66bc" stroke-width="5.5" stroke-linejoin="round"/>
<path d="M325.8,1332.4 L328.7,1328.3" fill="none" stroke="#6168bd" stroke-width="5.5" stroke-linejoin="round"/>
<path d="M328.7,1328.3 L331.4,1324.0" fill="none" stroke="#aaaee2" stroke-width="5.5" stroke-linejoin="round"/>
<path d="M331.4,1324.0 L334.2,1319.6" fill="none" stroke="#676ec0" stroke-width="5.5" stroke-linejoin="round"/>
<path d="M334.2,1319.6 L336.5,1316.1" fill="none" stroke="#e64852" stroke-width="5.5" stroke-linejoin="round"/>
<path d="M336.5,1316.1 L339.1,1311.8" fill="none" stroke="#d2d2f0" stroke-width="5.5" stroke-linejoin="round"/>
<path d="M339.1,1311.8 L341.5,1307.3" fill="none" stroke="#9696d7" stroke-width="5.5" stroke-linejoin="round"/>
<path d="M341.5,1307.3 L344.0,1302.8" fill="none" stroke="#faf8fc" stroke-width="5.5" stroke-linejoin="round"/>
<path d="M344.0,1302.8 L346.5,1298.2" fill="none" stroke="#757ac7" stroke-width="5.5" stroke-linejoin="round"/>
<path d="M346.5,1298.2 L349.1,1293.8" fill="none" stroke="#787dc8" stroke-width="5.5" stroke-linejoin="round"/>
<path d="M349.1,1293.8 L351.8,1289.6" fill="none" stroke="#7e82ca" stroke-width="5.5" stroke-linejoin="round"/>
<path d="M351.8,1289.6 L354.8,1285.5" fill="none" stroke="#8388cd" stroke-width="5.5" stroke-linejoin="round"/>
<path d="M354.8,1285.5 L358.1,1281.5" fill="none" stroke="#e64852" stroke-width="5.5" stroke-linejoin="round"/>
<path d="M358.1,1281.5 L361.5,1277.7" fill="none" stroke="#8e92d2" stroke-width="5.5" stroke-linejoin="round"/>
<path d="M361.5,1277.7 L365.0,1274.1" fill="none" stroke="#9498d4" stroke-width="5.5" stroke-linejoin="round"/>
<path d="M365.0,1274.1 L368.7,1270.8" fill="none" stroke="#9a9dd7" stroke-width="5.5" stroke-linejoin="round"/>
<path d="M368.7,1270.8 L372.5,1267.8" fill="none" stroke="#9fa2da" stroke-width="5.5" stroke-linejoin="round"/>
<path d="M372.5,1267.8 L376.8,1264.9" fill="none" stroke="#a5a8dc" stroke-width="5.5" stroke-linejoin="round"/>
<path d="M376.8,1264.9 L380.7,1262.8" fill="none" stroke="#aaaee2" stroke-width="5.5" stroke-linejoin="round"/>
<path d="M380.7,1262.8 L384.8,1261.0" fill="none" stroke="#b0b2e1" stroke-width="5.5" stroke-linejoin="round"/>
<path d="M384.8,1261.0 L388.9,1259.3" fill="none" stroke="#b6b7e4" stroke-width="5.5" stroke-linejoin="round"/>
<path d="M388.9,1259.3 L393.7,1257.6" fill="none" stroke="#bcbde6" stroke-width="5.5" stroke-linejoin="round"/>
<path d="M393.7,1257.6 L398.0,1256.2" fill="none" stroke="#9696d7" stroke-width="5.5" stroke-linejoin="round"/>
<path d="M398.0,1256.2 L402.8,1254.9" fill="none" stroke="#c7c7eb" stroke-width="5.5" stroke-linejoin="round"/>
<path d="M402.8,1254.9 L407.3,1254.4" fill="none" stroke="#f6aab2" stroke-width="5.5" stroke-linejoin="round"/>
<path d="M407.3,1254.4 L411.9,1254.3" fill="none" stroke="#d2d2f0" stroke-width="5.5" stroke-linejoin="round"/>
<path d="M411.3,1254.3 L415.9,1254.4" fill="none" stroke="#d2d2f0" stroke-width="5.5" stroke-linejoin="round"/>
<path d="M415.9,1254.4 L420.4,1254.9" fill="none" stroke="#cdcdee" stroke-width="5.5" stroke-linejoin="round"/>
<path d="M420.4,1254.9 L424.5,1256.0" fill="none" stroke="#c8c8ec" stroke-width="5.5" stroke-linejoin="round"/>
<path d="M424.5,1256.0 L428.6,1257.3" fill="none" stroke="#c3c3ea" stroke-width="5.5" stroke-linejoin="round"/>
<path d="M428.6,1257.3 L433.3,1259.0" fill="none" stroke="#bfbfe8" stroke-width="5.5" stroke-linejoin="round"/>
<path d="M433.3,1259.0 L437.4,1260.5" fill="none" stroke="#babae5" stroke-width="5.5" stroke-linejoin="round"/>
<path d="M437.4,1260.5 L441.5,1262.3" fill="none" stroke="#faf8fc" stroke-width="5.5" stroke-linejoin="round"/>
<path d="M441.5,1262.3 L445.5,1264.4" fill="none" stroke="#b0b0e1" stroke-width="5.5" stroke-linejoin="round"/>
<path d="M445.5,1264.4 L449.2,1266.6" fill="none" stroke="#ababdf" stroke-width="5.5" stroke-linejoin="round"/>
<path d="M449.2,1266.6 L453.0,1269.5" fill="none" stroke="#a6a6dd" stroke-width="5.5" stroke-linejoin="round"/>
<path d="M453.0,1269.5 L456.7,1272.7" fill="none" stroke="#a2a2db" stroke-width="5.5" stroke-linejoin="round"/>
<path d="M456.7,1272.7 L460.3,1276.2" fill="none" stroke="#e64852" stroke-width="5.5" stroke-linejoin="round"/>
<path d="M460.3,1276.2 L463.8,1279.9" fill="none" stroke="#9898d7" stroke-width="5.5" stroke-linejoin="round"/>
<path d="M463.8,1279.9 L467.1,1283.9" fill="none" stroke="#9696d7" stroke-width="5.5" stroke-linejoin="round"/>
<path d="M467.1,1283.9 L470.3,1288.0" fill="none" stroke="#8e8ed2" stroke-width="5.5" stroke-linejoin="round"/>
<path d="M470.3,1288.0 L473.1,1292.0" fill="none" stroke="#8989d0" stroke-width="5.5" stroke-linejoin="round"/>
<path d="M473.1,1292.0 L475.7,1296.4" fill="none" stroke="#4a54b2" stroke-width="5.5" stroke-linejoin="round"/>
<path d="M475.7,1296.4 L478.2,1300.9" fill="none" stroke="#aaaee2" stroke-width="5.5" stroke-linejoin="round"/>
<path d="M478.2,1300.9 L480.7,1305.5" fill="none" stroke="#f6aab2" stroke-width="5.5" stroke-linejoin="round"/>
<path d="M480.7,1305.5 L483.1,1310.0" fill="none" stroke="#7a7bc9" stroke-width="5.5" stroke-linejoin="round"/>
<path d="M483.1,1310.0 L485.6,1314.3" fill="none" stroke="#7678c7" stroke-width="5.5" stroke-linejoin="round"/>
<path d="M485.6,1314.3 L488.4,1318.8" fill="none" stroke="#9696d7" stroke-width="5.5" stroke-linejoin="round"/>
<path d="M488.4,1318.8 L491.2,1323.1" fill="none" stroke="#6f73c4" stroke-width="5.5" stroke-linejoin="round"/>
<path d="M491.2,1323.1 L494.0,1327.4" fill="none" stroke="#f6aab2" stroke-width="5.5" stroke-linejoin="round"/>
<path d="M494.0,1327.4 L496.8,1331.6" fill="none" stroke="#696dc1" stroke-width="5.5" stroke-linejoin="round"/>
<path d="M496.8,1331.6 L499.7,1335.7" fill="none" stroke="#aaaee2" stroke-width="5.5" stroke-linejoin="round"/>
<path d="M499.7,1335.7 L502.6,1339.8" fill="none" stroke="#f6aab2" stroke-width="5.5" stroke-linejoin="round"/>
<path d="M502.6,1339.8 L505.2,1343.2" fill="none" stroke="#5e65bc" stroke-width="5.5" stroke-linejoin="round"/>
<path d="M505.2,1343.2 L508.1,1346.8" fill="none" stroke="#d2d2f0" stroke-width="5.5" stroke-linejoin="round"/>
<path d="M508.1,1346.8 L511.0,1350.5" fill="none" stroke="#9696d7" stroke-width="5.5" stroke-linejoin="round"/>
<path d="M511.0,1350.5 L514.0,1354.0" fill="none" stroke="#545cb7" stroke-width="5.5" stroke-linejoin="round"/>
<path d="M514.0,1354.0 L517.3,1357.9" fill="none" stroke="#515ab5" stroke-width="5.5" stroke-linejoin="round"/>
<path d="M517.3,1357.9 L520.4,1361.6 L521.1,1362.5" fill="none" stroke="#4a54b2" stroke-width="5.5" stroke-linejoin="round"/>
<path d="M408.8,1257.3 L413.4,1257.4" fill="none" stroke="#d2d2f0" stroke-width="5.5" stroke-linejoin="round"/>
<path d="M413.4,1257.4 L417.9,1257.9" fill="none" stroke="#d4d0ec" stroke-width="5.5" stroke-linejoin="round"/>
<path d="M417.9,1257.9 L422.0,1259.0" fill="none" stroke="#d6cde8" stroke-width="5.5" stroke-linejoin="round"/>
<path d="M422.0,1259.0 L426.1,1260.3" fill="none" stroke="#e64852" stroke-width="5.5" stroke-linejoin="round"/>
<path d="M426.1,1260.3 L430.8,1262.0" fill="none" stroke="#d2d2f0" stroke-width="5.5" stroke-linejoin="round"/>
<path d="M430.8,1262.0 L434.9,1263.5" fill="none" stroke="#ddc6dd" stroke-width="5.5" stroke-linejoin="round"/>
<path d="M434.9,1263.5 L439.0,1265.3" fill="none" stroke="#dfc3d9" stroke-width="5.5" stroke-linejoin="round"/>
<path d="M439.0,1265.3 L443.0,1267.4" fill="none" stroke="#e1c1d6" stroke-width="5.5" stroke-linejoin="round"/>
<path d="M443.0,1267.4 L446.7,1269.6" fill="none" stroke="#e3bfd2" stroke-width="5.5" stroke-linejoin="round"/>
<path d="M446.7,1269.6 L450.5,1272.5" fill="none" stroke="#e6bcce" stroke-width="5.5" stroke-linejoin="round"/>
<path d="M450.5,1272.5 L454.2,1275.7" fill="none" stroke="#f6aab2" stroke-width="5.5" stroke-linejoin="round"/>
<path d="M454.2,1275.7 L457.8,1279.2" fill="none" stroke="#eab7c7" stroke-width="5.5" stroke-linejoin="round"/>
<path d="M457.8,1279.2 L461.3,1282.9" fill="none" stroke="#ecb5c3" stroke-width="5.5" stroke-linejoin="round"/>
<path d="M461.3,1282.9 L464.6,1286.9" fill="none" stroke="#eeb2bf" stroke-width="5.5" stroke-linejoin="round"/>
<path d="M464.6,1286.9 L467.8,1291.0" fill="none" stroke="#f1b0bb" stroke-width="5.5" stroke-linejoin="round"/>
<path d="M467.8,1291.0 L470.6,1295.0" fill="none" stroke="#f3aeb8" stroke-width="5.5" stroke-linejoin="round"/>
<path d="M470.6,1295.0 L473.2,1299.4" fill="none" stroke="#4a54b2" stroke-width="5.5" stroke-linejoin="round"/>
<path d="M473.2,1299.4 L475.7,1303.9" fill="none" stroke="#f6a7af" stroke-width="5.5" stroke-linejoin="round"/>
<path d="M475.7,1303.9 L478.2,1308.5" fill="none" stroke="#f5a1a9" stroke-width="5.5" stroke-linejoin="round"/>
<path d="M478.2,1308.5 L480.6,1313.0" fill="none" stroke="#e64852" stroke-width="5.5" stroke-linejoin="round"/>
<path d="M480.6,1313.0 L483.1,1317.3" fill="none" stroke="#f3959e" stroke-width="5.5" stroke-linejoin="round"/>
<path d="M483.1,1317.3 L485.9,1321.8" fill="none" stroke="#f28f98" stroke-width="5.5" stroke-linejoin="round"/>
<path d="M485.9,1321.8 L488.7,1326.1" fill="none" stroke="#f18992" stroke-width="5.5" stroke-linejoin="round"/>
<path d="M488.7,1326.1 L491.5,1330.4" fill="none" stroke="#f0838c" stroke-width="5.5" stroke-linejoin="round"/>
<path d="M491.5,1330.4 L494.3,1334.6" fill="none" stroke="#4a54b2" stroke-width="5.5" stroke-linejoin="round"/>
<path d="M494.3,1334.6 L497.2,1338.7" fill="none" stroke="#ee7881" stroke-width="5.5" stroke-linejoin="round"/>
<path d="M497.2,1338.7 L500.1,1342.8" fill="none" stroke="#ed727b" stroke-width="5.5" stroke-linejoin="round"/>
<path d="M500.1,1342.8 L502.7,1346.2" fill="none" stroke="#ec6c75" stroke-width="5.5" stroke-linejoin="round"/>
<path d="M502.7,1346.2 L505.6,1349.8" fill="none" stroke="#d2d2f0" stroke-width="5.5" stroke-linejoin="round"/>
<path d="M505.6,1349.8 L508.5,1353.5" fill="none" stroke="#9696d7" stroke-width="5.5" stroke-linejoin="round"/>
<path d="M508.5,1353.5 L511.5,1357.0" fill="none" stroke="#e95a63" stroke-width="5.5" stroke-linejoin="round"/>
<path d="M511.5,1357.0 L514.8,1360.9" fill="none" stroke="#f6aab2" stroke-width="5.5" stroke-linejoin="round"/>
<path d="M514.8,1360.9 L517.9,1364.6" fill="none" stroke="#e74e58" stroke-width="5.5" stroke-linejoin="round"/>
<path d="M517.9,1364.6 L518.6,1365.5" fill="none" stroke="#e64852" stroke-width="5.5" stroke-linejoin="round"/>
<path d="M534.4,1365.3 L539.3,1364.2" fill="none" stroke="#faf8fc" stroke-width="5.5" stroke-linejoin="round"/>
<path d="M539.3,1364.2 L544.1,1363.3" fill="none" stroke="#f4c4c9" stroke-width="5.5" stroke-linejoin="round"/>
<path d="M544.1,1363.3 L548.4,1362.5" fill="none" stroke="#ee8f97" stroke-width="5.5" stroke-linejoin="round"/>
<path d="M548.4,1362.5 L552.5,1361.4" fill="none" stroke="#e85b64" stroke-width="5.5" stroke-linejoin="round"/>
<path d="M552.5,1361.4 L557.2,1360.3 L561.7,1359.9 L567.3,1360.4 L572.1,1361.2 L576.6,1362.0 L581.5,1363.1 L586.6,1364.4 L590.8,1365.5 L595.0,1366.9 L599.2,1368.5 L603.4,1370.2 L607.4,1372.2 L611.6,1374.6 L615.5,1377.2 L619.5,1380.1 L623.4,1383.2 L627.4,1386.5 L631.4,1390.0 L634.5,1392.7 L637.7,1395.5 L640.8,1398.3 L644.8,1401.7 L648.7,1405.0 L652.8,1408.2 L656.1,1411.0 L659.5,1413.8 L663.0,1416.7 L666.5,1419.5 L669.9,1422.4 L673.3,1425.2 L676.6,1427.9 L680.6,1431.1" fill="none" stroke="#e64852" stroke-width="5.5" stroke-linejoin="round"/>
<path d="M680.6,1431.1 L684.3,1433.9" fill="none" stroke="#e64b55" stroke-width="5.5" stroke-linejoin="round"/>
<path d="M684.3,1433.9 L687.7,1436.5" fill="none" stroke="#e8545e" stroke-width="5.5" stroke-linejoin="round"/>
<path d="M687.7,1436.5 L692.3,1439.5" fill="none" stroke="#ea5d67" stroke-width="5.5" stroke-linejoin="round"/>
<path d="M692.3,1439.5 L696.6,1441.7" fill="none" stroke="#eb6670" stroke-width="5.5" stroke-linejoin="round"/>
<path d="M696.6,1441.7 L701.0,1443.0" fill="none" stroke="#ed707a" stroke-width="5.5" stroke-linejoin="round"/>
<path d="M701.0,1443.0 L705.5,1443.2" fill="none" stroke="#ee7983" stroke-width="5.5" stroke-linejoin="round"/>
<path d="M705.5,1443.2 L707.1,1443.5" fill="none" stroke="#f0828c" stroke-width="5.5" stroke-linejoin="round"/>
<path d="M526.2,1365.3 L530.8,1363.2" fill="none" stroke="#4a54b2" stroke-width="5.5" stroke-linejoin="round"/>
<path d="M530.8,1363.2 L535.1,1361.5" fill="none" stroke="#4b55b3" stroke-width="5.5" stroke-linejoin="round"/>
<path d="M535.1,1361.5 L540.1,1360.8" fill="none" stroke="#4c56b3" stroke-width="5.5" stroke-linejoin="round"/>
<path d="M540.1,1360.8 L544.8,1361.9" fill="none" stroke="#4e57b4" stroke-width="5.5" stroke-linejoin="round"/>
<path d="M544.8,1361.9 L549.4,1363.5" fill="none" stroke="#4f58b5" stroke-width="5.5" stroke-linejoin="round"/>
<path d="M549.4,1363.5 L553.5,1365.5" fill="none" stroke="#5059b6" stroke-width="5.5" stroke-linejoin="round"/>
<path d="M553.5,1365.5 L557.9,1368.2" fill="none" stroke="#515ab6" stroke-width="5.5" stroke-linejoin="round"/>
<path d="M557.9,1368.2 L561.5,1371.1" fill="none" stroke="#535bb7" stroke-width="5.5" stroke-linejoin="round"/>
<path d="M561.5,1371.1 L565.3,1374.7" fill="none" stroke="#545bb8" stroke-width="5.5" stroke-linejoin="round"/>
<path d="M565.3,1374.7 L568.3,1378.0" fill="none" stroke="#555cb8" stroke-width="5.5" stroke-linejoin="round"/>
<path d="M568.3,1378.0 L571.3,1381.8" fill="none" stroke="#565db9" stroke-width="5.5" stroke-linejoin="round"/>
<path d="M571.3,1381.8 L574.0,1385.4" fill="none" stroke="#585eba" stroke-width="5.5" stroke-linejoin="round"/>
<path d="M574.0,1385.4 L576.7,1389.3" fill="none" stroke="#595fba" stroke-width="5.5" stroke-linejoin="round"/>
<path d="M576.7,1389.3 L579.5,1393.4" fill="none" stroke="#5a60bb" stroke-width="5.5" stroke-linejoin="round"/>
<path d="M579.5,1393.4 L582.4,1397.8" fill="none" stroke="#5b61bc" stroke-width="5.5" stroke-linejoin="round"/>
<path d="M582.4,1397.8 L584.7,1401.4" fill="none" stroke="#5c62bd" stroke-width="5.5" stroke-linejoin="round"/>
<path d="M584.7,1401.4 L587.0,1405.1" fill="none" stroke="#5e63bd" stroke-width="5.5" stroke-linejoin="round"/>
<path d="M587.0,1405.1 L589.3,1408.8" fill="none" stroke="#5f64be" stroke-width="5.5" stroke-linejoin="round"/>
<path d="M589.3,1408.8 L591.6,1412.5" fill="none" stroke="#6166bf" stroke-width="5.5" stroke-linejoin="round"/>
<path d="M591.6,1412.5 L593.9,1416.3" fill="none" stroke="#6469c1" stroke-width="5.5" stroke-linejoin="round"/>
<path d="M593.9,1416.3 L596.2,1419.9" fill="none" stroke="#676cc2" stroke-width="5.5" stroke-linejoin="round"/>
<path d="M596.2,1419.9 L598.5,1423.5" fill="none" stroke="#696ec4" stroke-width="5.5" stroke-linejoin="round"/>
<path d="M598.5,1423.5 L601.3,1427.8" fill="none" stroke="#6c71c5" stroke-width="5.5" stroke-linejoin="round"/>
<path d="M601.3,1427.8 L603.9,1432.1" fill="none" stroke="#6f74c7" stroke-width="5.5" stroke-linejoin="round"/>
<path d="M603.9,1432.1 L606.6,1436.3" fill="none" stroke="#7176c8" stroke-width="5.5" stroke-linejoin="round"/>
<path d="M606.6,1436.3 L609.2,1440.7" fill="none" stroke="#7479ca" stroke-width="5.5" stroke-linejoin="round"/>
<path d="M609.2,1440.7 L611.9,1445.0" fill="none" stroke="#767bcb" stroke-width="5.5" stroke-linejoin="round"/>
<path d="M611.9,1445.0 L614.5,1449.4" fill="none" stroke="#797ecc" stroke-width="5.5" stroke-linejoin="round"/>
<path d="M614.5,1449.4 L617.2,1453.8" fill="none" stroke="#7c81ce" stroke-width="5.5" stroke-linejoin="round"/>
<path d="M617.2,1453.8 L619.8,1458.2" fill="none" stroke="#7e83cf" stroke-width="5.5" stroke-linejoin="round"/>
<path d="M619.8,1458.2 L622.5,1462.6" fill="none" stroke="#8186d1" stroke-width="5.5" stroke-linejoin="round"/>
<path d="M622.5,1462.6 L625.1,1466.9" fill="none" stroke="#8489d2" stroke-width="5.5" stroke-linejoin="round"/>
<path d="M625.1,1466.9 L627.8,1471.2" fill="none" stroke="#868bd4" stroke-width="5.5" stroke-linejoin="round"/>
<path d="M627.8,1471.2 L630.4,1475.5" fill="none" stroke="#898ed5" stroke-width="5.5" stroke-linejoin="round"/>
<path d="M630.4,1475.5 L633.1,1479.6" fill="none" stroke="#8b90d7" stroke-width="5.5" stroke-linejoin="round"/>
<path d="M633.1,1479.6 L635.9,1484.0" fill="none" stroke="#9196d9" stroke-width="5.5" stroke-linejoin="round"/>
<path d="M635.9,1484.0 L638.6,1488.5" fill="none" stroke="#979bdb" stroke-width="5.5" stroke-linejoin="round"/>
<path d="M638.6,1488.5 L641.3,1492.9" fill="none" stroke="#9da1dd" stroke-width="5.5" stroke-linejoin="round"/>
<path d="M641.3,1492.9 L643.9,1497.4" fill="none" stroke="#a3a7df" stroke-width="5.5" stroke-linejoin="round"/>
<path d="M643.9,1497.4 L646.6,1501.9" fill="none" stroke="#a9ace2" stroke-width="5.5" stroke-linejoin="round"/>
<path d="M646.6,1501.9 L649.3,1506.2" fill="none" stroke="#b0b2e4" stroke-width="5.5" stroke-linejoin="round"/>
<path d="M649.3,1506.2 L652.0,1510.5" fill="none" stroke="#b6b8e6" stroke-width="5.5" stroke-linejoin="round"/>
<path d="M652.0,1510.5 L654.8,1514.7" fill="none" stroke="#bcbde8" stroke-width="5.5" stroke-linejoin="round"/>
<path d="M654.8,1514.7 L657.6,1518.7" fill="none" stroke="#c2c3ea" stroke-width="5.5" stroke-linejoin="round"/>
<path d="M657.6,1518.7 L660.5,1522.6" fill="none" stroke="#c8c9ec" stroke-width="5.5" stroke-linejoin="round"/>
<path d="M660.5,1522.6 L663.5,1526.2" fill="none" stroke="#cecfef" stroke-width="5.5" stroke-linejoin="round"/>
<path d="M663.5,1526.2 L666.7,1529.8" fill="none" stroke="#d5d5f1" stroke-width="5.5" stroke-linejoin="round"/>
<path d="M666.7,1529.8 L670.0,1532.9" fill="none" stroke="#dcdbf3" stroke-width="5.5" stroke-linejoin="round"/>
<path d="M670.0,1532.9 L673.4,1535.9" fill="none" stroke="#e3e2f5" stroke-width="5.5" stroke-linejoin="round"/>
<path d="M673.4,1535.9 L677.1,1538.8" fill="none" stroke="#eae9f7" stroke-width="5.5" stroke-linejoin="round"/>
<path d="M677.1,1538.8 L680.9,1541.6" fill="none" stroke="#f1eff9" stroke-width="5.5" stroke-linejoin="round"/>
<path d="M680.9,1541.6 L684.8,1544.3" fill="none" stroke="#f8f6fb" stroke-width="5.5" stroke-linejoin="round"/>
<path d="M684.8,1544.3 L688.6,1546.9" fill="none" stroke="#faeef3" stroke-width="5.5" stroke-linejoin="round"/>
<path d="M688.6,1546.9 L692.3,1549.3" fill="none" stroke="#f9e1e6" stroke-width="5.5" stroke-linejoin="round"/>
<path d="M692.3,1549.3 L696.7,1552.0" fill="none" stroke="#f8d3d9" stroke-width="5.5" stroke-linejoin="round"/>
<path d="M696.7,1552.0 L700.7,1554.4" fill="none" stroke="#f7c5cc" stroke-width="5.5" stroke-linejoin="round"/>
<path d="M700.7,1554.4 L704.6,1556.9" fill="none" stroke="#f7b8bf" stroke-width="5.5" stroke-linejoin="round"/>
<path d="M704.6,1556.9 L707.1,1558.6" fill="none" stroke="#f6aab2" stroke-width="5.5" stroke-linejoin="round"/>
<path d="M328.8,1550.4 L332.6,1552.9 L336.2,1555.3" fill="none" stroke="#faf8fc" stroke-width="5.5" stroke-linejoin="round"/>
<path d="M336.2,1555.3 L340.5,1557.2 L345.3,1557.8 L350.1,1556.5 L354.6,1554.4 L358.4,1552.4 L362.4,1550.4 L366.5,1548.8 L370.8,1547.7 L375.8,1547.6 L380.5,1548.3 L385.5,1549.5 L389.7,1550.8 L393.8,1552.3 L398.0,1553.8 L402.0,1555.3 L406.7,1557.1 L411.1,1558.6 L415.4,1559.9 L420.2,1561.0 L424.5,1562.1 L428.8,1563.5 L433.6,1565.7 L437.9,1568.1 L441.7,1570.5 L445.7,1573.2 L449.7,1576.2 L453.9,1579.4 L457.3,1582.0 L460.8,1584.7 L464.3,1587.3 L467.7,1590.0 L471.7,1593.0 L475.5,1596.2 L479.3,1599.6 L483.2,1603.0 L487.1,1606.5 L491.2,1609.8 L495.3,1613.0 L499.5,1615.9 L503.8,1618.5 L508.3,1620.7 L512.8,1622.7 L517.5,1624.3 L522.2,1625.8 L527.0,1627.1 L531.9,1628.3 L536.9,1629.3 L541.1,1630.1 L545.4,1630.8 L549.7,1631.6 L554.6,1632.3 L559.4,1633.0 L564.5,1633.5 L569.7,1634.0 L574.0,1634.3 L578.3,1634.6 L582.6,1634.9 L586.8,1635.2 L591.0,1635.5 L596.2,1635.8 L601.1,1636.1" fill="none" stroke="#e64852" stroke-width="5.5" stroke-linejoin="round"/>
<path d="M601.1,1636.1 L605.8,1636.5" fill="none" stroke="#f6aab2" stroke-width="5.5" stroke-linejoin="round"/>
<path d="M605.8,1636.5 L610.8,1636.9 L615.5,1637.3 L620.0,1637.7 L624.3,1638.1 L628.5,1638.5 L633.5,1639.0" fill="none" stroke="#e64852" stroke-width="5.5" stroke-linejoin="round"/>
<path d="M633.5,1639.0 L638.3,1639.5" fill="none" stroke="#f6aab2" stroke-width="5.5" stroke-linejoin="round"/>
<path d="M638.3,1639.5 L642.8,1640.0 L647.1,1640.5 L652.0,1641.2" fill="none" stroke="#e64852" stroke-width="5.5" stroke-linejoin="round"/>
<path d="M652.0,1641.2 L656.4,1642.0 L661.1,1643.2 L665.4,1644.3 L670.0,1645.4 L674.2,1646.2" fill="none" stroke="#4a54b2" stroke-width="5.5" stroke-linejoin="round"/>
<path d="M674.2,1646.2 L679.1,1646.9 L683.5,1647.5 L688.1,1648.1" fill="none" stroke="#aaaee2" stroke-width="5.5" stroke-linejoin="round"/>
<path d="M688.1,1648.1 L692.8,1648.6 L697.2,1649.1 L702.1,1649.7 L706.6,1650.2 L707.1,1650.3" fill="none" stroke="#4a54b2" stroke-width="5.5" stroke-linejoin="round"/>
<path d="M116.1,1650.3 L121.1,1649.7" fill="none" stroke="#faf8fc" stroke-width="5.5" stroke-linejoin="round"/>
<path d="M121.1,1649.7 L126.0,1649.1 L130.4,1648.6 L135.1,1648.1 L139.7,1647.5 L144.1,1646.9 L149.0,1646.2 L153.2,1645.4" fill="none" stroke="#e64852" stroke-width="5.5" stroke-linejoin="round"/>
<path d="M153.2,1645.4 L157.8,1644.3 L162.1,1643.2" fill="none" stroke="#f6aab2" stroke-width="5.5" stroke-linejoin="round"/>
<path d="M162.1,1643.2 L166.8,1642.0" fill="none" stroke="#faf8fc" stroke-width="5.5" stroke-linejoin="round"/>
<path d="M166.8,1642.0 L171.2,1641.2 L176.1,1640.5" fill="none" stroke="#aaaee2" stroke-width="5.5" stroke-linejoin="round"/>
<path d="M176.1,1640.5 L180.4,1640.0 L184.9,1639.5 L189.7,1639.0 L194.7,1638.5 L198.9,1638.1 L203.2,1637.7 L207.7,1637.3 L212.4,1636.9 L217.4,1636.5 L222.1,1636.1 L227.0,1635.8 L232.2,1635.5 L236.4,1635.2" fill="none" stroke="#4a54b2" stroke-width="5.5" stroke-linejoin="round"/>
<path d="M236.4,1635.2 L240.6,1634.9" fill="none" stroke="#aaaee2" stroke-width="5.5" stroke-linejoin="round"/>
<path d="M240.6,1634.9 L244.9,1634.6 L249.2,1634.3 L253.5,1634.0 L257.7,1633.6 L262.8,1633.1 L267.7,1632.5 L272.3,1631.8 L276.8,1631.0 L281.0,1630.3 L285.2,1629.5 L290.3,1628.5 L295.3,1627.3" fill="none" stroke="#4a54b2" stroke-width="5.5" stroke-linejoin="round"/>
<path d="M295.3,1627.3 L300.1,1626.1" fill="none" stroke="#aaaee2" stroke-width="5.5" stroke-linejoin="round"/>
<path d="M300.1,1626.1 L304.8,1624.6 L309.4,1623.0 L314.0,1621.1 L318.5,1619.0 L322.8,1616.5 L327.1,1613.6 L331.2,1610.5 L335.3,1607.1 L339.2,1603.7 L343.1,1600.3 L347.0,1596.9 L350.8,1593.7" fill="none" stroke="#4a54b2" stroke-width="5.5" stroke-linejoin="round"/>
<path d="M350.8,1593.7 L354.6,1590.7" fill="none" stroke="#aaaee2" stroke-width="5.5" stroke-linejoin="round"/>
<path d="M354.6,1590.7 L358.1,1588.0 L361.6,1585.3 L365.0,1582.6 L368.4,1580.0 L371.8,1577.4 L375.9,1574.4 L379.9,1571.6 L383.8,1569.0 L387.5,1566.8 L391.6,1564.7 L396.1,1562.9 L400.4,1561.7" fill="none" stroke="#4a54b2" stroke-width="5.5" stroke-linejoin="round"/>
<path d="M400.4,1561.7 L404.8,1560.6" fill="none" stroke="#aaaee2" stroke-width="5.5" stroke-linejoin="round"/>
<path d="M404.8,1560.6 L409.9,1559.3 L414.7,1557.7 L419.3,1556.1 L423.2,1554.6 L427.3,1553.0 L431.4,1551.5 L435.6,1550.1 L439.7,1549.0 L444.6,1547.9 L449.2,1547.5 L453.5,1547.9 L457.7,1549.2" fill="none" stroke="#4a54b2" stroke-width="5.5" stroke-linejoin="round"/>
<path d="M457.7,1549.2 L461.9,1550.9" fill="none" stroke="#aaaee2" stroke-width="5.5" stroke-linejoin="round"/>
<path d="M461.9,1550.9 L465.8,1552.9 L469.6,1554.9 L473.9,1556.8 L479.2,1557.8 L483.9,1556.8 L488.0,1554.7 L492.1,1551.8 L494.4,1550.4" fill="none" stroke="#4a54b2" stroke-width="5.5" stroke-linejoin="round"/>
<path d="M328.8,1550.4 L325.6,1553.3" fill="none" stroke="#faf8fc" stroke-width="5.5" stroke-linejoin="round"/>
<path d="M325.6,1553.3 L321.9,1556.6" fill="none" stroke="#f6aab2" stroke-width="5.5" stroke-linejoin="round"/>
<path d="M321.9,1556.6 L318.5,1559.8" fill="none" stroke="#d2d2f0" stroke-width="5.5" stroke-linejoin="round"/>
<path d="M318.5,1559.8 L315.0,1563.3" fill="none" stroke="#f6aab2" stroke-width="5.5" stroke-linejoin="round"/>
<path d="M315.0,1563.3 L311.8,1566.6" fill="none" stroke="#faf8fc" stroke-width="5.5" stroke-linejoin="round"/>
<path d="M311.8,1566.6 L308.8,1570.1" fill="none" stroke="#f6aab2" stroke-width="5.5" stroke-linejoin="round"/>
<path d="M308.8,1570.1 L305.6,1573.8" fill="none" stroke="#aaaee2" stroke-width="5.5" stroke-linejoin="round"/>
<path d="M305.6,1573.8 L302.3,1577.8" fill="none" stroke="#f07882" stroke-width="5.5" stroke-linejoin="round"/>
<path d="M302.3,1577.8 L299.0,1581.8" fill="none" stroke="#faf8fc" stroke-width="5.5" stroke-linejoin="round"/>
<path d="M299.0,1581.8 L296.4,1585.1" fill="none" stroke="#d2d2f0" stroke-width="5.5" stroke-linejoin="round"/>
<path d="M296.4,1585.1 L293.1,1589.1" fill="none" stroke="#faf8fc" stroke-width="5.5" stroke-linejoin="round"/>
<path d="M293.1,1589.1 L289.9,1593.0" fill="none" stroke="#f6aab2" stroke-width="5.5" stroke-linejoin="round"/>
<path d="M289.9,1593.0 L286.6,1597.1" fill="none" stroke="#d2d2f0" stroke-width="5.5" stroke-linejoin="round"/>
<path d="M286.6,1597.1 L283.9,1600.5" fill="none" stroke="#f6aab2" stroke-width="5.5" stroke-linejoin="round"/>
<path d="M283.9,1600.5 L281.3,1603.8" fill="none" stroke="#faf8fc" stroke-width="5.5" stroke-linejoin="round"/>
<path d="M281.3,1603.8 L278.0,1607.8" fill="none" stroke="#f6aab2" stroke-width="5.5" stroke-linejoin="round"/>
<path d="M278.0,1607.8 L274.9,1611.5" fill="none" stroke="#aaaee2" stroke-width="5.5" stroke-linejoin="round"/>
<path d="M274.9,1611.5 L271.8,1614.7" fill="none" stroke="#f07882" stroke-width="5.5" stroke-linejoin="round"/>
<path d="M271.8,1614.7 L268.6,1617.9" fill="none" stroke="#faf8fc" stroke-width="5.5" stroke-linejoin="round"/>
<path d="M268.6,1617.9 L265.2,1620.8" fill="none" stroke="#d2d2f0" stroke-width="5.5" stroke-linejoin="round"/>
<path d="M265.2,1620.8 L261.2,1623.8" fill="none" stroke="#faf8fc" stroke-width="5.5" stroke-linejoin="round"/>
<path d="M261.2,1623.8 L257.2,1626.3" fill="none" stroke="#f6aab2" stroke-width="5.5" stroke-linejoin="round"/>
<path d="M257.2,1626.3 L252.8,1628.7" fill="none" stroke="#d2d2f0" stroke-width="5.5" stroke-linejoin="round"/>
<path d="M252.8,1628.7 L248.3,1630.5" fill="none" stroke="#f6aab2" stroke-width="5.5" stroke-linejoin="round"/>
<path d="M248.3,1630.5 L244.0,1632.0" fill="none" stroke="#faf8fc" stroke-width="5.5" stroke-linejoin="round"/>
<path d="M244.0,1632.0 L239.5,1633.4" fill="none" stroke="#f6aab2" stroke-width="5.5" stroke-linejoin="round"/>
<path d="M239.5,1633.4 L238.4,1633.8" fill="none" stroke="#aaaee2" stroke-width="5.5" stroke-linejoin="round"/>
<path d="M494.4,1550.4 L497.6,1553.3" fill="none" stroke="#aaaee2" stroke-width="5.5" stroke-linejoin="round"/>
<path d="M497.6,1553.3 L501.3,1556.6" fill="none" stroke="#faf8fc" stroke-width="5.5" stroke-linejoin="round"/>
<path d="M501.3,1556.6 L504.7,1559.8" fill="none" stroke="#d2d2f0" stroke-width="5.5" stroke-linejoin="round"/>
<path d="M504.7,1559.8 L508.2,1563.3" fill="none" stroke="#aaaee2" stroke-width="5.5" stroke-linejoin="round"/>
<path d="M508.2,1563.3 L511.4,1566.6" fill="none" stroke="#faf8fc" stroke-width="5.5" stroke-linejoin="round"/>
<path d="M511.4,1566.6 L514.4,1570.1" fill="none" stroke="#f6aab2" stroke-width="5.5" stroke-linejoin="round"/>
<path d="M514.4,1570.1 L517.6,1573.8" fill="none" stroke="#6e73c8" stroke-width="5.5" stroke-linejoin="round"/>
<path d="M517.6,1573.8 L520.9,1577.8" fill="none" stroke="#d2d2f0" stroke-width="5.5" stroke-linejoin="round"/>
<path d="M520.9,1577.8 L524.2,1581.8" fill="none" stroke="#faf8fc" stroke-width="5.5" stroke-linejoin="round"/>
<path d="M524.2,1581.8 L526.8,1585.1 L530.1,1589.1" fill="none" stroke="#aaaee2" stroke-width="5.5" stroke-linejoin="round"/>
<path d="M530.1,1589.1 L533.3,1593.0" fill="none" stroke="#faf8fc" stroke-width="5.5" stroke-linejoin="round"/>
<path d="M533.3,1593.0 L536.6,1597.1" fill="none" stroke="#d2d2f0" stroke-width="5.5" stroke-linejoin="round"/>
<path d="M536.6,1597.1 L539.3,1600.5" fill="none" stroke="#aaaee2" stroke-width="5.5" stroke-linejoin="round"/>
<path d="M539.3,1600.5 L541.9,1603.8" fill="none" stroke="#faf8fc" stroke-width="5.5" stroke-linejoin="round"/>
<path d="M541.9,1603.8 L545.2,1607.8" fill="none" stroke="#f6aab2" stroke-width="5.5" stroke-linejoin="round"/>
<path d="M545.2,1607.8 L548.3,1611.5" fill="none" stroke="#6e73c8" stroke-width="5.5" stroke-linejoin="round"/>
<path d="M548.3,1611.5 L551.4,1614.7" fill="none" stroke="#d2d2f0" stroke-width="5.5" stroke-linejoin="round"/>
<path d="M551.4,1614.7 L554.6,1617.9" fill="none" stroke="#faf8fc" stroke-width="5.5" stroke-linejoin="round"/>
<path d="M554.6,1617.9 L558.0,1620.8 L562.0,1623.8" fill="none" stroke="#aaaee2" stroke-width="5.5" stroke-linejoin="round"/>
<path d="M562.0,1623.8 L566.0,1626.3" fill="none" stroke="#faf8fc" stroke-width="5.5" stroke-linejoin="round"/>
<path d="M566.0,1626.3 L570.4,1628.7" fill="none" stroke="#d2d2f0" stroke-width="5.5" stroke-linejoin="round"/>
<path d="M570.4,1628.7 L574.9,1630.5" fill="none" stroke="#aaaee2" stroke-width="5.5" stroke-linejoin="round"/>
<path d="M574.9,1630.5 L579.2,1632.0" fill="none" stroke="#faf8fc" stroke-width="5.5" stroke-linejoin="round"/>
<path d="M579.2,1632.0 L583.7,1633.4" fill="none" stroke="#f6aab2" stroke-width="5.5" stroke-linejoin="round"/>
<path d="M583.7,1633.4 L584.8,1633.8" fill="none" stroke="#6e73c8" stroke-width="5.5" stroke-linejoin="round"/>
<path d="M115.0,1651.5 L119.8,1652.4" fill="none" stroke="#d2d2f0" stroke-width="5.5" stroke-linejoin="round"/>
<path d="M119.8,1652.4 L124.5,1653.3" fill="none" stroke="#faf8fc" stroke-width="5.5" stroke-linejoin="round"/>
<path d="M124.5,1653.3 L128.9,1654.2" fill="none" stroke="#aaaee2" stroke-width="5.5" stroke-linejoin="round"/>
<path d="M128.9,1654.2 L133.6,1655.1" fill="none" stroke="#faf8fc" stroke-width="5.5" stroke-linejoin="round"/>
<path d="M133.6,1655.1 L138.4,1656.2" fill="none" stroke="#f6aab2" stroke-width="5.5" stroke-linejoin="round"/>
<path d="M138.4,1656.2 L143.1,1657.3" fill="none" stroke="#faf8fc" stroke-width="5.5" stroke-linejoin="round"/>
<path d="M143.1,1657.3 L147.9,1658.8" fill="none" stroke="#d2d2f0" stroke-width="5.5" stroke-linejoin="round"/>
<path d="M147.9,1658.8 L152.1,1660.1" fill="none" stroke="#faf8fc" stroke-width="5.5" stroke-linejoin="round"/>
<path d="M152.1,1660.1 L156.3,1661.5" fill="none" stroke="#aaaee2" stroke-width="5.5" stroke-linejoin="round"/>
<path d="M156.3,1661.5 L160.6,1662.8" fill="none" stroke="#faf8fc" stroke-width="5.5" stroke-linejoin="round"/>
<path d="M160.6,1662.8 L164.8,1663.9" fill="none" stroke="#f6aab2" stroke-width="5.5" stroke-linejoin="round"/>
<path d="M164.8,1663.9 L169.8,1665.0" fill="none" stroke="#faf8fc" stroke-width="5.5" stroke-linejoin="round"/>
<path d="M169.8,1665.0 L174.3,1665.5" fill="none" stroke="#d2d2f0" stroke-width="5.5" stroke-linejoin="round"/>
<path d="M174.3,1665.5 L179.0,1665.1" fill="none" stroke="#faf8fc" stroke-width="5.5" stroke-linejoin="round"/>
<path d="M179.0,1665.1 L183.1,1663.6" fill="none" stroke="#aaaee2" stroke-width="5.5" stroke-linejoin="round"/>
<path d="M183.1,1663.6 L186.6,1661.3" fill="none" stroke="#faf8fc" stroke-width="5.5" stroke-linejoin="round"/>
<path d="M186.6,1661.3 L189.8,1658.6" fill="none" stroke="#f6aab2" stroke-width="5.5" stroke-linejoin="round"/>
<path d="M189.8,1658.6 L193.5,1654.9" fill="none" stroke="#faf8fc" stroke-width="5.5" stroke-linejoin="round"/>
<path d="M193.5,1654.9 L197.2,1651.5" fill="none" stroke="#d2d2f0" stroke-width="5.5" stroke-linejoin="round"/>
<path d="M197.2,1651.5 L200.7,1648.7" fill="none" stroke="#faf8fc" stroke-width="5.5" stroke-linejoin="round"/>
<path d="M200.7,1648.7 L204.2,1645.6" fill="none" stroke="#aaaee2" stroke-width="5.5" stroke-linejoin="round"/>
<path d="M204.2,1645.6 L207.6,1642.5" fill="none" stroke="#faf8fc" stroke-width="5.5" stroke-linejoin="round"/>
<path d="M207.6,1642.5 L211.1,1639.1" fill="none" stroke="#f6aab2" stroke-width="5.5" stroke-linejoin="round"/>
<path d="M211.1,1639.1 L213.7,1636.7" fill="none" stroke="#faf8fc" stroke-width="5.5" stroke-linejoin="round"/>
<path d="M708.2,1651.5 L703.4,1652.4" fill="none" stroke="#d2d2f0" stroke-width="5.5" stroke-linejoin="round"/>
<path d="M703.4,1652.4 L698.7,1653.3" fill="none" stroke="#faf8fc" stroke-width="5.5" stroke-linejoin="round"/>
<path d="M698.7,1653.3 L694.3,1654.2" fill="none" stroke="#f6aab2" stroke-width="5.5" stroke-linejoin="round"/>
<path d="M694.3,1654.2 L689.6,1655.1" fill="none" stroke="#faf8fc" stroke-width="5.5" stroke-linejoin="round"/>
<path d="M689.6,1655.1 L684.8,1656.2" fill="none" stroke="#aaaee2" stroke-width="5.5" stroke-linejoin="round"/>
<path d="M684.8,1656.2 L680.1,1657.3" fill="none" stroke="#faf8fc" stroke-width="5.5" stroke-linejoin="round"/>
<path d="M680.1,1657.3 L675.3,1658.8" fill="none" stroke="#d2d2f0" stroke-width="5.5" stroke-linejoin="round"/>
<path d="M675.3,1658.8 L671.1,1660.1" fill="none" stroke="#faf8fc" stroke-width="5.5" stroke-linejoin="round"/>
<path d="M671.1,1660.1 L666.9,1661.5" fill="none" stroke="#f6aab2" stroke-width="5.5" stroke-linejoin="round"/>
<path d="M666.9,1661.5 L662.6,1662.8" fill="none" stroke="#faf8fc" stroke-width="5.5" stroke-linejoin="round"/>
<path d="M662.6,1662.8 L658.4,1663.9" fill="none" stroke="#aaaee2" stroke-width="5.5" stroke-linejoin="round"/>
<path d="M658.4,1663.9 L653.4,1665.0" fill="none" stroke="#faf8fc" stroke-width="5.5" stroke-linejoin="round"/>
<path d="M653.4,1665.0 L648.9,1665.5" fill="none" stroke="#d2d2f0" stroke-width="5.5" stroke-linejoin="round"/>
<path d="M648.9,1665.5 L644.2,1665.1" fill="none" stroke="#faf8fc" stroke-width="5.5" stroke-linejoin="round"/>
<path d="M644.2,1665.1 L640.1,1663.6" fill="none" stroke="#f6aab2" stroke-width="5.5" stroke-linejoin="round"/>
<path d="M640.1,1663.6 L636.6,1661.3" fill="none" stroke="#faf8fc" stroke-width="5.5" stroke-linejoin="round"/>
<path d="M636.6,1661.3 L633.4,1658.6" fill="none" stroke="#aaaee2" stroke-width="5.5" stroke-linejoin="round"/>
<path d="M633.4,1658.6 L629.7,1654.9" fill="none" stroke="#faf8fc" stroke-width="5.5" stroke-linejoin="round"/>
<path d="M629.7,1654.9 L626.0,1651.5" fill="none" stroke="#d2d2f0" stroke-width="5.5" stroke-linejoin="round"/>
<path d="M626.0,1651.5 L622.5,1648.7" fill="none" stroke="#faf8fc" stroke-width="5.5" stroke-linejoin="round"/>
<path d="M622.5,1648.7 L619.0,1645.6" fill="none" stroke="#f6aab2" stroke-width="5.5" stroke-linejoin="round"/>
<path d="M619.0,1645.6 L615.6,1642.5" fill="none" stroke="#faf8fc" stroke-width="5.5" stroke-linejoin="round"/>
<path d="M615.6,1642.5 L612.1,1639.1" fill="none" stroke="#aaaee2" stroke-width="5.5" stroke-linejoin="round"/>
<path d="M612.1,1639.1 L609.5,1636.7" fill="none" stroke="#faf8fc" stroke-width="5.5" stroke-linejoin="round"/>
<path d="M115.0,1644.9 L119.6,1644.6 L124.0,1644.3" fill="none" stroke="#e64852" stroke-width="5.5" stroke-linejoin="round"/>
<path d="M124.0,1644.3 L129.1,1644.0" fill="none" stroke="#f6aab2" stroke-width="5.5" stroke-linejoin="round"/>
<path d="M129.1,1644.0 L133.6,1643.7" fill="none" stroke="#e64852" stroke-width="5.5" stroke-linejoin="round"/>
<path d="M133.6,1643.7 L138.2,1643.4" fill="none" stroke="#faf8fc" stroke-width="5.5" stroke-linejoin="round"/>
<path d="M138.2,1643.4 L142.8,1643.1 L147.5,1642.7 L151.9,1642.4" fill="none" stroke="#e64852" stroke-width="5.5" stroke-linejoin="round"/>
<path d="M151.9,1642.4 L156.1,1642.1" fill="none" stroke="#f6aab2" stroke-width="5.5" stroke-linejoin="round"/>
<path d="M156.1,1642.1 L160.3,1641.7" fill="none" stroke="#e64852" stroke-width="5.5" stroke-linejoin="round"/>
<path d="M160.3,1641.7 L164.8,1641.3" fill="none" stroke="#faf8fc" stroke-width="5.5" stroke-linejoin="round"/>
<path d="M164.8,1641.3 L169.4,1640.8 L174.1,1640.3 L178.7,1639.9" fill="none" stroke="#e64852" stroke-width="5.5" stroke-linejoin="round"/>
<path d="M178.7,1639.9 L183.1,1639.4" fill="none" stroke="#f6aab2" stroke-width="5.5" stroke-linejoin="round"/>
<path d="M183.1,1639.4 L188.2,1638.9" fill="none" stroke="#e64852" stroke-width="5.5" stroke-linejoin="round"/>
<path d="M188.2,1638.9 L192.6,1638.4" fill="none" stroke="#faf8fc" stroke-width="5.5" stroke-linejoin="round"/>
<path d="M192.6,1638.4 L197.2,1637.9" fill="none" stroke="#e64852" stroke-width="5.5" stroke-linejoin="round"/>
<path d="M785.0,1396.1 L789.7,1396.1" fill="none" stroke="#faf8fc" stroke-width="5.5" stroke-linejoin="round"/>
<path d="M789.7,1396.1 L794.2,1395.5" fill="none" stroke="#676fbe" stroke-width="5.5" stroke-linejoin="round"/>
<path d="M794.2,1395.5 L798.8,1394.8 L803.5,1394.2 L807.7,1393.6 L812.1,1392.9 L816.7,1392.2 L821.3,1391.5 L825.8,1390.8 L830.2,1390.0 L835.3,1389.0 L839.8,1387.9 L844.2,1386.7 L848.8,1385.2 L852.9,1383.5 L857.6,1381.4 L861.8,1379.3 L865.6,1377.3 L869.7,1375.0 L873.3,1371.3" fill="none" stroke="#4a54b2" stroke-width="5.5" stroke-linejoin="round"/>
<path d="M873.3,1371.3 L876.5,1367.3" fill="none" stroke="#7e5092" stroke-width="5.5" stroke-linejoin="round"/>
<path d="M876.5,1367.3 L880.9,1367.1" fill="none" stroke="#e74e58" stroke-width="5.5" stroke-linejoin="round"/>
<path d="M880.9,1367.1 L885.1,1369.6" fill="none" stroke="#ea5862" stroke-width="5.5" stroke-linejoin="round"/>
<path d="M885.1,1369.6 L889.2,1372.9" fill="none" stroke="#ec636d" stroke-width="5.5" stroke-linejoin="round"/>
<path d="M889.2,1372.9 L892.6,1376.0" fill="none" stroke="#ee6d77" stroke-width="5.5" stroke-linejoin="round"/>
<path d="M892.6,1376.0 L896.0,1379.2" fill="none" stroke="#f07781" stroke-width="5.5" stroke-linejoin="round"/>
<path d="M896.0,1379.2 L899.4,1382.2" fill="none" stroke="#f3828c" stroke-width="5.5" stroke-linejoin="round"/>
<path d="M899.4,1382.2 L903.4,1385.3" fill="none" stroke="#f58c96" stroke-width="5.5" stroke-linejoin="round"/>
<path d="M903.4,1385.3 L907.2,1387.5" fill="none" stroke="#f3848e" stroke-width="5.5" stroke-linejoin="round"/>
<path d="M907.2,1387.5 L911.3,1389.6" fill="none" stroke="#f27d87" stroke-width="5.5" stroke-linejoin="round"/>
<path d="M911.3,1389.6 L915.1,1391.3" fill="none" stroke="#f0757f" stroke-width="5.5" stroke-linejoin="round"/>
<path d="M915.1,1391.3 L919.7,1392.8" fill="none" stroke="#ee6e78" stroke-width="5.5" stroke-linejoin="round"/>
<path d="M919.7,1392.8 L924.0,1393.7" fill="none" stroke="#ed6670" stroke-width="5.5" stroke-linejoin="round"/>
<path d="M924.0,1393.7 L928.3,1394.2" fill="none" stroke="#eb5f69" stroke-width="5.5" stroke-linejoin="round"/>
<path d="M928.3,1394.2 L933.0,1393.7" fill="none" stroke="#e95761" stroke-width="5.5" stroke-linejoin="round"/>
<path d="M933.0,1393.7 L936.8,1390.9" fill="none" stroke="#e8505a" stroke-width="5.5" stroke-linejoin="round"/>
<path d="M936.8,1390.9 L939.6,1387.3 L941.7,1383.6 L943.9,1379.1 L945.7,1375.2 L947.5,1371.1 L949.3,1366.9 L951.3,1362.8 L953.2,1358.9 L955.6,1354.5 L958.0,1350.2 L960.5,1345.8 L963.0,1341.4 L965.6,1337.0 L968.3,1332.6 L970.9,1328.3 L973.6,1324.2 L976.1,1320.5 L978.7,1316.7 L981.5,1312.9 L984.4,1309.1 L987.1,1305.4 L989.7,1302.0 L992.5,1298.3 L995.1,1294.8 L995.4,1294.4" fill="none" stroke="#e64852" stroke-width="5.5" stroke-linejoin="round"/>
<path d="M785.0,1443.3 L789.4,1442.3 L793.7,1441.3 L798.6,1440.2 L802.9,1439.3 L807.4,1438.2 L812.0,1437.1 L816.6,1436.0 L821.1,1434.8 L825.5,1433.6 L829.6,1432.3 L834.2,1430.8 L838.9,1428.8 L843.1,1426.6 L846.8,1424.2 L850.3,1421.8 L854.1,1418.6 L857.7,1415.5 L861.1,1412.4 L864.4,1409.6 L867.9,1406.3 L871.0,1402.7 L873.7,1399.3 L877.1,1395.6 L880.7,1393.2 L884.9,1392.6 L889.6,1394.0 L893.4,1396.0 L897.3,1398.3 L901.2,1400.4 L906.1,1402.3 L910.2,1404.0 L914.4,1405.6 L918.5,1407.0 L923.3,1407.8 L927.7,1407.1 L931.6,1405.1 L935.2,1401.9 L938.0,1398.7 L941.0,1394.7 L943.7,1391.0 L946.1,1387.1 L948.6,1382.8 L951.0,1378.2 L953.0,1374.4 L955.1,1370.6 L957.1,1366.7 L959.2,1362.9 L961.6,1358.5 L964.0,1353.9 L966.5,1349.3 L968.5,1345.6 L970.5,1341.8 L972.5,1338.1 L975.1,1333.6 L977.6,1329.4 L980.2,1325.2 L982.9,1321.3 L985.7,1317.5 L988.6,1313.7 L991.4,1310.2 L994.7,1306.2 L997.4,1302.9 L999.4,1300.4" fill="none" stroke="#4a54b2" stroke-width="5.5" stroke-linejoin="round"/>
<path d="M995.4,1294.4 L999.3,1291.5" fill="none" stroke="#f6aab2" stroke-width="5.5" stroke-linejoin="round"/>
<path d="M999.3,1291.5 L1003.1,1288.6" fill="none" stroke="#f6aeb6" stroke-width="5.5" stroke-linejoin="round"/>
<path d="M1003.1,1288.6 L1006.6,1286.0" fill="none" stroke="#f6b2b9" stroke-width="5.5" stroke-linejoin="round"/>
<path d="M1006.6,1286.0 L1010.3,1283.2" fill="none" stroke="#f7b6bd" stroke-width="5.5" stroke-linejoin="round"/>
<path d="M1010.3,1283.2 L1014.1,1280.5" fill="none" stroke="#f7bac1" stroke-width="5.5" stroke-linejoin="round"/>
<path d="M1014.1,1280.5 L1017.9,1277.9" fill="none" stroke="#f7bec4" stroke-width="5.5" stroke-linejoin="round"/>
<path d="M1017.9,1277.9 L1021.5,1275.6" fill="none" stroke="#f6aab2" stroke-width="5.5" stroke-linejoin="round"/>
<path d="M1021.5,1275.6 L1025.9,1273.1" fill="none" stroke="#f7c5cc" stroke-width="5.5" stroke-linejoin="round"/>
<path d="M1025.9,1273.1 L1030.5,1270.7" fill="none" stroke="#f8c9d0" stroke-width="5.5" stroke-linejoin="round"/>
<path d="M1030.5,1270.7 L1035.1,1268.5" fill="none" stroke="#f8cdd3" stroke-width="5.5" stroke-linejoin="round"/>
<path d="M1035.1,1268.5 L1039.7,1266.5" fill="none" stroke="#d2d2f0" stroke-width="5.5" stroke-linejoin="round"/>
<path d="M1039.7,1266.5 L1044.4,1264.7" fill="none" stroke="#e64852" stroke-width="5.5" stroke-linejoin="round"/>
<path d="M1044.4,1264.7 L1049.2,1262.9" fill="none" stroke="#aaaee2" stroke-width="5.5" stroke-linejoin="round"/>
<path d="M1049.2,1262.9 L1054.0,1261.3" fill="none" stroke="#f9dde2" stroke-width="5.5" stroke-linejoin="round"/>
<path d="M1054.0,1261.3 L1058.0,1260.1" fill="none" stroke="#f9e1e6" stroke-width="5.5" stroke-linejoin="round"/>
<path d="M1058.0,1260.1 L1062.2,1258.9" fill="none" stroke="#9696d7" stroke-width="5.5" stroke-linejoin="round"/>
<path d="M1062.2,1258.9 L1066.4,1257.7" fill="none" stroke="#f9e8ed" stroke-width="5.5" stroke-linejoin="round"/>
<path d="M1066.4,1257.7 L1070.7,1256.7" fill="none" stroke="#f9ecf1" stroke-width="5.5" stroke-linejoin="round"/>
<path d="M1070.7,1256.7 L1074.8,1255.8" fill="none" stroke="#faf0f5" stroke-width="5.5" stroke-linejoin="round"/>
<path d="M1074.8,1255.8 L1079.7,1255.1" fill="none" stroke="#faf4f8" stroke-width="5.5" stroke-linejoin="round"/>
<path d="M1079.7,1255.1 L1084.2,1254.7" fill="none" stroke="#aaaee2" stroke-width="5.5" stroke-linejoin="round"/>
<path d="M1084.2,1254.7 L1088.4,1254.9" fill="none" stroke="#faf8fc" stroke-width="5.5" stroke-linejoin="round"/>
<path d="M1088.4,1254.9 L1093.0,1256.1" fill="none" stroke="#f6f4fb" stroke-width="5.5" stroke-linejoin="round"/>
<path d="M1093.0,1256.1 L1097.2,1257.9" fill="none" stroke="#9696d7" stroke-width="5.5" stroke-linejoin="round"/>
<path d="M1097.2,1257.9 L1101.7,1260.2" fill="none" stroke="#f6aab2" stroke-width="5.5" stroke-linejoin="round"/>
<path d="M1101.7,1260.2 L1105.8,1262.0" fill="none" stroke="#faf8fc" stroke-width="5.5" stroke-linejoin="round"/>
<path d="M1105.8,1262.0 L1110.0,1263.6" fill="none" stroke="#d2d2f0" stroke-width="5.5" stroke-linejoin="round"/>
<path d="M1110.0,1263.6 L1114.6,1265.4" fill="none" stroke="#ecebf8" stroke-width="5.5" stroke-linejoin="round"/>
<path d="M1114.6,1265.4 L1119.4,1267.3" fill="none" stroke="#aaaee2" stroke-width="5.5" stroke-linejoin="round"/>
<path d="M1119.4,1267.3 L1123.3,1269.0" fill="none" stroke="#e8e7f7" stroke-width="5.5" stroke-linejoin="round"/>
<path d="M1123.3,1269.0 L1127.2,1270.7" fill="none" stroke="#e6e5f6" stroke-width="5.5" stroke-linejoin="round"/>
<path d="M1127.2,1270.7 L1131.1,1272.6" fill="none" stroke="#e4e3f5" stroke-width="5.5" stroke-linejoin="round"/>
<path d="M1131.1,1272.6 L1135.6,1275.1" fill="none" stroke="#e2e1f5" stroke-width="5.5" stroke-linejoin="round"/>
<path d="M1135.6,1275.1 L1139.2,1277.3" fill="none" stroke="#e0dff4" stroke-width="5.5" stroke-linejoin="round"/>
<path d="M1139.2,1277.3 L1143.0,1279.8" fill="none" stroke="#deddf4" stroke-width="5.5" stroke-linejoin="round"/>
<path d="M1143.0,1279.8 L1146.8,1282.5" fill="none" stroke="#e64852" stroke-width="5.5" stroke-linejoin="round"/>
<path d="M1146.8,1282.5 L1150.5,1285.3" fill="none" stroke="#dadaf2" stroke-width="5.5" stroke-linejoin="round"/>
<path d="M1150.5,1285.3 L1154.0,1288.0" fill="none" stroke="#d8d8f2" stroke-width="5.5" stroke-linejoin="round"/>
<path d="M1154.0,1288.0 L1158.0,1291.0" fill="none" stroke="#d6d6f1" stroke-width="5.5" stroke-linejoin="round"/>
<path d="M1158.0,1291.0 L1161.6,1293.8" fill="none" stroke="#d4d4f1" stroke-width="5.5" stroke-linejoin="round"/>
<path d="M1161.6,1293.8 L1162.6,1294.4" fill="none" stroke="#f6aab2" stroke-width="5.5" stroke-linejoin="round"/>
<path d="M995.4,1298.4 L999.3,1295.5" fill="none" stroke="#aaaee2" stroke-width="5.5" stroke-linejoin="round"/>
<path d="M999.3,1295.5 L1003.1,1292.6" fill="none" stroke="#adb1e3" stroke-width="5.5" stroke-linejoin="round"/>
<path d="M1003.1,1292.6 L1006.6,1290.0" fill="none" stroke="#b0b4e4" stroke-width="5.5" stroke-linejoin="round"/>
<path d="M1006.6,1290.0 L1010.3,1287.2" fill="none" stroke="#e64852" stroke-width="5.5" stroke-linejoin="round"/>
<path d="M1010.3,1287.2 L1014.1,1284.5" fill="none" stroke="#aaaee2" stroke-width="5.5" stroke-linejoin="round"/>
<path d="M1014.1,1284.5 L1017.9,1281.9" fill="none" stroke="#faf8fc" stroke-width="5.5" stroke-linejoin="round"/>
<path d="M1017.9,1281.9 L1021.5,1279.6" fill="none" stroke="#f6aab2" stroke-width="5.5" stroke-linejoin="round"/>
<path d="M1021.5,1279.6 L1025.9,1277.1" fill="none" stroke="#c0c3e9" stroke-width="5.5" stroke-linejoin="round"/>
<path d="M1025.9,1277.1 L1030.5,1274.7" fill="none" stroke="#c4c6ea" stroke-width="5.5" stroke-linejoin="round"/>
<path d="M1030.5,1274.7 L1035.1,1272.5" fill="none" stroke="#c7c9eb" stroke-width="5.5" stroke-linejoin="round"/>
<path d="M1035.1,1272.5 L1039.7,1270.5" fill="none" stroke="#caccec" stroke-width="5.5" stroke-linejoin="round"/>
<path d="M1039.7,1270.5 L1044.4,1268.7" fill="none" stroke="#cdcfed" stroke-width="5.5" stroke-linejoin="round"/>
<path d="M1044.4,1268.7 L1049.2,1266.9" fill="none" stroke="#aaaee2" stroke-width="5.5" stroke-linejoin="round"/>
<path d="M1049.2,1266.9 L1054.0,1265.3" fill="none" stroke="#d4d4f0" stroke-width="5.5" stroke-linejoin="round"/>
<path d="M1054.0,1265.3 L1058.0,1264.1" fill="none" stroke="#f6aab2" stroke-width="5.5" stroke-linejoin="round"/>
<path d="M1058.0,1264.1 L1062.2,1262.9" fill="none" stroke="#dadaf2" stroke-width="5.5" stroke-linejoin="round"/>
<path d="M1062.2,1262.9 L1066.4,1261.7" fill="none" stroke="#f6aab2" stroke-width="5.5" stroke-linejoin="round"/>
<path d="M1066.4,1261.7 L1070.7,1260.7" fill="none" stroke="#e0e0f4" stroke-width="5.5" stroke-linejoin="round"/>
<path d="M1070.7,1260.7 L1074.8,1259.8" fill="none" stroke="#d2d2f0" stroke-width="5.5" stroke-linejoin="round"/>
<path d="M1074.8,1259.8 L1079.7,1259.1" fill="none" stroke="#e7e6f6" stroke-width="5.5" stroke-linejoin="round"/>
<path d="M1079.7,1259.1 L1084.2,1258.7" fill="none" stroke="#aaaee2" stroke-width="5.5" stroke-linejoin="round"/>
<path d="M1084.2,1258.7 L1088.6,1259.0" fill="none" stroke="#edecf8" stroke-width="5.5" stroke-linejoin="round"/>
<path d="M1088.6,1259.0 L1093.3,1260.3" fill="none" stroke="#f0eff9" stroke-width="5.5" stroke-linejoin="round"/>
<path d="M1093.3,1260.3 L1097.5,1262.0" fill="none" stroke="#9696d7" stroke-width="5.5" stroke-linejoin="round"/>
<path d="M1097.5,1262.0 L1101.9,1264.2" fill="none" stroke="#f6aab2" stroke-width="5.5" stroke-linejoin="round"/>
<path d="M1101.9,1264.2 L1105.0,1265.7" fill="none" stroke="#faf8fc" stroke-width="5.5" stroke-linejoin="round"/>
<path d="M1373.0,1396.1 L1368.3,1396.1 L1363.8,1395.5 L1359.2,1394.8 L1354.5,1394.2 L1350.3,1393.6 L1345.9,1392.9 L1341.3,1392.2 L1336.7,1391.5 L1332.2,1390.8 L1327.8,1390.0 L1322.7,1389.0 L1318.2,1387.9 L1313.8,1386.7 L1309.2,1385.2 L1305.1,1383.5 L1300.4,1381.4 L1296.2,1379.3 L1292.4,1377.3 L1288.3,1375.0 L1284.7,1371.3" fill="none" stroke="#e64852" stroke-width="5.5" stroke-linejoin="round"/>
<path d="M1284.7,1371.3 L1281.5,1367.3" fill="none" stroke="#b24c72" stroke-width="5.5" stroke-linejoin="round"/>
<path d="M1281.5,1367.3 L1277.1,1367.1" fill="none" stroke="#4d57b4" stroke-width="5.5" stroke-linejoin="round"/>
<path d="M1277.1,1367.1 L1272.9,1369.6" fill="none" stroke="#535cb7" stroke-width="5.5" stroke-linejoin="round"/>
<path d="M1272.9,1369.6 L1268.8,1372.9" fill="none" stroke="#5860bb" stroke-width="5.5" stroke-linejoin="round"/>
<path d="M1268.8,1372.9 L1265.4,1376.0" fill="none" stroke="#5e65be" stroke-width="5.5" stroke-linejoin="round"/>
<path d="M1265.4,1376.0 L1262.0,1379.2" fill="none" stroke="#636ac1" stroke-width="5.5" stroke-linejoin="round"/>
<path d="M1262.0,1379.2 L1258.6,1382.2" fill="none" stroke="#696ec5" stroke-width="5.5" stroke-linejoin="round"/>
<path d="M1258.6,1382.2 L1254.6,1385.3" fill="none" stroke="#6e73c8" stroke-width="5.5" stroke-linejoin="round"/>
<path d="M1254.6,1385.3 L1250.8,1387.5" fill="none" stroke="#6a70c6" stroke-width="5.5" stroke-linejoin="round"/>
<path d="M1250.8,1387.5 L1246.7,1389.6" fill="none" stroke="#666cc3" stroke-width="5.5" stroke-linejoin="round"/>
<path d="M1246.7,1389.6 L1242.9,1391.3" fill="none" stroke="#6269c1" stroke-width="5.5" stroke-linejoin="round"/>
<path d="M1242.9,1391.3 L1238.3,1392.8" fill="none" stroke="#5e65be" stroke-width="5.5" stroke-linejoin="round"/>
<path d="M1238.3,1392.8 L1234.0,1393.7" fill="none" stroke="#5a62bc" stroke-width="5.5" stroke-linejoin="round"/>
<path d="M1234.0,1393.7 L1229.7,1394.2" fill="none" stroke="#565eb9" stroke-width="5.5" stroke-linejoin="round"/>
<path d="M1229.7,1394.2 L1225.0,1393.7" fill="none" stroke="#525bb7" stroke-width="5.5" stroke-linejoin="round"/>
<path d="M1225.0,1393.7 L1221.2,1390.9" fill="none" stroke="#4e57b4" stroke-width="5.5" stroke-linejoin="round"/>
<path d="M1221.2,1390.9 L1218.4,1387.3 L1216.3,1383.6 L1214.1,1379.1 L1212.3,1375.2 L1210.5,1371.1 L1208.7,1366.9 L1206.7,1362.8 L1204.8,1358.9 L1202.4,1354.5 L1200.0,1350.2 L1197.5,1345.8 L1195.0,1341.4 L1192.4,1337.0 L1189.7,1332.6 L1187.1,1328.3 L1184.4,1324.2 L1181.9,1320.5 L1179.3,1316.7 L1176.5,1312.9 L1173.6,1309.1 L1170.9,1305.4 L1168.3,1302.0 L1165.5,1298.3 L1162.9,1294.8 L1162.6,1294.4" fill="none" stroke="#4a54b2" stroke-width="5.5" stroke-linejoin="round"/>
<path d="M1373.0,1443.3 L1368.6,1442.3" fill="none" stroke="#f06e78" stroke-width="5.5" stroke-linejoin="round"/>
<path d="M1368.6,1442.3 L1364.3,1441.3" fill="none" stroke="#f06d77" stroke-width="5.5" stroke-linejoin="round"/>
<path d="M1364.3,1441.3 L1359.4,1440.2" fill="none" stroke="#ef6c76" stroke-width="5.5" stroke-linejoin="round"/>
<path d="M1359.4,1440.2 L1355.1,1439.3" fill="none" stroke="#ef6a74" stroke-width="5.5" stroke-linejoin="round"/>
<path d="M1355.1,1439.3 L1350.6,1438.2" fill="none" stroke="#ef6973" stroke-width="5.5" stroke-linejoin="round"/>
<path d="M1350.6,1438.2 L1346.0,1437.1" fill="none" stroke="#ee6872" stroke-width="5.5" stroke-linejoin="round"/>
<path d="M1346.0,1437.1 L1341.4,1436.0" fill="none" stroke="#ee6771" stroke-width="5.5" stroke-linejoin="round"/>
<path d="M1341.4,1436.0 L1336.9,1434.8" fill="none" stroke="#ee656f" stroke-width="5.5" stroke-linejoin="round"/>
<path d="M1336.9,1434.8 L1332.5,1433.6" fill="none" stroke="#ed646e" stroke-width="5.5" stroke-linejoin="round"/>
<path d="M1332.5,1433.6 L1328.4,1432.3" fill="none" stroke="#ed636d" stroke-width="5.5" stroke-linejoin="round"/>
<path d="M1328.4,1432.3 L1323.8,1430.8" fill="none" stroke="#ed626c" stroke-width="5.5" stroke-linejoin="round"/>
<path d="M1323.8,1430.8 L1319.1,1428.8" fill="none" stroke="#ec616b" stroke-width="5.5" stroke-linejoin="round"/>
<path d="M1319.1,1428.8 L1314.9,1426.6" fill="none" stroke="#ec5f69" stroke-width="5.5" stroke-linejoin="round"/>
<path d="M1314.9,1426.6 L1311.2,1424.2" fill="none" stroke="#ec5e68" stroke-width="5.5" stroke-linejoin="round"/>
<path d="M1311.2,1424.2 L1307.7,1421.8" fill="none" stroke="#eb5d67" stroke-width="5.5" stroke-linejoin="round"/>
<path d="M1307.7,1421.8 L1303.9,1418.6" fill="none" stroke="#eb5c66" stroke-width="5.5" stroke-linejoin="round"/>
<path d="M1303.9,1418.6 L1300.3,1415.5" fill="none" stroke="#eb5a64" stroke-width="5.5" stroke-linejoin="round"/>
<path d="M1300.3,1415.5 L1296.9,1412.4" fill="none" stroke="#eb5963" stroke-width="5.5" stroke-linejoin="round"/>
<path d="M1296.9,1412.4 L1293.6,1409.6" fill="none" stroke="#ea5862" stroke-width="5.5" stroke-linejoin="round"/>
<path d="M1293.6,1409.6 L1290.1,1406.3" fill="none" stroke="#ea5761" stroke-width="5.5" stroke-linejoin="round"/>
<path d="M1290.1,1406.3 L1287.0,1402.7" fill="none" stroke="#ea555f" stroke-width="5.5" stroke-linejoin="round"/>
<path d="M1287.0,1402.7 L1284.3,1399.3" fill="none" stroke="#e9545e" stroke-width="5.5" stroke-linejoin="round"/>
<path d="M1284.3,1399.3 L1280.9,1395.6" fill="none" stroke="#e9535d" stroke-width="5.5" stroke-linejoin="round"/>
<path d="M1280.9,1395.6 L1277.3,1393.2" fill="none" stroke="#e9525c" stroke-width="5.5" stroke-linejoin="round"/>
<path d="M1277.3,1393.2 L1273.1,1392.6" fill="none" stroke="#e8515b" stroke-width="5.5" stroke-linejoin="round"/>
<path d="M1273.1,1392.6 L1268.4,1394.0" fill="none" stroke="#e84f59" stroke-width="5.5" stroke-linejoin="round"/>
<path d="M1268.4,1394.0 L1264.6,1396.0" fill="none" stroke="#e84e58" stroke-width="5.5" stroke-linejoin="round"/>
<path d="M1264.6,1396.0 L1260.7,1398.3" fill="none" stroke="#e74d57" stroke-width="5.5" stroke-linejoin="round"/>
<path d="M1260.7,1398.3 L1256.8,1400.4" fill="none" stroke="#e74c56" stroke-width="5.5" stroke-linejoin="round"/>
<path d="M1256.8,1400.4 L1251.9,1402.3" fill="none" stroke="#e74a54" stroke-width="5.5" stroke-linejoin="round"/>
<path d="M1251.9,1402.3 L1247.8,1404.0" fill="none" stroke="#e64953" stroke-width="5.5" stroke-linejoin="round"/>
<path d="M1247.8,1404.0 L1243.6,1405.6 L1239.5,1407.0 L1234.7,1407.8 L1230.3,1407.1 L1226.4,1405.1 L1222.8,1401.9 L1220.0,1398.7 L1217.0,1394.7 L1214.3,1391.0 L1211.9,1387.1 L1209.4,1382.8 L1207.0,1378.2 L1205.0,1374.4 L1202.9,1370.6 L1200.9,1366.7 L1198.8,1362.9 L1196.4,1358.5 L1194.0,1353.9 L1191.5,1349.3 L1189.5,1345.6 L1187.5,1341.8 L1185.5,1338.1 L1182.9,1333.6 L1180.4,1329.4 L1177.8,1325.2 L1175.1,1321.3 L1172.3,1317.5 L1169.4,1313.7 L1166.6,1310.2 L1163.3,1306.2 L1160.6,1302.9 L1158.6,1300.4" fill="none" stroke="#e64852" stroke-width="5.5" stroke-linejoin="round"/>
<path d="M782.0,1644.9 L786.7,1644.0" fill="none" stroke="#faf8fc" stroke-width="5.5" stroke-linejoin="round"/>
<path d="M786.7,1644.0 L791.2,1643.2" fill="none" stroke="#eeedf8" stroke-width="5.5" stroke-linejoin="round"/>
<path d="M791.2,1643.2 L795.3,1642.4" fill="none" stroke="#e2e2f4" stroke-width="5.5" stroke-linejoin="round"/>
<path d="M795.3,1642.4 L799.8,1641.5" fill="none" stroke="#d6d7f0" stroke-width="5.5" stroke-linejoin="round"/>
<path d="M799.8,1641.5 L804.4,1640.5" fill="none" stroke="#caccec" stroke-width="5.5" stroke-linejoin="round"/>
<path d="M804.4,1640.5 L809.1,1639.4" fill="none" stroke="#bec1e9" stroke-width="5.5" stroke-linejoin="round"/>
<path d="M809.1,1639.4 L813.8,1638.3" fill="none" stroke="#b2b6e5" stroke-width="5.5" stroke-linejoin="round"/>
<path d="M813.8,1638.3 L818.4,1636.9" fill="none" stroke="#a6aae0" stroke-width="5.5" stroke-linejoin="round"/>
<path d="M818.4,1636.9 L822.8,1635.4" fill="none" stroke="#979dd9" stroke-width="5.5" stroke-linejoin="round"/>
<path d="M822.8,1635.4 L827.4,1633.8" fill="none" stroke="#898fd2" stroke-width="5.5" stroke-linejoin="round"/>
<path d="M827.4,1633.8 L832.0,1632.0" fill="none" stroke="#7b82ca" stroke-width="5.5" stroke-linejoin="round"/>
<path d="M832.0,1632.0 L836.8,1630.2" fill="none" stroke="#6c74c3" stroke-width="5.5" stroke-linejoin="round"/>
<path d="M836.8,1630.2 L841.7,1628.5" fill="none" stroke="#5e67bc" stroke-width="5.5" stroke-linejoin="round"/>
<path d="M841.7,1628.5 L845.7,1627.2" fill="none" stroke="#5059b5" stroke-width="5.5" stroke-linejoin="round"/>
<path d="M845.7,1627.2 L849.8,1626.0 L853.9,1624.9 L858.9,1623.8 L863.9,1623.0 L868.2,1622.5 L872.5,1622.1 L877.0,1621.8 L881.4,1621.4 L885.8,1621.1 L890.0,1620.7 L895.1,1620.1 L899.7,1619.3 L903.9,1618.3 L908.9,1616.3 L912.5,1614.0 L916.0,1610.8 L918.9,1607.2 L922.0,1603.5 L925.0,1600.5 L928.6,1597.4 L932.0,1594.2 L935.4,1591.0 L939.0,1587.7 L943.0,1584.4 L946.5,1581.8 L950.4,1579.4 L954.7,1577.1 L958.7,1575.3 L963.1,1573.6 L968.0,1572.0 L972.1,1570.7 L976.3,1569.4 L980.6,1568.2 L984.9,1567.0 L989.1,1565.8 L993.3,1564.6 L998.2,1563.3 L1002.7,1562.0 L1006.7,1560.7 L1010.9,1559.2 L1015.4,1557.1 L1019.6,1554.6 L1023.9,1552.1 L1028.2,1550.7 L1032.8,1550.4 L1037.6,1550.5 L1042.0,1551.0 L1046.7,1551.7 L1051.6,1552.6 L1056.7,1553.8 L1060.9,1554.8 L1065.2,1555.9 L1069.4,1557.2 L1073.8,1558.5 L1078.1,1559.8 L1082.3,1561.3 L1086.7,1562.9 L1091.1,1564.6 L1095.6,1566.4 L1100.1,1568.3 L1104.7,1570.3 L1109.3,1572.4 L1114.0,1574.5 L1118.8,1576.7 L1122.7,1578.4 L1126.6,1580.2 L1130.5,1582.0 L1134.9,1584.0 L1139.1,1586.0 L1143.3,1588.1 L1147.6,1590.3 L1151.8,1592.5 L1156.2,1594.7 L1160.5,1597.0 L1165.0,1599.2 L1169.6,1601.4 L1174.2,1603.6 L1179.0,1605.7 L1182.9,1607.4 L1187.0,1609.0 L1191.1,1610.5 L1195.8,1612.1 L1200.1,1613.5 L1204.6,1614.9 L1209.1,1616.3 L1213.8,1617.7 L1218.5,1619.0 L1223.2,1620.3 L1228.1,1621.5 L1233.0,1622.8 L1237.9,1624.0 L1243.0,1625.1 L1248.1,1626.3 L1252.2,1627.2 L1256.3,1628.1 L1260.5,1628.9 L1264.7,1629.8 L1269.0,1630.6 L1273.3,1631.4 L1278.2,1632.3 L1283.1,1633.1 L1288.3,1633.9 L1292.6,1634.5 L1297.0,1635.2 L1301.5,1635.8 L1306.1,1636.4 L1310.8,1637.0 L1315.4,1637.5 L1320.1,1638.1 L1324.7,1638.6 L1329.3,1639.2 L1333.9,1639.7 L1338.3,1640.2 L1342.7,1640.6 L1346.9,1641.1 L1351.9,1641.7 L1356.7,1642.2 L1361.1,1642.6 L1365.9,1643.2 L1370.1,1643.6 L1374.1,1644.1" fill="none" stroke="#4a54b2" stroke-width="5.5" stroke-linejoin="round"/>
<path d="M1376.0,1644.9 L1371.3,1644.0" fill="none" stroke="#faf8fc" stroke-width="5.5" stroke-linejoin="round"/>
<path d="M1371.3,1644.0 L1366.8,1643.2" fill="none" stroke="#f9ecf1" stroke-width="5.5" stroke-linejoin="round"/>
<path d="M1366.8,1643.2 L1362.7,1642.4" fill="none" stroke="#f9e1e6" stroke-width="5.5" stroke-linejoin="round"/>
<path d="M1362.7,1642.4 L1358.2,1641.5" fill="none" stroke="#f8d5db" stroke-width="5.5" stroke-linejoin="round"/>
<path d="M1358.2,1641.5 L1353.6,1640.5" fill="none" stroke="#f8c9d0" stroke-width="5.5" stroke-linejoin="round"/>
<path d="M1353.6,1640.5 L1348.9,1639.4" fill="none" stroke="#f7bec5" stroke-width="5.5" stroke-linejoin="round"/>
<path d="M1348.9,1639.4 L1344.2,1638.3" fill="none" stroke="#f6b2ba" stroke-width="5.5" stroke-linejoin="round"/>
<path d="M1344.2,1638.3 L1339.6,1636.9" fill="none" stroke="#f5a6ae" stroke-width="5.5" stroke-linejoin="round"/>
<path d="M1339.6,1636.9 L1335.2,1635.4" fill="none" stroke="#f3979f" stroke-width="5.5" stroke-linejoin="round"/>
<path d="M1335.2,1635.4 L1330.6,1633.8" fill="none" stroke="#f18891" stroke-width="5.5" stroke-linejoin="round"/>
<path d="M1330.6,1633.8 L1326.0,1632.0" fill="none" stroke="#ee7a83" stroke-width="5.5" stroke-linejoin="round"/>
<path d="M1326.0,1632.0 L1321.2,1630.2" fill="none" stroke="#ec6b74" stroke-width="5.5" stroke-linejoin="round"/>
<path d="M1321.2,1630.2 L1316.3,1628.5" fill="none" stroke="#e95c66" stroke-width="5.5" stroke-linejoin="round"/>
<path d="M1316.3,1628.5 L1312.3,1627.2" fill="none" stroke="#e74e58" stroke-width="5.5" stroke-linejoin="round"/>
<path d="M1312.3,1627.2 L1308.2,1626.0 L1304.1,1624.9 L1299.1,1623.8 L1294.1,1623.0 L1289.8,1622.5 L1285.5,1622.1 L1281.0,1621.8 L1276.6,1621.4 L1272.2,1621.1 L1268.0,1620.7 L1262.9,1620.1 L1258.3,1619.3 L1254.1,1618.3 L1249.1,1616.3 L1245.5,1614.0 L1242.0,1610.8 L1239.1,1607.2 L1236.0,1603.5 L1233.0,1600.5 L1229.4,1597.4 L1226.0,1594.2 L1222.6,1591.0 L1219.0,1587.7 L1215.0,1584.4 L1211.5,1581.8 L1207.6,1579.4 L1203.3,1577.1 L1199.3,1575.3 L1194.9,1573.6 L1190.0,1572.0 L1185.9,1570.7 L1181.7,1569.4 L1177.4,1568.2 L1173.1,1567.0 L1168.9,1565.8 L1164.7,1564.6 L1159.8,1563.3 L1155.3,1562.0 L1151.3,1560.7 L1147.1,1559.2 L1142.6,1557.1 L1138.4,1554.6 L1134.1,1552.1 L1129.8,1550.7 L1125.2,1550.4 L1120.4,1550.5 L1116.0,1551.0 L1111.3,1551.7 L1106.4,1552.6 L1101.3,1553.8 L1097.1,1554.8 L1092.8,1555.9 L1088.6,1557.2 L1084.2,1558.5 L1079.9,1559.8 L1075.7,1561.3 L1071.3,1562.9 L1066.9,1564.6 L1062.4,1566.4 L1057.9,1568.3 L1053.3,1570.3 L1048.7,1572.4 L1044.0,1574.5 L1039.2,1576.7 L1035.3,1578.4 L1031.4,1580.2 L1027.5,1582.0 L1023.1,1584.0 L1018.9,1586.0 L1014.7,1588.1 L1010.4,1590.3 L1006.2,1592.5 L1001.8,1594.7 L997.5,1597.0 L993.0,1599.2 L988.4,1601.4 L983.8,1603.6 L979.0,1605.7 L975.1,1607.4 L971.0,1609.0 L966.9,1610.5 L962.2,1612.1 L957.9,1613.5 L953.4,1614.9 L948.9,1616.3 L944.2,1617.7 L939.5,1619.0 L934.8,1620.3 L929.9,1621.5 L925.0,1622.8 L920.1,1624.0 L915.0,1625.1 L909.9,1626.3 L905.8,1627.2 L901.7,1628.1 L897.5,1628.9 L893.3,1629.8 L889.0,1630.6 L884.7,1631.4 L879.8,1632.3 L874.9,1633.1 L869.7,1633.9 L865.4,1634.5 L861.0,1635.2 L856.5,1635.8 L851.9,1636.4 L847.2,1637.0 L842.6,1637.5 L837.9,1638.1 L833.3,1638.6 L828.7,1639.2 L824.1,1639.7 L819.7,1640.2 L815.3,1640.6 L811.1,1641.1 L806.1,1641.7 L801.3,1642.2 L796.9,1642.6 L792.1,1643.2 L787.9,1643.6 L783.9,1644.1" fill="none" stroke="#e64852" stroke-width="5.5" stroke-linejoin="round"/>
<text x="287.34" y="152.75" font-size="34.79" fill="#fff" style="font-family:'Liberation Sans',Arial,sans-serif" textLength="82.45" lengthAdjust="spacingAndGlyphs" >TSS0</text>
<path d="M267.8,141.1 L217.1,141.1 L217.1,136.0 L193.5,144.6 L217.1,153.2 L217.1,148.1 L267.8,148.1Z" fill="#fff"/>
<path d="M379.1,148.1 L429.8,148.1 L429.8,153.2 L453.4,144.6 L429.8,136.0 L429.8,141.1 L379.1,141.1Z" fill="#fff"/>
<text x="485.46" y="114.51" font-size="38.91" fill="#fff" style="font-family:'Liberation Sans',Arial,sans-serif;font-style:italic" textLength="15.96" lengthAdjust="spacingAndGlyphs" >ε</text>
<text x="482.76" y="226.26" font-size="38.23" fill="#fff" style="font-family:'Liberation Sans',Arial,sans-serif;font-style:italic" textLength="19.49" lengthAdjust="spacingAndGlyphs" >γ</text>
<text x="139.73" y="602.42" font-size="38.36" fill="#fff" style="font-family:'Liberation Sans',Arial,sans-serif;font-style:italic" textLength="16.57" lengthAdjust="spacingAndGlyphs" >ε</text>
<text x="138.23" y="715.11" font-size="39.46" fill="#fff" style="font-family:'Liberation Sans',Arial,sans-serif;font-style:italic" textLength="18.78" lengthAdjust="spacingAndGlyphs" >γ</text>
<text x="974.88" y="136.90" font-size="40.00" fill="#000" style="font-family:'Liberation Serif','Times New Roman',serif" textLength="29.32" lengthAdjust="spacingAndGlyphs" >H</text>
<text x="970.80" y="752.90" font-size="41.22" fill="#000" style="font-family:'Liberation Serif','Times New Roman',serif" textLength="36.20" lengthAdjust="spacingAndGlyphs" >H'</text>
<text x="640.40" y="447.70" font-size="40.61" fill="#000" style="font-family:'Liberation Serif','Times New Roman',serif" textLength="31.53" lengthAdjust="spacingAndGlyphs" >L'</text>
<text x="1314.70" y="447.90" font-size="40.76" fill="#000" style="font-family:'Liberation Serif','Times New Roman',serif" textLength="26.43" lengthAdjust="spacingAndGlyphs" >L</text>
<text x="983.09" y="305.82" font-size="38.00" fill="#fff" style="font-family:'Liberation Sans',Arial,sans-serif;font-style:italic" textLength="19.76" lengthAdjust="spacingAndGlyphs" >α</text>
<path d="M992.4,315.9 L992.4,384.0 L987.5,384.0 L994.0,404.8 L1000.5,384.0 L995.6,384.0 L995.6,315.9Z" fill="#fff"/>
<text x="1042.37" y="356.46" font-size="34.14" fill="#fff" style="font-family:'Liberation Sans',Arial,sans-serif" textLength="35.10" lengthAdjust="spacingAndGlyphs" >x5</text>
<text x="787.64" y="596.27" font-size="33.24" fill="#fff" style="font-family:'Liberation Sans',Arial,sans-serif" textLength="81.94" lengthAdjust="spacingAndGlyphs" >TSS0</text>
<path d="M829.4,556.3 L829.4,488.2 L834.3,488.2 L827.8,467.4 L821.3,488.2 L826.2,488.2 L826.2,556.3Z" fill="#fff"/>
<text x="1033.77" y="571.32" font-size="27.82" fill="#fff" style="font-family:'Liberation Sans',Arial,sans-serif;font-style:italic" textLength="15.46" lengthAdjust="spacingAndGlyphs" >ε</text>
<text x="1101.47" y="626.74" font-size="35.92" fill="#fff" style="font-family:'Liberation Sans',Arial,sans-serif;font-style:italic" textLength="21.22" lengthAdjust="spacingAndGlyphs" >γ</text>
<text x="1244.50" y="174.51" font-size="49.09" fill="#fff" style="font-family:'Liberation Sans',Arial,sans-serif;font-style:italic" textLength="24.44" lengthAdjust="spacingAndGlyphs" >α</text>
<text x="138.33" y="1061.50" font-size="34.65" fill="#000" style="font-family:'Liberation Sans',Arial,sans-serif" textLength="23.00" lengthAdjust="spacingAndGlyphs" >&lt;</text>
<text x="173.53" y="1064.28" font-size="41.83" fill="#000" style="font-family:'Liberation Sans',Arial,sans-serif;font-style:italic" textLength="25.93" lengthAdjust="spacingAndGlyphs" >S</text>
<text x="199.82" y="1071.60" font-size="25.66" fill="#000" style="font-family:'Liberation Sans',Arial,sans-serif;font-style:italic" textLength="10.26" lengthAdjust="spacingAndGlyphs" >x</text>
<text x="220.88" y="1061.50" font-size="34.65" fill="#000" style="font-family:'Liberation Sans',Arial,sans-serif" textLength="23.60" lengthAdjust="spacingAndGlyphs" >&gt;</text>
<text x="368.51" y="1531.48" font-size="32.39" fill="#000" style="font-family:'Liberation Sans',Arial,sans-serif" textLength="86.61" lengthAdjust="spacingAndGlyphs" >IBG-II</text>
<text x="370.84" y="1630.16" font-size="34.08" fill="#000" style="font-family:'Liberation Sans',Arial,sans-serif" textLength="82.13" lengthAdjust="spacingAndGlyphs" >TSS2</text>
<path d="M415.1,1597.1 L415.1,1583.6 L419.4,1583.6 L412.1,1560.6 L404.8,1583.6 L409.1,1583.6 L409.1,1597.1Z" fill="#0d0d0d"/>
<text x="806.26" y="1062.26" font-size="35.45" fill="#000" style="font-family:'Liberation Sans',Arial,sans-serif" textLength="22.64" lengthAdjust="spacingAndGlyphs" >&lt;</text>
<text x="841.72" y="1064.09" font-size="40.56" fill="#000" style="font-family:'Liberation Sans',Arial,sans-serif;font-style:italic" textLength="28.50" lengthAdjust="spacingAndGlyphs" >S</text>
<text x="867.88" y="1070.63" font-size="22.70" fill="#000" style="font-family:'Liberation Sans',Arial,sans-serif;font-style:italic" textLength="9.83" lengthAdjust="spacingAndGlyphs" >y</text>
<text x="888.66" y="1062.26" font-size="35.45" fill="#000" style="font-family:'Liberation Sans',Arial,sans-serif" textLength="22.64" lengthAdjust="spacingAndGlyphs" >&gt;</text>
<text x="1037.15" y="1240.91" font-size="29.01" fill="#000" style="font-family:'Liberation Sans',Arial,sans-serif" textLength="79.01" lengthAdjust="spacingAndGlyphs" >IBG-I</text>
<text x="1003.34" y="1403.28" font-size="31.83" fill="#000" style="font-family:'Liberation Sans',Arial,sans-serif" textLength="82.04" lengthAdjust="spacingAndGlyphs" >TSS0</text>
<path d="M990.5,1395.6 L971.8,1395.6 L971.8,1391.8 L953.8,1398.6 L971.8,1405.4 L971.8,1401.6 L990.5,1401.6Z" fill="#0d0d0d"/>
<text x="-518.93" y="33.50" font-size="40.58" fill="#000" style="font-family:'Liberation Sans',Arial,sans-serif" textLength="72.66" lengthAdjust="spacingAndGlyphs" transform="rotate(-90)" >E−E</text>
<text x="-445.90" y="40.00" font-size="23.04" fill="#000" style="font-family:'Liberation Sans',Arial,sans-serif" textLength="13.71" lengthAdjust="spacingAndGlyphs" transform="rotate(-90)" >F</text>
<text x="-420.69" y="33.71" font-size="40.43" fill="#000" style="font-family:'Liberation Sans',Arial,sans-serif" textLength="75.14" lengthAdjust="spacingAndGlyphs" transform="rotate(-90)" >(eV)</text>
<text x="-1476.73" y="33.50" font-size="40.58" fill="#000" style="font-family:'Liberation Sans',Arial,sans-serif" textLength="72.66" lengthAdjust="spacingAndGlyphs" transform="rotate(-90)" >E−E</text>
<text x="-1403.70" y="40.00" font-size="23.04" fill="#000" style="font-family:'Liberation Sans',Arial,sans-serif" textLength="13.71" lengthAdjust="spacingAndGlyphs" transform="rotate(-90)" >F</text>
<text x="-1378.49" y="33.71" font-size="40.43" fill="#000" style="font-family:'Liberation Sans',Arial,sans-serif" textLength="75.14" lengthAdjust="spacingAndGlyphs" transform="rotate(-90)" >(eV)</text>
<text x="254.53" y="440.50" font-size="38.62" fill="#000" style="font-family:'Liberation Sans',Arial,sans-serif;font-style:italic" textLength="18.86" lengthAdjust="spacingAndGlyphs" >k</text>
<text x="273.17" y="453.20" font-size="23.18" fill="#000" style="font-family:'Liberation Serif','Times New Roman',serif" textLength="31.32" lengthAdjust="spacingAndGlyphs" >AL</text>
<text x="316.31" y="440.56" font-size="40.21" fill="#000" style="font-family:'Liberation Sans',Arial,sans-serif" textLength="9.93" lengthAdjust="spacingAndGlyphs" >(</text>
<text x="328.70" y="440.50" font-size="39.54" fill="#000" style="font-family:'Liberation Sans',Arial,sans-serif" textLength="25.48" lengthAdjust="spacingAndGlyphs" >Å</text>
<text x="353.56" y="426.80" font-size="23.04" fill="#000" style="font-family:'Liberation Sans',Arial,sans-serif" textLength="23.68" lengthAdjust="spacingAndGlyphs" >−1</text>
<text x="382.52" y="440.56" font-size="40.21" fill="#000" style="font-family:'Liberation Sans',Arial,sans-serif" textLength="11.94" lengthAdjust="spacingAndGlyphs" >)</text>
<text x="249.95" y="918.70" font-size="39.03" fill="#000" style="font-family:'Liberation Sans',Arial,sans-serif;font-style:italic" textLength="18.38" lengthAdjust="spacingAndGlyphs" >k</text>
<text x="268.92" y="924.70" font-size="23.40" fill="#000" style="font-family:'Liberation Sans',Arial,sans-serif;font-style:italic" textLength="11.63" lengthAdjust="spacingAndGlyphs" >z</text>
<text x="286.42" y="918.43" font-size="39.36" fill="#000" style="font-family:'Liberation Sans',Arial,sans-serif" textLength="102.04" lengthAdjust="spacingAndGlyphs" >(2π/c)</text>
<text x="931.73" y="918.70" font-size="39.17" fill="#000" style="font-family:'Liberation Sans',Arial,sans-serif;font-style:italic" textLength="18.86" lengthAdjust="spacingAndGlyphs" >k</text>
<text x="952.02" y="924.70" font-size="23.40" fill="#000" style="font-family:'Liberation Sans',Arial,sans-serif;font-style:italic" textLength="10.26" lengthAdjust="spacingAndGlyphs" >x</text>
<text x="974.83" y="918.68" font-size="39.14" fill="#000" style="font-family:'Liberation Sans',Arial,sans-serif" textLength="9.80" lengthAdjust="spacingAndGlyphs" >(</text>
<text x="986.50" y="918.70" font-size="40.57" fill="#000" style="font-family:'Liberation Sans',Arial,sans-serif" textLength="26.38" lengthAdjust="spacingAndGlyphs" >Å</text>
<text x="1011.83" y="905.00" font-size="21.88" fill="#000" style="font-family:'Liberation Sans',Arial,sans-serif" textLength="22.04" lengthAdjust="spacingAndGlyphs" >−1</text>
<text x="1038.84" y="918.68" font-size="39.14" fill="#000" style="font-family:'Liberation Sans',Arial,sans-serif" textLength="10.81" lengthAdjust="spacingAndGlyphs" >)</text>
<text x="372.85" y="-1456.50" font-size="38.90" fill="#000" style="font-family:'Liberation Sans',Arial,sans-serif;font-style:italic" textLength="18.38" lengthAdjust="spacingAndGlyphs" transform="rotate(90)" >k</text>
<text x="392.65" y="-1450.07" font-size="22.70" fill="#000" style="font-family:'Liberation Sans',Arial,sans-serif;font-style:italic" textLength="10.50" lengthAdjust="spacingAndGlyphs" transform="rotate(90)" >y</text>
<text x="415.05" y="-1456.40" font-size="39.04" fill="#000" style="font-family:'Liberation Sans',Arial,sans-serif" textLength="10.81" lengthAdjust="spacingAndGlyphs" transform="rotate(90)" >(</text>
<text x="427.30" y="-1456.50" font-size="39.54" fill="#000" style="font-family:'Liberation Sans',Arial,sans-serif" textLength="25.48" lengthAdjust="spacingAndGlyphs" transform="rotate(90)" >Å</text>
<text x="452.98" y="-1469.50" font-size="23.91" fill="#000" style="font-family:'Liberation Sans',Arial,sans-serif" textLength="23.24" lengthAdjust="spacingAndGlyphs" transform="rotate(90)" >−1</text>
<text x="481.33" y="-1456.40" font-size="39.04" fill="#000" style="font-family:'Liberation Sans',Arial,sans-serif" textLength="11.31" lengthAdjust="spacingAndGlyphs" transform="rotate(90)" >)</text>
<defs><linearGradient id="gs" x1="0" y1="0" x2="0" y2="1"><stop offset="0" stop-color="#2e4ead"/><stop offset="0.15" stop-color="#3c52b2"/><stop offset="0.3" stop-color="#6d78c6"/><stop offset="0.42" stop-color="#b4b8e4"/><stop offset="0.5" stop-color="#ffffff"/><stop offset="0.58" stop-color="#fcd4d8"/><stop offset="0.72" stop-color="#f6969e"/><stop offset="0.86" stop-color="#ea5258"/><stop offset="1" stop-color="#de2a22"/></linearGradient><linearGradient id="gi" x1="0" y1="0" x2="0" y2="1"><stop offset="0" stop-color="#100c0a"/><stop offset="0.1" stop-color="#2e1a0e"/><stop offset="0.22" stop-color="#6a3816"/><stop offset="0.33" stop-color="#b25a16"/><stop offset="0.44" stop-color="#ea7818"/><stop offset="0.57" stop-color="#f6a050"/><stop offset="0.7" stop-color="#fbc898"/><stop offset="0.84" stop-color="#fde6d6"/><stop offset="1" stop-color="#ffffff"/></linearGradient></defs>
<rect x="1428.3" y="1097" width="18" height="223" fill="url(#gs)"/>
<rect x="1428.3" y="1461.5" width="18.2" height="222.5" fill="url(#gi)"/>
<text x="1172.86" y="-1480.25" font-size="36.63" fill="#000" style="font-family:'Liberation Sans',Arial,sans-serif" textLength="22.64" lengthAdjust="spacingAndGlyphs" transform="rotate(90)" >&lt;</text>
<text x="1208.91" y="-1478.51" font-size="40.70" fill="#000" style="font-family:'Liberation Sans',Arial,sans-serif;font-style:italic" textLength="24.23" lengthAdjust="spacingAndGlyphs" transform="rotate(90)" >S</text>
<text x="1243.53" y="-1480.25" font-size="36.63" fill="#000" style="font-family:'Liberation Sans',Arial,sans-serif" textLength="23.00" lengthAdjust="spacingAndGlyphs" transform="rotate(90)" >&gt;</text>
<text x="1499.98" y="-1473.64" font-size="39.25" fill="#000" style="font-family:'Liberation Sans',Arial,sans-serif" textLength="145.58" lengthAdjust="spacingAndGlyphs" transform="rotate(90)" >Intensity</text>
<rect x="117.5" y="49.5" width="411" height="290" fill="none" stroke="#0d0d0d" stroke-width="3"/>
<line x1="108.5" y1="128.5" x2="117" y2="128.5" stroke="#0d0d0d" stroke-width="3" />
<line x1="108.5" y1="251.8" x2="117" y2="251.8" stroke="#0d0d0d" stroke-width="3" />
<line x1="160.3" y1="340" x2="160.3" y2="348.5" stroke="#0d0d0d" stroke-width="3" />
<line x1="323.6" y1="340" x2="323.6" y2="348.5" stroke="#0d0d0d" stroke-width="3" />
<line x1="486.7" y1="340" x2="486.7" y2="348.5" stroke="#0d0d0d" stroke-width="3" />
<text x="117.75" y="32.46" font-size="39.25" fill="#000" style="font-family:'Liberation Sans',Arial,sans-serif" textLength="50.00" lengthAdjust="spacingAndGlyphs" >(a)</text>
<text x="-152.88" y="97.68" font-size="41.83" fill="#000" style="font-family:'Liberation Sans',Arial,sans-serif" textLength="55.08" lengthAdjust="spacingAndGlyphs" transform="rotate(-90)" >0.0</text>
<text x="-297.99" y="97.68" font-size="41.83" fill="#000" style="font-family:'Liberation Sans',Arial,sans-serif" textLength="78.44" lengthAdjust="spacingAndGlyphs" transform="rotate(-90)" >−0.3</text>
<text x="109.10" y="392.01" font-size="38.87" fill="#000" style="font-family:'Liberation Sans',Arial,sans-serif" textLength="78.97" lengthAdjust="spacingAndGlyphs" >−0.5</text>
<text x="296.43" y="392.01" font-size="38.87" fill="#000" style="font-family:'Liberation Sans',Arial,sans-serif" textLength="54.55" lengthAdjust="spacingAndGlyphs" >0.0</text>
<text x="459.52" y="392.01" font-size="38.87" fill="#000" style="font-family:'Liberation Sans',Arial,sans-serif" textLength="55.08" lengthAdjust="spacingAndGlyphs" >0.5</text>
<rect x="117.5" y="525.5" width="411" height="289" fill="none" stroke="#0d0d0d" stroke-width="3"/>
<line x1="108.5" y1="604.1" x2="117" y2="604.1" stroke="#0d0d0d" stroke-width="3" />
<line x1="108.5" y1="727.4" x2="117" y2="727.4" stroke="#0d0d0d" stroke-width="3" />
<line x1="118.9" y1="815" x2="118.9" y2="823.3" stroke="#0d0d0d" stroke-width="3" />
<line x1="301.5" y1="815" x2="301.5" y2="823.3" stroke="#0d0d0d" stroke-width="3" />
<line x1="483.8" y1="815" x2="483.8" y2="823.3" stroke="#0d0d0d" stroke-width="3" />
<text x="117.96" y="508.26" font-size="39.25" fill="#000" style="font-family:'Liberation Sans',Arial,sans-serif" textLength="49.78" lengthAdjust="spacingAndGlyphs" >(b)</text>
<text x="-627.96" y="97.09" font-size="40.70" fill="#000" style="font-family:'Liberation Sans',Arial,sans-serif" textLength="54.23" lengthAdjust="spacingAndGlyphs" transform="rotate(-90)" >0.0</text>
<text x="-773.79" y="97.09" font-size="40.70" fill="#000" style="font-family:'Liberation Sans',Arial,sans-serif" textLength="78.55" lengthAdjust="spacingAndGlyphs" transform="rotate(-90)" >−0.3</text>
<text x="108.61" y="867.22" font-size="37.75" fill="#000" style="font-family:'Liberation Sans',Arial,sans-serif" textLength="22.13" lengthAdjust="spacingAndGlyphs" >3</text>
<text x="289.92" y="867.60" font-size="38.84" fill="#000" style="font-family:'Liberation Sans',Arial,sans-serif" textLength="21.59" lengthAdjust="spacingAndGlyphs" >4</text>
<text x="472.56" y="867.22" font-size="38.29" fill="#000" style="font-family:'Liberation Sans',Arial,sans-serif" textLength="22.83" lengthAdjust="spacingAndGlyphs" >5</text>
<rect x="608.1" y="49.5" width="765.8000000000001" height="766" fill="none" stroke="#0d0d0d" stroke-width="3"/>
<text x="608.59" y="32.69" font-size="39.57" fill="#000" style="font-family:'Liberation Sans',Arial,sans-serif" textLength="46.76" lengthAdjust="spacingAndGlyphs" >(c)</text>
<line x1="672" y1="815.5" x2="672" y2="824" stroke="#0d0d0d" stroke-width="3" />
<line x1="831.3" y1="815.5" x2="831.3" y2="824" stroke="#0d0d0d" stroke-width="3" />
<line x1="989.3" y1="815.5" x2="989.3" y2="824" stroke="#0d0d0d" stroke-width="3" />
<line x1="1148.2" y1="815.5" x2="1148.2" y2="824" stroke="#0d0d0d" stroke-width="3" />
<line x1="1309.3" y1="815.5" x2="1309.3" y2="824" stroke="#0d0d0d" stroke-width="3" />
<line x1="1374" y1="113.4" x2="1382.5" y2="113.4" stroke="#0d0d0d" stroke-width="3" />
<line x1="1374" y1="272.8" x2="1382.5" y2="272.8" stroke="#0d0d0d" stroke-width="3" />
<line x1="1374" y1="430.5" x2="1382.5" y2="430.5" stroke="#0d0d0d" stroke-width="3" />
<line x1="1374" y1="587.7" x2="1382.5" y2="587.7" stroke="#0d0d0d" stroke-width="3" />
<line x1="1374" y1="746.3" x2="1382.5" y2="746.3" stroke="#0d0d0d" stroke-width="3" />
<text x="620.17" y="871.11" font-size="39.44" fill="#000" style="font-family:'Liberation Sans',Arial,sans-serif" textLength="80.22" lengthAdjust="spacingAndGlyphs" >−1.0</text>
<text x="780.61" y="871.11" font-size="39.44" fill="#000" style="font-family:'Liberation Sans',Arial,sans-serif" textLength="78.76" lengthAdjust="spacingAndGlyphs" >−0.5</text>
<text x="962.89" y="871.11" font-size="39.44" fill="#000" style="font-family:'Liberation Sans',Arial,sans-serif" textLength="56.03" lengthAdjust="spacingAndGlyphs" >0.0</text>
<text x="1122.40" y="871.11" font-size="39.44" fill="#000" style="font-family:'Liberation Sans',Arial,sans-serif" textLength="55.50" lengthAdjust="spacingAndGlyphs" >0.5</text>
<text x="1280.95" y="871.11" font-size="39.44" fill="#000" style="font-family:'Liberation Sans',Arial,sans-serif" textLength="54.63" lengthAdjust="spacingAndGlyphs" >1.0</text>
<text x="86.26" y="-1397.91" font-size="41.27" fill="#000" style="font-family:'Liberation Sans',Arial,sans-serif" textLength="54.41" lengthAdjust="spacingAndGlyphs" transform="rotate(90)" >1.0</text>
<text x="246.15" y="-1397.91" font-size="41.27" fill="#000" style="font-family:'Liberation Sans',Arial,sans-serif" textLength="54.01" lengthAdjust="spacingAndGlyphs" transform="rotate(90)" >0.5</text>
<text x="404.78" y="-1397.91" font-size="41.27" fill="#000" style="font-family:'Liberation Sans',Arial,sans-serif" textLength="52.86" lengthAdjust="spacingAndGlyphs" transform="rotate(90)" >0.0</text>
<text x="537.81" y="-1397.91" font-size="41.27" fill="#000" style="font-family:'Liberation Sans',Arial,sans-serif" textLength="78.65" lengthAdjust="spacingAndGlyphs" transform="rotate(90)" >−0.5</text>
<text x="694.21" y="-1397.91" font-size="41.27" fill="#000" style="font-family:'Liberation Sans',Arial,sans-serif" textLength="78.44" lengthAdjust="spacingAndGlyphs" transform="rotate(90)" >−1.0</text>
<rect x="118.0" y="1017.5" width="587.5" height="747.4000000000001" fill="none" stroke="#0d0d0d" stroke-width="3"/>
<text x="118.22" y="1000.36" font-size="39.25" fill="#000" style="font-family:'Liberation Sans',Arial,sans-serif" textLength="50.56" lengthAdjust="spacingAndGlyphs" >(d)</text>
<line x1="108.5" y1="1142.1" x2="117.5" y2="1142.1" stroke="#0d0d0d" stroke-width="3" />
<line x1="108.5" y1="1266.2" x2="117.5" y2="1266.2" stroke="#0d0d0d" stroke-width="3" />
<line x1="108.5" y1="1391.3" x2="117.5" y2="1391.3" stroke="#0d0d0d" stroke-width="3" />
<line x1="108.5" y1="1515.4" x2="117.5" y2="1515.4" stroke="#0d0d0d" stroke-width="3" />
<line x1="108.5" y1="1639.8" x2="117.5" y2="1639.8" stroke="#0d0d0d" stroke-width="3" />
<line x1="118.3" y1="1765" x2="118.3" y2="1773.5" stroke="#0d0d0d" stroke-width="3" />
<line x1="411.6" y1="1765" x2="411.6" y2="1773.5" stroke="#0d0d0d" stroke-width="3" />
<line x1="705.3" y1="1765" x2="705.3" y2="1773.5" stroke="#0d0d0d" stroke-width="3" />
<text x="-1169.39" y="96.68" font-size="41.69" fill="#000" style="font-family:'Liberation Sans',Arial,sans-serif" textLength="52.62" lengthAdjust="spacingAndGlyphs" transform="rotate(-90)" >2.0</text>
<text x="-1295.49" y="96.68" font-size="41.69" fill="#000" style="font-family:'Liberation Sans',Arial,sans-serif" textLength="53.65" lengthAdjust="spacingAndGlyphs" transform="rotate(-90)" >1.0</text>
<text x="-1419.10" y="96.68" font-size="41.69" fill="#000" style="font-family:'Liberation Sans',Arial,sans-serif" textLength="52.12" lengthAdjust="spacingAndGlyphs" transform="rotate(-90)" >0.0</text>
<text x="-1558.12" y="96.68" font-size="41.69" fill="#000" style="font-family:'Liberation Sans',Arial,sans-serif" textLength="87.64" lengthAdjust="spacingAndGlyphs" transform="rotate(-90)" >−1.0</text>
<text x="-1684.86" y="96.68" font-size="41.69" fill="#000" style="font-family:'Liberation Sans',Arial,sans-serif" textLength="89.41" lengthAdjust="spacingAndGlyphs" transform="rotate(-90)" >−2.0</text>
<text x="100.66" y="1819.30" font-size="41.07" fill="#000" style="font-family:'Liberation Serif','Times New Roman',serif" textLength="37.40" lengthAdjust="spacingAndGlyphs" >H'</text>
<text x="397.19" y="1819.30" font-size="39.85" fill="#000" style="font-family:'Liberation Serif','Times New Roman',serif" textLength="29.30" lengthAdjust="spacingAndGlyphs" >A</text>
<text x="690.26" y="1819.40" font-size="40.00" fill="#000" style="font-family:'Liberation Serif','Times New Roman',serif" textLength="29.76" lengthAdjust="spacingAndGlyphs" >H</text>
<rect x="785.3" y="1017.3" width="587.6000000000001" height="746.8" fill="none" stroke="#0d0d0d" stroke-width="3"/>
<text x="784.85" y="1000.61" font-size="39.47" fill="#000" style="font-family:'Liberation Sans',Arial,sans-serif" textLength="50.00" lengthAdjust="spacingAndGlyphs" >(e)</text>
<line x1="775.8" y1="1142.5" x2="785" y2="1142.5" stroke="#0d0d0d" stroke-width="3" />
<line x1="775.8" y1="1266.6" x2="785" y2="1266.6" stroke="#0d0d0d" stroke-width="3" />
<line x1="775.8" y1="1391.3" x2="785" y2="1391.3" stroke="#0d0d0d" stroke-width="3" />
<line x1="775.8" y1="1515.4" x2="785" y2="1515.4" stroke="#0d0d0d" stroke-width="3" />
<line x1="775.8" y1="1639.8" x2="785" y2="1639.8" stroke="#0d0d0d" stroke-width="3" />
<line x1="785.7" y1="1764.5" x2="785.7" y2="1773.5" stroke="#0d0d0d" stroke-width="3" />
<line x1="1079" y1="1764.5" x2="1079" y2="1773.5" stroke="#0d0d0d" stroke-width="3" />
<line x1="1372.5" y1="1764.5" x2="1372.5" y2="1773.5" stroke="#0d0d0d" stroke-width="3" />
<text x="769.37" y="1819.30" font-size="41.07" fill="#000" style="font-family:'Liberation Serif','Times New Roman',serif" textLength="32.52" lengthAdjust="spacingAndGlyphs" >L'</text>
<text x="1063.99" y="1819.30" font-size="39.85" fill="#000" style="font-family:'Liberation Serif','Times New Roman',serif" textLength="29.30" lengthAdjust="spacingAndGlyphs" >A</text>
<text x="1360.07" y="1818.50" font-size="38.02" fill="#000" style="font-family:'Liberation Serif','Times New Roman',serif" textLength="27.14" lengthAdjust="spacingAndGlyphs" >L</text>
<text x="1410.39" y="1078.62" font-size="38.17" fill="#000" style="font-family:'Liberation Sans',Arial,sans-serif" textLength="53.87" lengthAdjust="spacingAndGlyphs" >1.0</text>
<text x="1382.49" y="1357.53" font-size="37.32" fill="#000" style="font-family:'Liberation Sans',Arial,sans-serif" textLength="79.49" lengthAdjust="spacingAndGlyphs" >−1.0</text>
<text x="1398.29" y="1444.10" font-size="40.00" fill="#000" style="font-family:'Liberation Sans',Arial,sans-serif" textLength="75.88" lengthAdjust="spacingAndGlyphs" >Max</text>
<text x="1400.72" y="1721.80" font-size="36.97" fill="#000" style="font-family:'Liberation Sans',Arial,sans-serif" textLength="66.00" lengthAdjust="spacingAndGlyphs" >Min</text>
</svg></body></html>
